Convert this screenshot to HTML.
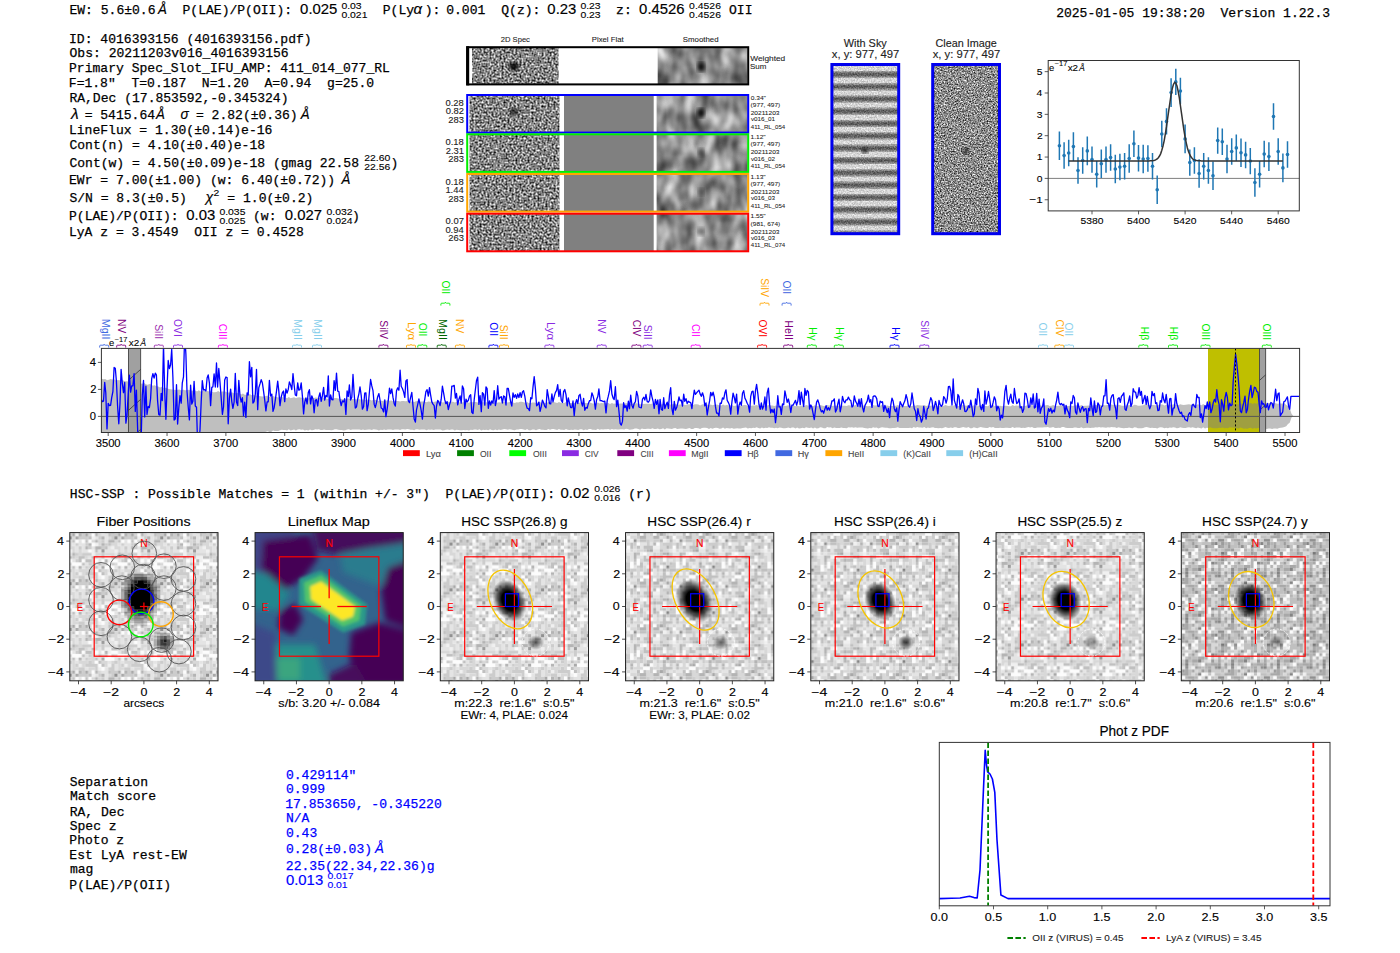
<!DOCTYPE html>
<html><head><meta charset="utf-8"><style>html,body{margin:0;padding:0;background:#fff;overflow:hidden}svg{display:block}</style></head>
<body><svg width="1400" height="953" viewBox="0 0 1400 953">
<defs>
<filter id="nz1" x="0" y="0" width="100%" height="100%" color-interpolation-filters="sRGB">
 <feTurbulence type="fractalNoise" baseFrequency="0.5" numOctaves="1" seed="3"/>
 <feColorMatrix type="matrix" values="0 0 0 0 0  0 0 0 0 0  0 0 0 0 0  1 0 0 0 0"/>
 <feComponentTransfer><feFuncA type="linear" slope="1.6" intercept="-0.28"/></feComponentTransfer>
 <feColorMatrix type="matrix" values="0 0 0 1 0  0 0 0 1 0  0 0 0 1 0  0 0 0 0 1"/>
 <feComposite in2="SourceGraphic" operator="in"/>
</filter>
<filter id="nz2" x="0" y="0" width="100%" height="100%" color-interpolation-filters="sRGB">
 <feTurbulence type="fractalNoise" baseFrequency="0.7" numOctaves="2" seed="7"/>
 <feColorMatrix type="matrix" values="0 0 0 0 0  0 0 0 0 0  0 0 0 0 0  1 0 0 0 0"/>
 <feComponentTransfer><feFuncA type="linear" slope="1.5" intercept="-0.2"/></feComponentTransfer>
 <feColorMatrix type="matrix" values="0 0 0 1 0  0 0 0 1 0  0 0 0 1 0  0 0 0 0 1"/>
 <feComposite in2="SourceGraphic" operator="in"/>
</filter>
<filter id="smooth" x="0" y="0" width="100%" height="100%" color-interpolation-filters="sRGB">
 <feTurbulence type="fractalNoise" baseFrequency="0.075 0.045" numOctaves="2" seed="11"/>
 <feColorMatrix type="matrix" values="0 0 0 0 0  0 0 0 0 0  0 0 0 0 0  1 0 0 0 0"/>
 <feComponentTransfer><feFuncA type="linear" slope="0.9" intercept="0.1"/></feComponentTransfer>
 <feColorMatrix type="matrix" values="0 0 0 1 0  0 0 0 1 0  0 0 0 1 0  0 0 0 0 1"/>
 <feComposite in2="SourceGraphic" operator="in"/>
</filter>
<filter id="blur15"><feGaussianBlur stdDeviation="1.5"/></filter>
<filter id="blur2"><feGaussianBlur stdDeviation="2"/></filter>
<filter id="blur3"><feGaussianBlur stdDeviation="3"/></filter>
<pattern id="tA" patternUnits="userSpaceOnUse" width="45.78" height="45.78"><path d="M22.9 32.7h3.32v3.32h-3.32z" fill="rgb(144,144,144)"/><path d="M9.8 0.0h3.32v3.32h-3.32z" fill="rgb(156,156,156)"/><path d="M9.8 16.4h3.32v3.32h-3.32zM26.2 29.4h3.32v3.32h-3.32zM29.4 32.7h3.32v3.32h-3.32zM39.2 29.4h3.32v3.32h-3.32z" fill="rgb(168,168,168)"/><path d="M3.3 29.4h3.32v3.32h-3.32zM3.3 36.0h3.32v3.32h-3.32zM3.3 42.5h3.32v3.32h-3.32zM6.5 42.5h3.32v3.32h-3.32zM9.8 32.7h3.32v3.32h-3.32zM9.8 39.2h3.32v3.32h-3.32zM13.1 9.8h3.32v3.32h-3.32zM16.4 36.0h3.32v3.32h-3.32zM19.6 36.0h3.32v3.32h-3.32zM26.2 3.3h3.32v3.32h-3.32zM32.7 16.4h3.32v3.32h-3.32zM32.7 29.4h3.32v3.32h-3.32zM39.2 42.5h3.32v3.32h-3.32zM42.5 39.2h3.32v3.32h-3.32z" fill="rgb(180,180,180)"/><path d="M0.0 6.5h3.32v3.32h-3.32zM3.3 0.0h3.32v3.32h-3.32zM3.3 16.4h3.32v3.32h-3.32zM6.5 13.1h3.32v3.32h-3.32zM6.5 19.6h3.32v3.32h-3.32zM9.8 22.9h3.32v3.32h-3.32zM13.1 42.5h3.32v3.32h-3.32zM16.4 29.4h3.32v3.32h-3.32zM16.4 39.2h3.32v3.32h-3.32zM19.6 6.5h3.32v3.32h-3.32zM22.9 6.5h3.32v3.32h-3.32zM26.2 16.4h3.32v3.32h-3.32zM26.2 36.0h3.32v3.32h-3.32zM32.7 6.5h3.32v3.32h-3.32zM32.7 9.8h3.32v3.32h-3.32zM36.0 6.5h3.32v3.32h-3.32zM36.0 13.1h3.32v3.32h-3.32zM39.2 9.8h3.32v3.32h-3.32zM39.2 36.0h3.32v3.32h-3.32zM42.5 9.8h3.32v3.32h-3.32zM42.5 32.7h3.32v3.32h-3.32z" fill="rgb(192,192,192)"/><path d="M0.0 22.9h3.32v3.32h-3.32zM3.3 22.9h3.32v3.32h-3.32zM3.3 26.2h3.32v3.32h-3.32zM6.5 32.7h3.32v3.32h-3.32zM9.8 3.3h3.32v3.32h-3.32zM9.8 6.5h3.32v3.32h-3.32zM9.8 36.0h3.32v3.32h-3.32zM9.8 42.5h3.32v3.32h-3.32zM13.1 13.1h3.32v3.32h-3.32zM13.1 39.2h3.32v3.32h-3.32zM16.4 26.2h3.32v3.32h-3.32zM19.6 13.1h3.32v3.32h-3.32zM19.6 22.9h3.32v3.32h-3.32zM19.6 26.2h3.32v3.32h-3.32zM19.6 29.4h3.32v3.32h-3.32zM19.6 32.7h3.32v3.32h-3.32zM22.9 19.6h3.32v3.32h-3.32zM22.9 29.4h3.32v3.32h-3.32zM26.2 6.5h3.32v3.32h-3.32zM29.4 3.3h3.32v3.32h-3.32zM29.4 9.8h3.32v3.32h-3.32zM29.4 22.9h3.32v3.32h-3.32zM29.4 39.2h3.32v3.32h-3.32zM32.7 26.2h3.32v3.32h-3.32zM32.7 32.7h3.32v3.32h-3.32zM32.7 42.5h3.32v3.32h-3.32zM36.0 3.3h3.32v3.32h-3.32zM36.0 26.2h3.32v3.32h-3.32zM36.0 29.4h3.32v3.32h-3.32zM36.0 32.7h3.32v3.32h-3.32zM39.2 3.3h3.32v3.32h-3.32zM39.2 16.4h3.32v3.32h-3.32zM39.2 22.9h3.32v3.32h-3.32zM39.2 32.7h3.32v3.32h-3.32zM39.2 39.2h3.32v3.32h-3.32zM42.5 3.3h3.32v3.32h-3.32zM42.5 13.1h3.32v3.32h-3.32zM42.5 19.6h3.32v3.32h-3.32zM42.5 22.9h3.32v3.32h-3.32zM42.5 42.5h3.32v3.32h-3.32z" fill="rgb(204,204,204)"/><path d="M0.0 9.8h3.32v3.32h-3.32zM0.0 13.1h3.32v3.32h-3.32zM0.0 16.4h3.32v3.32h-3.32zM0.0 19.6h3.32v3.32h-3.32zM0.0 26.2h3.32v3.32h-3.32zM0.0 36.0h3.32v3.32h-3.32zM3.3 3.3h3.32v3.32h-3.32zM3.3 6.5h3.32v3.32h-3.32zM6.5 3.3h3.32v3.32h-3.32zM6.5 29.4h3.32v3.32h-3.32zM6.5 36.0h3.32v3.32h-3.32zM6.5 39.2h3.32v3.32h-3.32zM9.8 13.1h3.32v3.32h-3.32zM9.8 19.6h3.32v3.32h-3.32zM13.1 3.3h3.32v3.32h-3.32zM13.1 19.6h3.32v3.32h-3.32zM13.1 22.9h3.32v3.32h-3.32zM16.4 3.3h3.32v3.32h-3.32zM16.4 32.7h3.32v3.32h-3.32zM19.6 3.3h3.32v3.32h-3.32zM19.6 19.6h3.32v3.32h-3.32zM19.6 39.2h3.32v3.32h-3.32zM22.9 13.1h3.32v3.32h-3.32zM22.9 36.0h3.32v3.32h-3.32zM22.9 39.2h3.32v3.32h-3.32zM22.9 42.5h3.32v3.32h-3.32zM26.2 0.0h3.32v3.32h-3.32zM26.2 19.6h3.32v3.32h-3.32zM26.2 22.9h3.32v3.32h-3.32zM26.2 26.2h3.32v3.32h-3.32zM26.2 32.7h3.32v3.32h-3.32zM26.2 42.5h3.32v3.32h-3.32zM29.4 6.5h3.32v3.32h-3.32zM29.4 26.2h3.32v3.32h-3.32zM32.7 0.0h3.32v3.32h-3.32zM32.7 3.3h3.32v3.32h-3.32zM32.7 19.6h3.32v3.32h-3.32zM36.0 19.6h3.32v3.32h-3.32zM36.0 22.9h3.32v3.32h-3.32zM39.2 6.5h3.32v3.32h-3.32zM39.2 19.6h3.32v3.32h-3.32zM42.5 16.4h3.32v3.32h-3.32zM42.5 26.2h3.32v3.32h-3.32zM42.5 29.4h3.32v3.32h-3.32z" fill="rgb(216,216,216)"/><path d="M0.0 42.5h3.32v3.32h-3.32zM3.3 13.1h3.32v3.32h-3.32zM3.3 32.7h3.32v3.32h-3.32zM6.5 0.0h3.32v3.32h-3.32zM6.5 6.5h3.32v3.32h-3.32zM6.5 9.8h3.32v3.32h-3.32zM6.5 16.4h3.32v3.32h-3.32zM9.8 29.4h3.32v3.32h-3.32zM13.1 0.0h3.32v3.32h-3.32zM13.1 26.2h3.32v3.32h-3.32zM13.1 29.4h3.32v3.32h-3.32zM13.1 32.7h3.32v3.32h-3.32zM13.1 36.0h3.32v3.32h-3.32zM16.4 0.0h3.32v3.32h-3.32zM16.4 19.6h3.32v3.32h-3.32zM16.4 42.5h3.32v3.32h-3.32zM19.6 0.0h3.32v3.32h-3.32zM22.9 3.3h3.32v3.32h-3.32zM22.9 16.4h3.32v3.32h-3.32zM22.9 22.9h3.32v3.32h-3.32zM22.9 26.2h3.32v3.32h-3.32zM26.2 9.8h3.32v3.32h-3.32zM26.2 39.2h3.32v3.32h-3.32zM29.4 0.0h3.32v3.32h-3.32zM29.4 19.6h3.32v3.32h-3.32zM29.4 42.5h3.32v3.32h-3.32zM32.7 36.0h3.32v3.32h-3.32zM32.7 39.2h3.32v3.32h-3.32zM36.0 0.0h3.32v3.32h-3.32zM36.0 16.4h3.32v3.32h-3.32zM36.0 39.2h3.32v3.32h-3.32zM36.0 42.5h3.32v3.32h-3.32zM39.2 0.0h3.32v3.32h-3.32zM39.2 13.1h3.32v3.32h-3.32zM39.2 26.2h3.32v3.32h-3.32zM42.5 6.5h3.32v3.32h-3.32z" fill="rgb(228,228,228)"/><path d="M0.0 0.0h3.32v3.32h-3.32zM0.0 3.3h3.32v3.32h-3.32zM0.0 32.7h3.32v3.32h-3.32zM3.3 39.2h3.32v3.32h-3.32zM6.5 26.2h3.32v3.32h-3.32zM13.1 6.5h3.32v3.32h-3.32zM16.4 6.5h3.32v3.32h-3.32zM16.4 9.8h3.32v3.32h-3.32zM16.4 22.9h3.32v3.32h-3.32zM19.6 42.5h3.32v3.32h-3.32zM22.9 0.0h3.32v3.32h-3.32zM29.4 16.4h3.32v3.32h-3.32zM29.4 29.4h3.32v3.32h-3.32zM32.7 22.9h3.32v3.32h-3.32z" fill="rgb(240,240,240)"/><path d="M0.0 29.4h3.32v3.32h-3.32zM0.0 39.2h3.32v3.32h-3.32zM3.3 9.8h3.32v3.32h-3.32zM3.3 19.6h3.32v3.32h-3.32zM6.5 22.9h3.32v3.32h-3.32zM9.8 9.8h3.32v3.32h-3.32zM9.8 26.2h3.32v3.32h-3.32zM13.1 16.4h3.32v3.32h-3.32zM16.4 13.1h3.32v3.32h-3.32zM16.4 16.4h3.32v3.32h-3.32zM19.6 9.8h3.32v3.32h-3.32zM19.6 16.4h3.32v3.32h-3.32zM22.9 9.8h3.32v3.32h-3.32zM26.2 13.1h3.32v3.32h-3.32zM29.4 13.1h3.32v3.32h-3.32zM29.4 36.0h3.32v3.32h-3.32zM32.7 13.1h3.32v3.32h-3.32zM36.0 9.8h3.32v3.32h-3.32zM36.0 36.0h3.32v3.32h-3.32zM42.5 0.0h3.32v3.32h-3.32zM42.5 36.0h3.32v3.32h-3.32z" fill="rgb(252,252,252)"/></pattern><pattern id="tB" patternUnits="userSpaceOnUse" width="45.78" height="45.78"><path d="M3.3 6.5h3.32v3.32h-3.32z" fill="rgb(132,132,132)"/><path d="M16.4 26.2h3.32v3.32h-3.32z" fill="rgb(144,144,144)"/><path d="M3.3 22.9h3.32v3.32h-3.32zM3.3 39.2h3.32v3.32h-3.32zM29.4 13.1h3.32v3.32h-3.32zM32.7 36.0h3.32v3.32h-3.32zM36.0 3.3h3.32v3.32h-3.32zM42.5 19.6h3.32v3.32h-3.32z" fill="rgb(168,168,168)"/><path d="M0.0 9.8h3.32v3.32h-3.32zM0.0 39.2h3.32v3.32h-3.32zM3.3 32.7h3.32v3.32h-3.32zM6.5 26.2h3.32v3.32h-3.32zM13.1 13.1h3.32v3.32h-3.32zM16.4 39.2h3.32v3.32h-3.32zM16.4 42.5h3.32v3.32h-3.32zM22.9 22.9h3.32v3.32h-3.32zM26.2 13.1h3.32v3.32h-3.32zM26.2 22.9h3.32v3.32h-3.32zM29.4 36.0h3.32v3.32h-3.32zM36.0 6.5h3.32v3.32h-3.32zM36.0 22.9h3.32v3.32h-3.32zM36.0 29.4h3.32v3.32h-3.32zM36.0 42.5h3.32v3.32h-3.32zM39.2 22.9h3.32v3.32h-3.32zM42.5 26.2h3.32v3.32h-3.32z" fill="rgb(180,180,180)"/><path d="M0.0 3.3h3.32v3.32h-3.32zM0.0 13.1h3.32v3.32h-3.32zM0.0 16.4h3.32v3.32h-3.32zM0.0 19.6h3.32v3.32h-3.32zM3.3 16.4h3.32v3.32h-3.32zM6.5 3.3h3.32v3.32h-3.32zM6.5 9.8h3.32v3.32h-3.32zM6.5 16.4h3.32v3.32h-3.32zM9.8 9.8h3.32v3.32h-3.32zM13.1 16.4h3.32v3.32h-3.32zM13.1 29.4h3.32v3.32h-3.32zM13.1 32.7h3.32v3.32h-3.32zM16.4 0.0h3.32v3.32h-3.32zM19.6 19.6h3.32v3.32h-3.32zM19.6 32.7h3.32v3.32h-3.32zM19.6 39.2h3.32v3.32h-3.32zM22.9 3.3h3.32v3.32h-3.32zM22.9 6.5h3.32v3.32h-3.32zM22.9 26.2h3.32v3.32h-3.32zM26.2 0.0h3.32v3.32h-3.32zM26.2 19.6h3.32v3.32h-3.32zM26.2 26.2h3.32v3.32h-3.32zM26.2 32.7h3.32v3.32h-3.32zM26.2 42.5h3.32v3.32h-3.32zM29.4 0.0h3.32v3.32h-3.32zM29.4 9.8h3.32v3.32h-3.32zM29.4 32.7h3.32v3.32h-3.32zM32.7 9.8h3.32v3.32h-3.32zM32.7 32.7h3.32v3.32h-3.32zM39.2 6.5h3.32v3.32h-3.32zM39.2 19.6h3.32v3.32h-3.32zM39.2 42.5h3.32v3.32h-3.32zM42.5 36.0h3.32v3.32h-3.32zM42.5 42.5h3.32v3.32h-3.32z" fill="rgb(192,192,192)"/><path d="M0.0 29.4h3.32v3.32h-3.32zM3.3 9.8h3.32v3.32h-3.32zM3.3 29.4h3.32v3.32h-3.32zM3.3 42.5h3.32v3.32h-3.32zM6.5 6.5h3.32v3.32h-3.32zM6.5 13.1h3.32v3.32h-3.32zM6.5 22.9h3.32v3.32h-3.32zM6.5 29.4h3.32v3.32h-3.32zM6.5 32.7h3.32v3.32h-3.32zM6.5 39.2h3.32v3.32h-3.32zM6.5 42.5h3.32v3.32h-3.32zM9.8 3.3h3.32v3.32h-3.32zM9.8 6.5h3.32v3.32h-3.32zM13.1 9.8h3.32v3.32h-3.32zM16.4 3.3h3.32v3.32h-3.32zM16.4 9.8h3.32v3.32h-3.32zM16.4 29.4h3.32v3.32h-3.32zM19.6 6.5h3.32v3.32h-3.32zM19.6 22.9h3.32v3.32h-3.32zM22.9 9.8h3.32v3.32h-3.32zM26.2 36.0h3.32v3.32h-3.32zM29.4 26.2h3.32v3.32h-3.32zM29.4 29.4h3.32v3.32h-3.32zM32.7 16.4h3.32v3.32h-3.32zM32.7 19.6h3.32v3.32h-3.32zM32.7 42.5h3.32v3.32h-3.32zM36.0 26.2h3.32v3.32h-3.32zM36.0 39.2h3.32v3.32h-3.32zM39.2 9.8h3.32v3.32h-3.32zM39.2 26.2h3.32v3.32h-3.32zM42.5 3.3h3.32v3.32h-3.32zM42.5 16.4h3.32v3.32h-3.32zM42.5 39.2h3.32v3.32h-3.32z" fill="rgb(204,204,204)"/><path d="M0.0 22.9h3.32v3.32h-3.32zM0.0 32.7h3.32v3.32h-3.32zM0.0 36.0h3.32v3.32h-3.32zM3.3 0.0h3.32v3.32h-3.32zM3.3 3.3h3.32v3.32h-3.32zM3.3 19.6h3.32v3.32h-3.32zM3.3 36.0h3.32v3.32h-3.32zM9.8 0.0h3.32v3.32h-3.32zM9.8 19.6h3.32v3.32h-3.32zM9.8 29.4h3.32v3.32h-3.32zM9.8 42.5h3.32v3.32h-3.32zM13.1 22.9h3.32v3.32h-3.32zM13.1 36.0h3.32v3.32h-3.32zM16.4 16.4h3.32v3.32h-3.32zM16.4 22.9h3.32v3.32h-3.32zM16.4 32.7h3.32v3.32h-3.32zM19.6 9.8h3.32v3.32h-3.32zM19.6 13.1h3.32v3.32h-3.32zM19.6 16.4h3.32v3.32h-3.32zM19.6 26.2h3.32v3.32h-3.32zM19.6 36.0h3.32v3.32h-3.32zM22.9 0.0h3.32v3.32h-3.32zM22.9 16.4h3.32v3.32h-3.32zM22.9 36.0h3.32v3.32h-3.32zM26.2 6.5h3.32v3.32h-3.32zM26.2 9.8h3.32v3.32h-3.32zM29.4 3.3h3.32v3.32h-3.32zM29.4 19.6h3.32v3.32h-3.32zM29.4 22.9h3.32v3.32h-3.32zM32.7 22.9h3.32v3.32h-3.32zM32.7 26.2h3.32v3.32h-3.32zM36.0 0.0h3.32v3.32h-3.32zM36.0 16.4h3.32v3.32h-3.32zM39.2 13.1h3.32v3.32h-3.32zM39.2 16.4h3.32v3.32h-3.32zM39.2 39.2h3.32v3.32h-3.32zM42.5 0.0h3.32v3.32h-3.32zM42.5 9.8h3.32v3.32h-3.32zM42.5 29.4h3.32v3.32h-3.32zM42.5 32.7h3.32v3.32h-3.32z" fill="rgb(216,216,216)"/><path d="M0.0 6.5h3.32v3.32h-3.32zM3.3 26.2h3.32v3.32h-3.32zM6.5 0.0h3.32v3.32h-3.32zM6.5 19.6h3.32v3.32h-3.32zM6.5 36.0h3.32v3.32h-3.32zM9.8 13.1h3.32v3.32h-3.32zM9.8 16.4h3.32v3.32h-3.32zM9.8 26.2h3.32v3.32h-3.32zM9.8 39.2h3.32v3.32h-3.32zM13.1 0.0h3.32v3.32h-3.32zM13.1 19.6h3.32v3.32h-3.32zM13.1 39.2h3.32v3.32h-3.32zM13.1 42.5h3.32v3.32h-3.32zM16.4 6.5h3.32v3.32h-3.32zM16.4 19.6h3.32v3.32h-3.32zM16.4 36.0h3.32v3.32h-3.32zM19.6 42.5h3.32v3.32h-3.32zM22.9 29.4h3.32v3.32h-3.32zM22.9 32.7h3.32v3.32h-3.32zM22.9 42.5h3.32v3.32h-3.32zM26.2 3.3h3.32v3.32h-3.32zM26.2 29.4h3.32v3.32h-3.32zM29.4 39.2h3.32v3.32h-3.32zM29.4 42.5h3.32v3.32h-3.32zM32.7 0.0h3.32v3.32h-3.32zM32.7 3.3h3.32v3.32h-3.32zM32.7 6.5h3.32v3.32h-3.32zM32.7 29.4h3.32v3.32h-3.32zM32.7 39.2h3.32v3.32h-3.32zM36.0 9.8h3.32v3.32h-3.32zM36.0 13.1h3.32v3.32h-3.32zM36.0 36.0h3.32v3.32h-3.32zM39.2 0.0h3.32v3.32h-3.32zM39.2 3.3h3.32v3.32h-3.32zM39.2 36.0h3.32v3.32h-3.32zM42.5 13.1h3.32v3.32h-3.32zM42.5 22.9h3.32v3.32h-3.32z" fill="rgb(228,228,228)"/><path d="M0.0 26.2h3.32v3.32h-3.32zM0.0 42.5h3.32v3.32h-3.32zM3.3 13.1h3.32v3.32h-3.32zM9.8 36.0h3.32v3.32h-3.32zM13.1 26.2h3.32v3.32h-3.32zM16.4 13.1h3.32v3.32h-3.32zM22.9 13.1h3.32v3.32h-3.32zM22.9 39.2h3.32v3.32h-3.32zM29.4 6.5h3.32v3.32h-3.32zM36.0 32.7h3.32v3.32h-3.32zM39.2 32.7h3.32v3.32h-3.32z" fill="rgb(240,240,240)"/><path d="M0.0 0.0h3.32v3.32h-3.32zM9.8 22.9h3.32v3.32h-3.32zM9.8 32.7h3.32v3.32h-3.32zM13.1 3.3h3.32v3.32h-3.32zM13.1 6.5h3.32v3.32h-3.32zM19.6 0.0h3.32v3.32h-3.32zM19.6 3.3h3.32v3.32h-3.32zM19.6 29.4h3.32v3.32h-3.32zM22.9 19.6h3.32v3.32h-3.32zM26.2 16.4h3.32v3.32h-3.32zM26.2 39.2h3.32v3.32h-3.32zM29.4 16.4h3.32v3.32h-3.32zM32.7 13.1h3.32v3.32h-3.32zM36.0 19.6h3.32v3.32h-3.32zM39.2 29.4h3.32v3.32h-3.32zM42.5 6.5h3.32v3.32h-3.32z" fill="rgb(252,252,252)"/></pattern><pattern id="tC" patternUnits="userSpaceOnUse" width="45.78" height="45.78"><path d="M3.3 42.5h3.32v3.32h-3.32zM36.0 29.4h3.32v3.32h-3.32z" fill="rgb(120,120,120)"/><path d="M3.3 3.3h3.32v3.32h-3.32zM6.5 3.3h3.32v3.32h-3.32zM13.1 29.4h3.32v3.32h-3.32zM19.6 32.7h3.32v3.32h-3.32zM22.9 32.7h3.32v3.32h-3.32z" fill="rgb(132,132,132)"/><path d="M3.3 32.7h3.32v3.32h-3.32zM6.5 42.5h3.32v3.32h-3.32zM13.1 22.9h3.32v3.32h-3.32zM19.6 42.5h3.32v3.32h-3.32zM32.7 6.5h3.32v3.32h-3.32zM36.0 32.7h3.32v3.32h-3.32z" fill="rgb(144,144,144)"/><path d="M0.0 26.2h3.32v3.32h-3.32zM0.0 29.4h3.32v3.32h-3.32zM3.3 6.5h3.32v3.32h-3.32zM13.1 26.2h3.32v3.32h-3.32zM29.4 39.2h3.32v3.32h-3.32zM32.7 0.0h3.32v3.32h-3.32zM32.7 29.4h3.32v3.32h-3.32zM36.0 22.9h3.32v3.32h-3.32zM42.5 32.7h3.32v3.32h-3.32zM42.5 42.5h3.32v3.32h-3.32z" fill="rgb(156,156,156)"/><path d="M0.0 22.9h3.32v3.32h-3.32zM3.3 26.2h3.32v3.32h-3.32zM3.3 36.0h3.32v3.32h-3.32zM9.8 26.2h3.32v3.32h-3.32zM9.8 29.4h3.32v3.32h-3.32zM13.1 13.1h3.32v3.32h-3.32zM13.1 16.4h3.32v3.32h-3.32zM13.1 32.7h3.32v3.32h-3.32zM13.1 39.2h3.32v3.32h-3.32zM19.6 9.8h3.32v3.32h-3.32zM19.6 16.4h3.32v3.32h-3.32zM19.6 19.6h3.32v3.32h-3.32zM22.9 16.4h3.32v3.32h-3.32zM22.9 22.9h3.32v3.32h-3.32zM26.2 26.2h3.32v3.32h-3.32zM29.4 6.5h3.32v3.32h-3.32zM29.4 29.4h3.32v3.32h-3.32zM29.4 32.7h3.32v3.32h-3.32zM32.7 16.4h3.32v3.32h-3.32zM36.0 36.0h3.32v3.32h-3.32zM39.2 22.9h3.32v3.32h-3.32zM42.5 19.6h3.32v3.32h-3.32zM42.5 26.2h3.32v3.32h-3.32z" fill="rgb(168,168,168)"/><path d="M3.3 0.0h3.32v3.32h-3.32zM6.5 9.8h3.32v3.32h-3.32zM6.5 26.2h3.32v3.32h-3.32zM9.8 22.9h3.32v3.32h-3.32zM9.8 36.0h3.32v3.32h-3.32zM13.1 36.0h3.32v3.32h-3.32zM16.4 19.6h3.32v3.32h-3.32zM16.4 29.4h3.32v3.32h-3.32zM16.4 36.0h3.32v3.32h-3.32zM16.4 39.2h3.32v3.32h-3.32zM22.9 6.5h3.32v3.32h-3.32zM26.2 0.0h3.32v3.32h-3.32zM29.4 0.0h3.32v3.32h-3.32zM29.4 9.8h3.32v3.32h-3.32zM32.7 3.3h3.32v3.32h-3.32zM36.0 3.3h3.32v3.32h-3.32zM39.2 0.0h3.32v3.32h-3.32zM39.2 16.4h3.32v3.32h-3.32zM39.2 19.6h3.32v3.32h-3.32zM39.2 29.4h3.32v3.32h-3.32zM39.2 36.0h3.32v3.32h-3.32zM42.5 6.5h3.32v3.32h-3.32zM42.5 13.1h3.32v3.32h-3.32z" fill="rgb(180,180,180)"/><path d="M0.0 9.8h3.32v3.32h-3.32zM0.0 13.1h3.32v3.32h-3.32zM0.0 32.7h3.32v3.32h-3.32zM0.0 36.0h3.32v3.32h-3.32zM0.0 39.2h3.32v3.32h-3.32zM3.3 16.4h3.32v3.32h-3.32zM3.3 22.9h3.32v3.32h-3.32zM3.3 29.4h3.32v3.32h-3.32zM6.5 6.5h3.32v3.32h-3.32zM6.5 13.1h3.32v3.32h-3.32zM6.5 32.7h3.32v3.32h-3.32zM6.5 36.0h3.32v3.32h-3.32zM9.8 0.0h3.32v3.32h-3.32zM9.8 39.2h3.32v3.32h-3.32zM13.1 0.0h3.32v3.32h-3.32zM13.1 3.3h3.32v3.32h-3.32zM16.4 0.0h3.32v3.32h-3.32zM16.4 3.3h3.32v3.32h-3.32zM16.4 6.5h3.32v3.32h-3.32zM16.4 42.5h3.32v3.32h-3.32zM19.6 39.2h3.32v3.32h-3.32zM22.9 0.0h3.32v3.32h-3.32zM22.9 39.2h3.32v3.32h-3.32zM26.2 13.1h3.32v3.32h-3.32zM26.2 16.4h3.32v3.32h-3.32zM26.2 42.5h3.32v3.32h-3.32zM32.7 39.2h3.32v3.32h-3.32zM32.7 42.5h3.32v3.32h-3.32zM36.0 26.2h3.32v3.32h-3.32zM36.0 39.2h3.32v3.32h-3.32zM39.2 13.1h3.32v3.32h-3.32zM42.5 0.0h3.32v3.32h-3.32z" fill="rgb(192,192,192)"/><path d="M0.0 0.0h3.32v3.32h-3.32zM0.0 42.5h3.32v3.32h-3.32zM3.3 13.1h3.32v3.32h-3.32zM6.5 16.4h3.32v3.32h-3.32zM9.8 6.5h3.32v3.32h-3.32zM13.1 9.8h3.32v3.32h-3.32zM16.4 13.1h3.32v3.32h-3.32zM16.4 26.2h3.32v3.32h-3.32zM19.6 0.0h3.32v3.32h-3.32zM19.6 6.5h3.32v3.32h-3.32zM19.6 13.1h3.32v3.32h-3.32zM19.6 29.4h3.32v3.32h-3.32zM22.9 26.2h3.32v3.32h-3.32zM26.2 22.9h3.32v3.32h-3.32zM26.2 36.0h3.32v3.32h-3.32zM29.4 22.9h3.32v3.32h-3.32zM29.4 26.2h3.32v3.32h-3.32zM29.4 36.0h3.32v3.32h-3.32zM32.7 26.2h3.32v3.32h-3.32zM36.0 19.6h3.32v3.32h-3.32zM39.2 26.2h3.32v3.32h-3.32zM39.2 39.2h3.32v3.32h-3.32zM42.5 22.9h3.32v3.32h-3.32zM42.5 36.0h3.32v3.32h-3.32z" fill="rgb(204,204,204)"/><path d="M0.0 16.4h3.32v3.32h-3.32zM0.0 19.6h3.32v3.32h-3.32zM9.8 16.4h3.32v3.32h-3.32zM9.8 19.6h3.32v3.32h-3.32zM9.8 42.5h3.32v3.32h-3.32zM16.4 9.8h3.32v3.32h-3.32zM16.4 22.9h3.32v3.32h-3.32zM16.4 32.7h3.32v3.32h-3.32zM19.6 3.3h3.32v3.32h-3.32zM19.6 22.9h3.32v3.32h-3.32zM22.9 29.4h3.32v3.32h-3.32zM26.2 3.3h3.32v3.32h-3.32zM26.2 6.5h3.32v3.32h-3.32zM26.2 19.6h3.32v3.32h-3.32zM26.2 32.7h3.32v3.32h-3.32zM29.4 3.3h3.32v3.32h-3.32zM29.4 19.6h3.32v3.32h-3.32zM29.4 42.5h3.32v3.32h-3.32zM32.7 36.0h3.32v3.32h-3.32zM39.2 3.3h3.32v3.32h-3.32zM39.2 9.8h3.32v3.32h-3.32zM39.2 42.5h3.32v3.32h-3.32zM42.5 3.3h3.32v3.32h-3.32zM42.5 39.2h3.32v3.32h-3.32z" fill="rgb(216,216,216)"/><path d="M0.0 3.3h3.32v3.32h-3.32zM3.3 9.8h3.32v3.32h-3.32zM3.3 19.6h3.32v3.32h-3.32zM6.5 22.9h3.32v3.32h-3.32zM9.8 9.8h3.32v3.32h-3.32zM9.8 32.7h3.32v3.32h-3.32zM13.1 42.5h3.32v3.32h-3.32zM16.4 16.4h3.32v3.32h-3.32zM19.6 36.0h3.32v3.32h-3.32zM22.9 3.3h3.32v3.32h-3.32zM22.9 13.1h3.32v3.32h-3.32zM22.9 36.0h3.32v3.32h-3.32zM29.4 13.1h3.32v3.32h-3.32zM29.4 16.4h3.32v3.32h-3.32zM32.7 9.8h3.32v3.32h-3.32zM36.0 13.1h3.32v3.32h-3.32zM39.2 6.5h3.32v3.32h-3.32zM39.2 32.7h3.32v3.32h-3.32z" fill="rgb(228,228,228)"/><path d="M6.5 0.0h3.32v3.32h-3.32zM6.5 19.6h3.32v3.32h-3.32zM13.1 6.5h3.32v3.32h-3.32zM26.2 9.8h3.32v3.32h-3.32zM32.7 13.1h3.32v3.32h-3.32zM32.7 19.6h3.32v3.32h-3.32zM32.7 22.9h3.32v3.32h-3.32zM36.0 6.5h3.32v3.32h-3.32zM36.0 9.8h3.32v3.32h-3.32zM36.0 42.5h3.32v3.32h-3.32zM42.5 9.8h3.32v3.32h-3.32zM42.5 29.4h3.32v3.32h-3.32z" fill="rgb(240,240,240)"/><path d="M0.0 6.5h3.32v3.32h-3.32zM3.3 39.2h3.32v3.32h-3.32zM6.5 29.4h3.32v3.32h-3.32zM6.5 39.2h3.32v3.32h-3.32zM9.8 3.3h3.32v3.32h-3.32zM9.8 13.1h3.32v3.32h-3.32zM13.1 19.6h3.32v3.32h-3.32zM19.6 26.2h3.32v3.32h-3.32zM22.9 9.8h3.32v3.32h-3.32zM22.9 19.6h3.32v3.32h-3.32zM22.9 42.5h3.32v3.32h-3.32zM26.2 29.4h3.32v3.32h-3.32zM26.2 39.2h3.32v3.32h-3.32zM32.7 32.7h3.32v3.32h-3.32zM36.0 0.0h3.32v3.32h-3.32zM36.0 16.4h3.32v3.32h-3.32zM42.5 16.4h3.32v3.32h-3.32z" fill="rgb(252,252,252)"/></pattern><pattern id="tD" patternUnits="userSpaceOnUse" width="45.78" height="45.78"><path d="M32.7 29.4h3.32v3.32h-3.32z" fill="rgb(120,120,120)"/><path d="M9.8 0.0h3.32v3.32h-3.32zM9.8 13.1h3.32v3.32h-3.32zM22.9 39.2h3.32v3.32h-3.32zM26.2 19.6h3.32v3.32h-3.32zM29.4 6.5h3.32v3.32h-3.32zM42.5 3.3h3.32v3.32h-3.32z" fill="rgb(132,132,132)"/><path d="M0.0 29.4h3.32v3.32h-3.32zM6.5 22.9h3.32v3.32h-3.32zM6.5 36.0h3.32v3.32h-3.32zM16.4 16.4h3.32v3.32h-3.32zM16.4 22.9h3.32v3.32h-3.32zM26.2 6.5h3.32v3.32h-3.32zM29.4 16.4h3.32v3.32h-3.32zM32.7 16.4h3.32v3.32h-3.32zM32.7 36.0h3.32v3.32h-3.32zM42.5 0.0h3.32v3.32h-3.32zM42.5 6.5h3.32v3.32h-3.32z" fill="rgb(144,144,144)"/><path d="M3.3 19.6h3.32v3.32h-3.32zM3.3 39.2h3.32v3.32h-3.32zM6.5 6.5h3.32v3.32h-3.32zM13.1 9.8h3.32v3.32h-3.32zM16.4 29.4h3.32v3.32h-3.32zM19.6 9.8h3.32v3.32h-3.32zM22.9 0.0h3.32v3.32h-3.32zM22.9 19.6h3.32v3.32h-3.32zM26.2 39.2h3.32v3.32h-3.32zM29.4 3.3h3.32v3.32h-3.32zM29.4 22.9h3.32v3.32h-3.32zM32.7 19.6h3.32v3.32h-3.32zM36.0 3.3h3.32v3.32h-3.32zM36.0 29.4h3.32v3.32h-3.32zM39.2 9.8h3.32v3.32h-3.32zM39.2 22.9h3.32v3.32h-3.32zM42.5 26.2h3.32v3.32h-3.32z" fill="rgb(156,156,156)"/><path d="M0.0 16.4h3.32v3.32h-3.32zM0.0 32.7h3.32v3.32h-3.32zM3.3 0.0h3.32v3.32h-3.32zM3.3 9.8h3.32v3.32h-3.32zM3.3 16.4h3.32v3.32h-3.32zM6.5 0.0h3.32v3.32h-3.32zM9.8 42.5h3.32v3.32h-3.32zM13.1 42.5h3.32v3.32h-3.32zM16.4 3.3h3.32v3.32h-3.32zM16.4 26.2h3.32v3.32h-3.32zM19.6 6.5h3.32v3.32h-3.32zM19.6 29.4h3.32v3.32h-3.32zM19.6 36.0h3.32v3.32h-3.32zM22.9 3.3h3.32v3.32h-3.32zM26.2 3.3h3.32v3.32h-3.32zM26.2 26.2h3.32v3.32h-3.32zM29.4 0.0h3.32v3.32h-3.32zM29.4 36.0h3.32v3.32h-3.32zM32.7 22.9h3.32v3.32h-3.32zM32.7 32.7h3.32v3.32h-3.32zM32.7 39.2h3.32v3.32h-3.32zM36.0 6.5h3.32v3.32h-3.32zM36.0 13.1h3.32v3.32h-3.32zM36.0 26.2h3.32v3.32h-3.32zM39.2 13.1h3.32v3.32h-3.32zM39.2 19.6h3.32v3.32h-3.32zM39.2 26.2h3.32v3.32h-3.32zM39.2 39.2h3.32v3.32h-3.32zM42.5 9.8h3.32v3.32h-3.32zM42.5 13.1h3.32v3.32h-3.32z" fill="rgb(168,168,168)"/><path d="M0.0 42.5h3.32v3.32h-3.32zM3.3 3.3h3.32v3.32h-3.32zM3.3 22.9h3.32v3.32h-3.32zM6.5 16.4h3.32v3.32h-3.32zM9.8 6.5h3.32v3.32h-3.32zM9.8 26.2h3.32v3.32h-3.32zM16.4 6.5h3.32v3.32h-3.32zM16.4 36.0h3.32v3.32h-3.32zM16.4 39.2h3.32v3.32h-3.32zM16.4 42.5h3.32v3.32h-3.32zM19.6 3.3h3.32v3.32h-3.32zM19.6 22.9h3.32v3.32h-3.32zM19.6 32.7h3.32v3.32h-3.32zM22.9 22.9h3.32v3.32h-3.32zM26.2 32.7h3.32v3.32h-3.32zM29.4 39.2h3.32v3.32h-3.32zM29.4 42.5h3.32v3.32h-3.32zM36.0 19.6h3.32v3.32h-3.32zM36.0 32.7h3.32v3.32h-3.32zM36.0 36.0h3.32v3.32h-3.32zM36.0 42.5h3.32v3.32h-3.32zM39.2 32.7h3.32v3.32h-3.32zM42.5 16.4h3.32v3.32h-3.32z" fill="rgb(180,180,180)"/><path d="M0.0 0.0h3.32v3.32h-3.32zM0.0 9.8h3.32v3.32h-3.32zM0.0 13.1h3.32v3.32h-3.32zM0.0 19.6h3.32v3.32h-3.32zM0.0 22.9h3.32v3.32h-3.32zM0.0 39.2h3.32v3.32h-3.32zM3.3 36.0h3.32v3.32h-3.32zM3.3 42.5h3.32v3.32h-3.32zM6.5 3.3h3.32v3.32h-3.32zM6.5 13.1h3.32v3.32h-3.32zM6.5 19.6h3.32v3.32h-3.32zM6.5 42.5h3.32v3.32h-3.32zM9.8 22.9h3.32v3.32h-3.32zM9.8 29.4h3.32v3.32h-3.32zM9.8 32.7h3.32v3.32h-3.32zM9.8 36.0h3.32v3.32h-3.32zM13.1 0.0h3.32v3.32h-3.32zM13.1 6.5h3.32v3.32h-3.32zM13.1 19.6h3.32v3.32h-3.32zM13.1 29.4h3.32v3.32h-3.32zM13.1 32.7h3.32v3.32h-3.32zM16.4 9.8h3.32v3.32h-3.32zM16.4 19.6h3.32v3.32h-3.32zM16.4 32.7h3.32v3.32h-3.32zM19.6 13.1h3.32v3.32h-3.32zM19.6 19.6h3.32v3.32h-3.32zM22.9 16.4h3.32v3.32h-3.32zM22.9 26.2h3.32v3.32h-3.32zM26.2 13.1h3.32v3.32h-3.32zM26.2 36.0h3.32v3.32h-3.32zM29.4 13.1h3.32v3.32h-3.32zM29.4 19.6h3.32v3.32h-3.32zM29.4 29.4h3.32v3.32h-3.32zM32.7 6.5h3.32v3.32h-3.32zM32.7 9.8h3.32v3.32h-3.32zM32.7 26.2h3.32v3.32h-3.32zM36.0 22.9h3.32v3.32h-3.32zM39.2 3.3h3.32v3.32h-3.32zM42.5 22.9h3.32v3.32h-3.32zM42.5 42.5h3.32v3.32h-3.32z" fill="rgb(192,192,192)"/><path d="M0.0 3.3h3.32v3.32h-3.32zM0.0 26.2h3.32v3.32h-3.32zM3.3 26.2h3.32v3.32h-3.32zM6.5 39.2h3.32v3.32h-3.32zM9.8 9.8h3.32v3.32h-3.32zM9.8 19.6h3.32v3.32h-3.32zM13.1 26.2h3.32v3.32h-3.32zM22.9 6.5h3.32v3.32h-3.32zM22.9 9.8h3.32v3.32h-3.32zM22.9 42.5h3.32v3.32h-3.32zM26.2 0.0h3.32v3.32h-3.32zM26.2 9.8h3.32v3.32h-3.32zM26.2 16.4h3.32v3.32h-3.32zM29.4 9.8h3.32v3.32h-3.32zM29.4 26.2h3.32v3.32h-3.32zM29.4 32.7h3.32v3.32h-3.32zM32.7 0.0h3.32v3.32h-3.32zM32.7 13.1h3.32v3.32h-3.32zM36.0 16.4h3.32v3.32h-3.32zM39.2 0.0h3.32v3.32h-3.32zM39.2 36.0h3.32v3.32h-3.32zM42.5 19.6h3.32v3.32h-3.32zM42.5 36.0h3.32v3.32h-3.32z" fill="rgb(204,204,204)"/><path d="M0.0 6.5h3.32v3.32h-3.32zM0.0 36.0h3.32v3.32h-3.32zM3.3 13.1h3.32v3.32h-3.32zM6.5 9.8h3.32v3.32h-3.32zM6.5 29.4h3.32v3.32h-3.32zM9.8 3.3h3.32v3.32h-3.32zM13.1 16.4h3.32v3.32h-3.32zM13.1 39.2h3.32v3.32h-3.32zM16.4 0.0h3.32v3.32h-3.32zM19.6 26.2h3.32v3.32h-3.32zM22.9 29.4h3.32v3.32h-3.32zM22.9 32.7h3.32v3.32h-3.32zM22.9 36.0h3.32v3.32h-3.32zM26.2 29.4h3.32v3.32h-3.32zM32.7 3.3h3.32v3.32h-3.32zM36.0 0.0h3.32v3.32h-3.32zM36.0 9.8h3.32v3.32h-3.32zM42.5 29.4h3.32v3.32h-3.32z" fill="rgb(216,216,216)"/><path d="M3.3 32.7h3.32v3.32h-3.32zM19.6 0.0h3.32v3.32h-3.32zM26.2 42.5h3.32v3.32h-3.32zM39.2 6.5h3.32v3.32h-3.32z" fill="rgb(228,228,228)"/><path d="M3.3 6.5h3.32v3.32h-3.32zM6.5 32.7h3.32v3.32h-3.32zM13.1 22.9h3.32v3.32h-3.32zM13.1 36.0h3.32v3.32h-3.32zM16.4 13.1h3.32v3.32h-3.32zM22.9 13.1h3.32v3.32h-3.32zM32.7 42.5h3.32v3.32h-3.32zM39.2 42.5h3.32v3.32h-3.32z" fill="rgb(240,240,240)"/><path d="M3.3 29.4h3.32v3.32h-3.32zM6.5 26.2h3.32v3.32h-3.32zM9.8 16.4h3.32v3.32h-3.32zM9.8 39.2h3.32v3.32h-3.32zM13.1 3.3h3.32v3.32h-3.32zM13.1 13.1h3.32v3.32h-3.32zM19.6 16.4h3.32v3.32h-3.32zM19.6 39.2h3.32v3.32h-3.32zM19.6 42.5h3.32v3.32h-3.32zM26.2 22.9h3.32v3.32h-3.32zM36.0 39.2h3.32v3.32h-3.32zM39.2 16.4h3.32v3.32h-3.32zM39.2 29.4h3.32v3.32h-3.32zM42.5 32.7h3.32v3.32h-3.32zM42.5 39.2h3.32v3.32h-3.32z" fill="rgb(252,252,252)"/></pattern><radialGradient id="gal" cx="0.5" cy="0.5" r="0.5">
<stop offset="0" stop-color="#000" stop-opacity="1"/><stop offset="0.45" stop-color="#000" stop-opacity="1"/>
<stop offset="0.7" stop-color="#000" stop-opacity="0.6"/><stop offset="1" stop-color="#000" stop-opacity="0"/></radialGradient><radialGradient id="gal2" cx="0.5" cy="0.5" r="0.5">
<stop offset="0" stop-color="#000" stop-opacity="0.75"/><stop offset="0.5" stop-color="#000" stop-opacity="0.45"/>
<stop offset="1" stop-color="#000" stop-opacity="0"/></radialGradient></defs>
<rect width="1400" height="953" fill="#fff"/>
<text x="69.45" y="14.20" font-family="'Liberation Mono', monospace" font-size="13.65" fill="#000" stroke="#000" stroke-width="0.25" text-anchor="start" textLength="86.09" lengthAdjust="spacingAndGlyphs" style="white-space:pre" >EW: 5.6±0.6</text>
<text x="157.99" y="14.20" font-family="'Liberation Sans', sans-serif" font-size="13.78" fill="#000" stroke="#000" stroke-width="0.156" text-anchor="start" textLength="8.89" lengthAdjust="spacingAndGlyphs" style="white-space:pre" font-style="italic" >Å</text>
<text x="182.50" y="14.20" font-family="'Liberation Mono', monospace" font-size="13.65" fill="#000" stroke="#000" stroke-width="0.25" text-anchor="start" textLength="109.57" lengthAdjust="spacingAndGlyphs" style="white-space:pre" >P(LAE)/P(OII):</text>
<text x="300.14" y="14.20" font-family="'Liberation Sans', sans-serif" font-size="13.78" fill="#000" stroke="#000" stroke-width="0.156" text-anchor="start" textLength="37.22" lengthAdjust="spacingAndGlyphs" style="white-space:pre" >0.025</text>
<text x="341.40" y="8.80" font-family="'Liberation Sans', sans-serif" font-size="9.65" fill="#000" stroke="#000" stroke-width="0.109" text-anchor="start" textLength="20.26" lengthAdjust="spacingAndGlyphs" style="white-space:pre" >0.03</text>
<text x="341.40" y="17.50" font-family="'Liberation Sans', sans-serif" font-size="9.65" fill="#000" stroke="#000" stroke-width="0.109" text-anchor="start" textLength="26.05" lengthAdjust="spacingAndGlyphs" style="white-space:pre" >0.021</text>
<text x="382.75" y="14.20" font-family="'Liberation Mono', monospace" font-size="13.65" fill="#000" stroke="#000" stroke-width="0.25" text-anchor="start" textLength="31.31" lengthAdjust="spacingAndGlyphs" style="white-space:pre" >P(Ly</text>
<text x="413.41" y="14.20" font-family="'Liberation Sans', sans-serif" font-size="13.78" fill="#000" stroke="#000" stroke-width="0.156" text-anchor="start" textLength="8.57" lengthAdjust="spacingAndGlyphs" style="white-space:pre" font-style="italic" >α</text>
<text x="424.79" y="14.20" font-family="'Liberation Mono', monospace" font-size="13.65" fill="#000" stroke="#000" stroke-width="0.25" text-anchor="start" textLength="15.65" lengthAdjust="spacingAndGlyphs" style="white-space:pre" >):</text>
<text x="446.16" y="14.20" font-family="'Liberation Mono', monospace" font-size="13.65" fill="#000" stroke="#000" stroke-width="0.25" text-anchor="start" textLength="39.13" lengthAdjust="spacingAndGlyphs" style="white-space:pre" >0.001</text>
<text x="501.26" y="14.20" font-family="'Liberation Mono', monospace" font-size="13.65" fill="#000" stroke="#000" stroke-width="0.25" text-anchor="start" textLength="39.13" lengthAdjust="spacingAndGlyphs" style="white-space:pre" >Q(z):</text>
<text x="547.39" y="14.20" font-family="'Liberation Sans', sans-serif" font-size="13.78" fill="#000" stroke="#000" stroke-width="0.156" text-anchor="start" textLength="28.95" lengthAdjust="spacingAndGlyphs" style="white-space:pre" >0.23</text>
<text x="580.40" y="8.80" font-family="'Liberation Sans', sans-serif" font-size="9.65" fill="#000" stroke="#000" stroke-width="0.109" text-anchor="start" textLength="20.26" lengthAdjust="spacingAndGlyphs" style="white-space:pre" >0.23</text>
<text x="580.40" y="17.50" font-family="'Liberation Sans', sans-serif" font-size="9.65" fill="#000" stroke="#000" stroke-width="0.109" text-anchor="start" textLength="20.26" lengthAdjust="spacingAndGlyphs" style="white-space:pre" >0.23</text>
<text x="616.11" y="14.20" font-family="'Liberation Mono', monospace" font-size="13.65" fill="#000" stroke="#000" stroke-width="0.25" text-anchor="start" textLength="15.65" lengthAdjust="spacingAndGlyphs" style="white-space:pre" >z:</text>
<text x="639.14" y="14.20" font-family="'Liberation Sans', sans-serif" font-size="13.78" fill="#000" stroke="#000" stroke-width="0.156" text-anchor="start" textLength="45.49" lengthAdjust="spacingAndGlyphs" style="white-space:pre" >0.4526</text>
<text x="689.10" y="8.80" font-family="'Liberation Sans', sans-serif" font-size="9.65" fill="#000" stroke="#000" stroke-width="0.109" text-anchor="start" textLength="31.84" lengthAdjust="spacingAndGlyphs" style="white-space:pre" >0.4526</text>
<text x="689.10" y="17.50" font-family="'Liberation Sans', sans-serif" font-size="9.65" fill="#000" stroke="#000" stroke-width="0.109" text-anchor="start" textLength="31.84" lengthAdjust="spacingAndGlyphs" style="white-space:pre" >0.4526</text>
<text x="729.06" y="14.20" font-family="'Liberation Mono', monospace" font-size="13.65" fill="#000" stroke="#000" stroke-width="0.25" text-anchor="start" textLength="23.48" lengthAdjust="spacingAndGlyphs" style="white-space:pre" >OII</text>
<text x="1056.14" y="16.70" font-family="'Liberation Mono', monospace" font-size="13.65" fill="#000" stroke="#000" stroke-width="0.25" text-anchor="start" textLength="273.93" lengthAdjust="spacingAndGlyphs" style="white-space:pre" >2025-01-05 19:38:20  Version 1.22.3</text>
<text x="69.02" y="42.75" font-family="'Liberation Mono', monospace" font-size="13.65" fill="#000" stroke="#000" stroke-width="0.25" text-anchor="start" textLength="242.63" lengthAdjust="spacingAndGlyphs" style="white-space:pre" >ID: 4016393156 (4016393156.pdf)</text>
<text x="69.56" y="57.20" font-family="'Liberation Mono', monospace" font-size="13.65" fill="#000" stroke="#000" stroke-width="0.25" text-anchor="start" textLength="219.15" lengthAdjust="spacingAndGlyphs" style="white-space:pre" >Obs: 20211203v016_4016393156</text>
<text x="69.05" y="72.30" font-family="'Liberation Mono', monospace" font-size="13.65" fill="#000" stroke="#000" stroke-width="0.25" text-anchor="start" textLength="320.89" lengthAdjust="spacingAndGlyphs" style="white-space:pre" >Primary Spec_Slot_IFU_AMP: 411_014_077_RL</text>
<text x="68.82" y="87.40" font-family="'Liberation Mono', monospace" font-size="13.65" fill="#000" stroke="#000" stroke-width="0.25" text-anchor="start" textLength="305.24" lengthAdjust="spacingAndGlyphs" style="white-space:pre" >F=1.8"  T=0.187  N=1.20  A=0.94  g=25.0</text>
<text x="69.39" y="101.90" font-family="'Liberation Mono', monospace" font-size="13.65" fill="#000" stroke="#000" stroke-width="0.25" text-anchor="start" textLength="219.15" lengthAdjust="spacingAndGlyphs" style="white-space:pre" >RA,Dec (17.853592,-0.345324)</text>
<text x="71.07" y="118.90" font-family="'Liberation Sans', sans-serif" font-size="13.78" fill="#000" stroke="#000" stroke-width="0.156" text-anchor="start" textLength="7.69" lengthAdjust="spacingAndGlyphs" style="white-space:pre" font-style="italic" >λ</text>
<text x="84.64" y="118.90" font-family="'Liberation Mono', monospace" font-size="13.65" fill="#000" stroke="#000" stroke-width="0.25" text-anchor="start" textLength="70.44" lengthAdjust="spacingAndGlyphs" style="white-space:pre" >= 5415.64</text>
<text x="156.09" y="118.90" font-family="'Liberation Sans', sans-serif" font-size="13.78" fill="#000" stroke="#000" stroke-width="0.156" text-anchor="start" textLength="8.89" lengthAdjust="spacingAndGlyphs" style="white-space:pre" font-style="italic" >Å</text>
<text x="180.38" y="118.90" font-family="'Liberation Sans', sans-serif" font-size="13.78" fill="#000" stroke="#000" stroke-width="0.156" text-anchor="start" textLength="8.24" lengthAdjust="spacingAndGlyphs" style="white-space:pre" font-style="italic" >σ</text>
<text x="195.94" y="118.90" font-family="'Liberation Mono', monospace" font-size="13.65" fill="#000" stroke="#000" stroke-width="0.25" text-anchor="start" textLength="101.75" lengthAdjust="spacingAndGlyphs" style="white-space:pre" >= 2.82(±0.36)</text>
<text x="300.69" y="118.90" font-family="'Liberation Sans', sans-serif" font-size="13.78" fill="#000" stroke="#000" stroke-width="0.156" text-anchor="start" textLength="8.89" lengthAdjust="spacingAndGlyphs" style="white-space:pre" font-style="italic" >Å</text>
<text x="68.94" y="133.70" font-family="'Liberation Mono', monospace" font-size="13.65" fill="#000" stroke="#000" stroke-width="0.25" text-anchor="start" textLength="203.49" lengthAdjust="spacingAndGlyphs" style="white-space:pre" >LineFlux = 1.30(±0.14)e-16</text>
<text x="69.42" y="148.50" font-family="'Liberation Mono', monospace" font-size="13.65" fill="#000" stroke="#000" stroke-width="0.25" text-anchor="start" textLength="195.67" lengthAdjust="spacingAndGlyphs" style="white-space:pre" >Cont(n) = 4.10(±0.40)e-18</text>
<text x="69.42" y="166.50" font-family="'Liberation Mono', monospace" font-size="13.65" fill="#000" stroke="#000" stroke-width="0.25" text-anchor="start" textLength="289.59" lengthAdjust="spacingAndGlyphs" style="white-space:pre" >Cont(w) = 4.50(±0.09)e-18 (gmag 22.58</text>
<text x="364.23" y="161.20" font-family="'Liberation Sans', sans-serif" font-size="9.65" fill="#000" stroke="#000" stroke-width="0.109" text-anchor="start" textLength="26.05" lengthAdjust="spacingAndGlyphs" style="white-space:pre" >22.60</text>
<text x="364.23" y="169.80" font-family="'Liberation Sans', sans-serif" font-size="9.65" fill="#000" stroke="#000" stroke-width="0.109" text-anchor="start" textLength="26.05" lengthAdjust="spacingAndGlyphs" style="white-space:pre" >22.56</text>
<text x="390.39" y="166.50" font-family="'Liberation Mono', monospace" font-size="13.65" fill="#000" stroke="#000" stroke-width="0.25" text-anchor="start" textLength="7.83" lengthAdjust="spacingAndGlyphs" style="white-space:pre" >)</text>
<text x="69.05" y="184.20" font-family="'Liberation Mono', monospace" font-size="13.65" fill="#000" stroke="#000" stroke-width="0.25" text-anchor="start" textLength="266.11" lengthAdjust="spacingAndGlyphs" style="white-space:pre" >EWr = 7.00(±1.00) (w: 6.40(±0.72))</text>
<text x="341.39" y="184.20" font-family="'Liberation Sans', sans-serif" font-size="13.78" fill="#000" stroke="#000" stroke-width="0.156" text-anchor="start" textLength="8.89" lengthAdjust="spacingAndGlyphs" style="white-space:pre" font-style="italic" >Å</text>
<text x="69.42" y="201.90" font-family="'Liberation Mono', monospace" font-size="13.65" fill="#000" stroke="#000" stroke-width="0.25" text-anchor="start" textLength="117.40" lengthAdjust="spacingAndGlyphs" style="white-space:pre" >S/N = 8.3(±0.5)</text>
<text x="205.58" y="201.90" font-family="'Liberation Sans', sans-serif" font-size="13.78" fill="#000" stroke="#000" stroke-width="0.156" text-anchor="start" textLength="7.69" lengthAdjust="spacingAndGlyphs" style="white-space:pre" font-style="italic" >χ</text>
<text x="213.63" y="196.30" font-family="'Liberation Sans', sans-serif" font-size="9.65" fill="#000" stroke="#000" stroke-width="0.109" text-anchor="start" textLength="5.79" lengthAdjust="spacingAndGlyphs" style="white-space:pre" >2</text>
<text x="227.34" y="201.90" font-family="'Liberation Mono', monospace" font-size="13.65" fill="#000" stroke="#000" stroke-width="0.25" text-anchor="start" textLength="86.09" lengthAdjust="spacingAndGlyphs" style="white-space:pre" >= 1.0(±0.2)</text>
<text x="69.05" y="220.20" font-family="'Liberation Mono', monospace" font-size="13.65" fill="#000" stroke="#000" stroke-width="0.25" text-anchor="start" textLength="109.57" lengthAdjust="spacingAndGlyphs" style="white-space:pre" >P(LAE)/P(OII):</text>
<text x="186.24" y="220.20" font-family="'Liberation Sans', sans-serif" font-size="13.78" fill="#000" stroke="#000" stroke-width="0.156" text-anchor="start" textLength="28.95" lengthAdjust="spacingAndGlyphs" style="white-space:pre" >0.03</text>
<text x="219.40" y="215.20" font-family="'Liberation Sans', sans-serif" font-size="9.65" fill="#000" stroke="#000" stroke-width="0.109" text-anchor="start" textLength="26.05" lengthAdjust="spacingAndGlyphs" style="white-space:pre" >0.035</text>
<text x="219.40" y="223.60" font-family="'Liberation Sans', sans-serif" font-size="9.65" fill="#000" stroke="#000" stroke-width="0.109" text-anchor="start" textLength="26.05" lengthAdjust="spacingAndGlyphs" style="white-space:pre" >0.025</text>
<text x="253.00" y="220.20" font-family="'Liberation Mono', monospace" font-size="13.65" fill="#000" stroke="#000" stroke-width="0.25" text-anchor="start" textLength="23.48" lengthAdjust="spacingAndGlyphs" style="white-space:pre" >(w:</text>
<text x="284.84" y="220.20" font-family="'Liberation Sans', sans-serif" font-size="13.78" fill="#000" stroke="#000" stroke-width="0.156" text-anchor="start" textLength="37.22" lengthAdjust="spacingAndGlyphs" style="white-space:pre" >0.027</text>
<text x="326.50" y="215.20" font-family="'Liberation Sans', sans-serif" font-size="9.65" fill="#000" stroke="#000" stroke-width="0.109" text-anchor="start" textLength="26.05" lengthAdjust="spacingAndGlyphs" style="white-space:pre" >0.032</text>
<text x="326.50" y="223.60" font-family="'Liberation Sans', sans-serif" font-size="9.65" fill="#000" stroke="#000" stroke-width="0.109" text-anchor="start" textLength="26.05" lengthAdjust="spacingAndGlyphs" style="white-space:pre" >0.024</text>
<text x="352.09" y="220.20" font-family="'Liberation Mono', monospace" font-size="13.65" fill="#000" stroke="#000" stroke-width="0.25" text-anchor="start" textLength="7.83" lengthAdjust="spacingAndGlyphs" style="white-space:pre" >)</text>
<text x="68.94" y="236.30" font-family="'Liberation Mono', monospace" font-size="13.65" fill="#000" stroke="#000" stroke-width="0.25" text-anchor="start" textLength="234.80" lengthAdjust="spacingAndGlyphs" style="white-space:pre" >LyA z = 3.4549  OII z = 0.4528</text>
<text x="500.81" y="42.00" font-family="'Liberation Sans', sans-serif" font-size="7.42" fill="#222" stroke="#222" stroke-width="0.084" text-anchor="start" textLength="29.11" lengthAdjust="spacingAndGlyphs" style="white-space:pre" >2D Spec</text>
<text x="591.84" y="42.00" font-family="'Liberation Sans', sans-serif" font-size="7.42" fill="#222" stroke="#222" stroke-width="0.084" text-anchor="start" textLength="31.79" lengthAdjust="spacingAndGlyphs" style="white-space:pre" >Pixel Flat</text>
<text x="682.81" y="42.00" font-family="'Liberation Sans', sans-serif" font-size="7.42" fill="#222" stroke="#222" stroke-width="0.084" text-anchor="start" textLength="35.76" lengthAdjust="spacingAndGlyphs" style="white-space:pre" >Smoothed</text>
<rect x="472.00" y="47.50" width="86.50" height="37.00" fill="#fff" filter="url(#nz1)"/>
<ellipse cx="514" cy="66.5" rx="5" ry="4" fill="#000" opacity="0.85" filter="url(#blur15)"/>
<rect x="657.70" y="47.50" width="89.50" height="37.00" fill="#fff" filter="url(#smooth)"/>
<ellipse cx="701" cy="67" rx="3.5" ry="5" fill="#000" filter="url(#blur2)"/>
<rect x="467.20" y="47.20" width="281.00" height="37.20" fill="none" stroke="#000" stroke-width="2" />
<line x1="467.70" y1="46.20" x2="467.70" y2="85.40" stroke="#000" stroke-width="3" />
<text x="750.26" y="61.00" font-family="'Liberation Sans', sans-serif" font-size="7.74" fill="#222" stroke="#222" stroke-width="0.088" text-anchor="start" textLength="34.99" lengthAdjust="spacingAndGlyphs" style="white-space:pre" >Weighted</text>
<text x="750.02" y="69.40" font-family="'Liberation Sans', sans-serif" font-size="7.74" fill="#222" stroke="#222" stroke-width="0.088" text-anchor="start" textLength="16.37" lengthAdjust="spacingAndGlyphs" style="white-space:pre" >Sum</text>
<rect x="469.50" y="95.00" width="90.00" height="37.60" fill="#fff" filter="url(#nz1)"/>
<rect x="564.00" y="95.00" width="89.70" height="37.60" fill="#808080" stroke="none" stroke-width="1" />
<rect x="656.60" y="95.00" width="91.00" height="37.60" fill="#fff" filter="url(#smooth)"/>
<ellipse cx="514" cy="112.0" rx="4.5" ry="3.5" fill="#000" opacity="0.6" filter="url(#blur15)"/>
<ellipse cx="701" cy="113.0" rx="3.5" ry="5" fill="#000" filter="url(#blur2)"/>
<text x="445.50" y="105.70" font-family="'Liberation Sans', sans-serif" font-size="8.69" fill="#222" stroke="#222" stroke-width="0.098" text-anchor="start" textLength="18.26" lengthAdjust="spacingAndGlyphs" style="white-space:pre" >0.28</text>
<text x="445.76" y="114.20" font-family="'Liberation Sans', sans-serif" font-size="8.69" fill="#222" stroke="#222" stroke-width="0.098" text-anchor="start" textLength="18.26" lengthAdjust="spacingAndGlyphs" style="white-space:pre" >0.82</text>
<text x="448.21" y="122.70" font-family="'Liberation Sans', sans-serif" font-size="8.69" fill="#222" stroke="#222" stroke-width="0.098" text-anchor="start" textLength="15.65" lengthAdjust="spacingAndGlyphs" style="white-space:pre" >283</text>
<text x="750.73" y="99.70" font-family="'Liberation Sans', sans-serif" font-size="6.00" fill="#222" stroke="#222" stroke-width="0.068" text-anchor="start" textLength="15.21" lengthAdjust="spacingAndGlyphs" style="white-space:pre" >0.34"</text>
<text x="750.61" y="106.80" font-family="'Liberation Sans', sans-serif" font-size="6.00" fill="#222" stroke="#222" stroke-width="0.068" text-anchor="start" textLength="29.62" lengthAdjust="spacingAndGlyphs" style="white-space:pre" >(977, 497)</text>
<text x="750.69" y="114.80" font-family="'Liberation Sans', sans-serif" font-size="6.00" fill="#222" stroke="#222" stroke-width="0.068" text-anchor="start" textLength="28.81" lengthAdjust="spacingAndGlyphs" style="white-space:pre" >20211203</text>
<text x="750.93" y="121.40" font-family="'Liberation Sans', sans-serif" font-size="6.00" fill="#222" stroke="#222" stroke-width="0.068" text-anchor="start" textLength="24.18" lengthAdjust="spacingAndGlyphs" style="white-space:pre" >v016_01</text>
<text x="750.82" y="128.70" font-family="'Liberation Sans', sans-serif" font-size="6.00" fill="#222" stroke="#222" stroke-width="0.068" text-anchor="start" textLength="34.35" lengthAdjust="spacingAndGlyphs" style="white-space:pre" >411_RL_054</text>
<rect x="469.50" y="134.30" width="90.00" height="37.60" fill="#fff" filter="url(#nz1)"/>
<rect x="564.00" y="134.30" width="89.70" height="37.60" fill="#808080" stroke="none" stroke-width="1" />
<rect x="656.60" y="134.30" width="91.00" height="37.60" fill="#fff" filter="url(#smooth)"/>
<ellipse cx="701" cy="152.3" rx="3" ry="4" fill="#000" opacity="0.45" filter="url(#blur2)"/>
<text x="445.50" y="145.00" font-family="'Liberation Sans', sans-serif" font-size="8.69" fill="#222" stroke="#222" stroke-width="0.098" text-anchor="start" textLength="18.26" lengthAdjust="spacingAndGlyphs" style="white-space:pre" >0.18</text>
<text x="445.70" y="153.50" font-family="'Liberation Sans', sans-serif" font-size="8.69" fill="#222" stroke="#222" stroke-width="0.098" text-anchor="start" textLength="18.26" lengthAdjust="spacingAndGlyphs" style="white-space:pre" >2.31</text>
<text x="448.21" y="162.00" font-family="'Liberation Sans', sans-serif" font-size="8.69" fill="#222" stroke="#222" stroke-width="0.098" text-anchor="start" textLength="15.65" lengthAdjust="spacingAndGlyphs" style="white-space:pre" >283</text>
<text x="750.48" y="139.00" font-family="'Liberation Sans', sans-serif" font-size="6.00" fill="#222" stroke="#222" stroke-width="0.068" text-anchor="start" textLength="15.21" lengthAdjust="spacingAndGlyphs" style="white-space:pre" >1.12"</text>
<text x="750.61" y="146.10" font-family="'Liberation Sans', sans-serif" font-size="6.00" fill="#222" stroke="#222" stroke-width="0.068" text-anchor="start" textLength="29.62" lengthAdjust="spacingAndGlyphs" style="white-space:pre" >(977, 497)</text>
<text x="750.69" y="154.10" font-family="'Liberation Sans', sans-serif" font-size="6.00" fill="#222" stroke="#222" stroke-width="0.068" text-anchor="start" textLength="28.81" lengthAdjust="spacingAndGlyphs" style="white-space:pre" >20211203</text>
<text x="750.93" y="160.70" font-family="'Liberation Sans', sans-serif" font-size="6.00" fill="#222" stroke="#222" stroke-width="0.068" text-anchor="start" textLength="24.18" lengthAdjust="spacingAndGlyphs" style="white-space:pre" >v016_02</text>
<text x="750.82" y="168.00" font-family="'Liberation Sans', sans-serif" font-size="6.00" fill="#222" stroke="#222" stroke-width="0.068" text-anchor="start" textLength="34.35" lengthAdjust="spacingAndGlyphs" style="white-space:pre" >411_RL_054</text>
<rect x="469.50" y="174.00" width="90.00" height="37.60" fill="#fff" filter="url(#nz1)"/>
<rect x="564.00" y="174.00" width="89.70" height="37.60" fill="#808080" stroke="none" stroke-width="1" />
<rect x="656.60" y="174.00" width="91.00" height="37.60" fill="#fff" filter="url(#smooth)"/>
<ellipse cx="701" cy="192.0" rx="3" ry="4" fill="#000" opacity="0.45" filter="url(#blur2)"/>
<text x="445.50" y="184.70" font-family="'Liberation Sans', sans-serif" font-size="8.69" fill="#222" stroke="#222" stroke-width="0.098" text-anchor="start" textLength="18.26" lengthAdjust="spacingAndGlyphs" style="white-space:pre" >0.18</text>
<text x="445.40" y="193.20" font-family="'Liberation Sans', sans-serif" font-size="8.69" fill="#222" stroke="#222" stroke-width="0.098" text-anchor="start" textLength="18.26" lengthAdjust="spacingAndGlyphs" style="white-space:pre" >1.44</text>
<text x="448.21" y="201.70" font-family="'Liberation Sans', sans-serif" font-size="8.69" fill="#222" stroke="#222" stroke-width="0.098" text-anchor="start" textLength="15.65" lengthAdjust="spacingAndGlyphs" style="white-space:pre" >283</text>
<text x="750.48" y="178.70" font-family="'Liberation Sans', sans-serif" font-size="6.00" fill="#222" stroke="#222" stroke-width="0.068" text-anchor="start" textLength="15.21" lengthAdjust="spacingAndGlyphs" style="white-space:pre" >1.13"</text>
<text x="750.61" y="185.80" font-family="'Liberation Sans', sans-serif" font-size="6.00" fill="#222" stroke="#222" stroke-width="0.068" text-anchor="start" textLength="29.62" lengthAdjust="spacingAndGlyphs" style="white-space:pre" >(977, 497)</text>
<text x="750.69" y="193.80" font-family="'Liberation Sans', sans-serif" font-size="6.00" fill="#222" stroke="#222" stroke-width="0.068" text-anchor="start" textLength="28.81" lengthAdjust="spacingAndGlyphs" style="white-space:pre" >20211203</text>
<text x="750.93" y="200.40" font-family="'Liberation Sans', sans-serif" font-size="6.00" fill="#222" stroke="#222" stroke-width="0.068" text-anchor="start" textLength="24.18" lengthAdjust="spacingAndGlyphs" style="white-space:pre" >v016_03</text>
<text x="750.82" y="207.70" font-family="'Liberation Sans', sans-serif" font-size="6.00" fill="#222" stroke="#222" stroke-width="0.068" text-anchor="start" textLength="34.35" lengthAdjust="spacingAndGlyphs" style="white-space:pre" >411_RL_054</text>
<rect x="469.50" y="213.70" width="90.00" height="37.60" fill="#fff" filter="url(#nz1)"/>
<rect x="564.00" y="213.70" width="89.70" height="37.60" fill="#808080" stroke="none" stroke-width="1" />
<rect x="656.60" y="213.70" width="91.00" height="37.60" fill="#fff" filter="url(#smooth)"/>
<ellipse cx="701" cy="231.7" rx="3" ry="4" fill="#000" opacity="0.45" filter="url(#blur2)"/>
<text x="445.64" y="224.40" font-family="'Liberation Sans', sans-serif" font-size="8.69" fill="#222" stroke="#222" stroke-width="0.098" text-anchor="start" textLength="18.26" lengthAdjust="spacingAndGlyphs" style="white-space:pre" >0.07</text>
<text x="445.40" y="232.90" font-family="'Liberation Sans', sans-serif" font-size="8.69" fill="#222" stroke="#222" stroke-width="0.098" text-anchor="start" textLength="18.26" lengthAdjust="spacingAndGlyphs" style="white-space:pre" >0.94</text>
<text x="448.21" y="241.40" font-family="'Liberation Sans', sans-serif" font-size="8.69" fill="#222" stroke="#222" stroke-width="0.098" text-anchor="start" textLength="15.65" lengthAdjust="spacingAndGlyphs" style="white-space:pre" >263</text>
<text x="750.48" y="218.40" font-family="'Liberation Sans', sans-serif" font-size="6.00" fill="#222" stroke="#222" stroke-width="0.068" text-anchor="start" textLength="15.21" lengthAdjust="spacingAndGlyphs" style="white-space:pre" >1.55"</text>
<text x="750.61" y="225.50" font-family="'Liberation Sans', sans-serif" font-size="6.00" fill="#222" stroke="#222" stroke-width="0.068" text-anchor="start" textLength="29.62" lengthAdjust="spacingAndGlyphs" style="white-space:pre" >(981, 674)</text>
<text x="750.69" y="233.50" font-family="'Liberation Sans', sans-serif" font-size="6.00" fill="#222" stroke="#222" stroke-width="0.068" text-anchor="start" textLength="28.81" lengthAdjust="spacingAndGlyphs" style="white-space:pre" >20211203</text>
<text x="750.93" y="240.10" font-family="'Liberation Sans', sans-serif" font-size="6.00" fill="#222" stroke="#222" stroke-width="0.068" text-anchor="start" textLength="24.18" lengthAdjust="spacingAndGlyphs" style="white-space:pre" >v016_03</text>
<text x="750.82" y="247.40" font-family="'Liberation Sans', sans-serif" font-size="6.00" fill="#222" stroke="#222" stroke-width="0.068" text-anchor="start" textLength="34.35" lengthAdjust="spacingAndGlyphs" style="white-space:pre" >411_RL_074</text>
<rect x="467.20" y="95.00" width="281.00" height="37.60" fill="none" stroke="#0000ff" stroke-width="2" />
<rect x="467.20" y="134.30" width="281.00" height="37.60" fill="none" stroke="#00ee00" stroke-width="2" />
<rect x="467.20" y="174.00" width="281.00" height="37.60" fill="none" stroke="#ffa500" stroke-width="2" />
<rect x="467.20" y="213.70" width="281.00" height="37.60" fill="none" stroke="#ff0000" stroke-width="2" />
<text x="843.73" y="47.00" font-family="'Liberation Sans', sans-serif" font-size="10.35" fill="#222" stroke="#222" stroke-width="0.117" text-anchor="start" textLength="43.10" lengthAdjust="spacingAndGlyphs" style="white-space:pre" >With Sky</text>
<text x="831.77" y="57.80" font-family="'Liberation Sans', sans-serif" font-size="10.35" fill="#222" stroke="#222" stroke-width="0.117" text-anchor="start" textLength="67.61" lengthAdjust="spacingAndGlyphs" style="white-space:pre" >x, y: 977, 497</text>
<text x="935.50" y="47.00" font-family="'Liberation Sans', sans-serif" font-size="10.35" fill="#222" stroke="#222" stroke-width="0.117" text-anchor="start" textLength="61.37" lengthAdjust="spacingAndGlyphs" style="white-space:pre" >Clean Image</text>
<text x="932.67" y="57.80" font-family="'Liberation Sans', sans-serif" font-size="10.35" fill="#222" stroke="#222" stroke-width="0.117" text-anchor="start" textLength="67.61" lengthAdjust="spacingAndGlyphs" style="white-space:pre" >x, y: 977, 497</text>
<clipPath id="cws"><rect x="832" y="64.6" width="66.6" height="169"/></clipPath>
<g clip-path="url(#cws)">
<rect x="832.00" y="64.60" width="66.60" height="169.00" fill="#f8f8f8" stroke="none" stroke-width="1" />
<rect x="827" y="71.6" width="76.6" height="5.6" fill="#3c3c3c" filter="url(#blur15)" />
<rect x="827" y="83.9" width="76.6" height="5.6" fill="#3c3c3c" filter="url(#blur15)" />
<rect x="827" y="96.2" width="76.6" height="5.6" fill="#3c3c3c" filter="url(#blur15)" />
<rect x="827" y="108.5" width="76.6" height="5.6" fill="#3c3c3c" filter="url(#blur15)" />
<rect x="827" y="120.8" width="76.6" height="5.6" fill="#3c3c3c" filter="url(#blur15)" />
<rect x="827" y="133.1" width="76.6" height="5.6" fill="#3c3c3c" filter="url(#blur15)" />
<rect x="827" y="145.4" width="76.6" height="5.6" fill="#3c3c3c" filter="url(#blur15)" />
<rect x="827" y="157.7" width="76.6" height="5.6" fill="#3c3c3c" filter="url(#blur15)" />
<rect x="827" y="170.0" width="76.6" height="5.6" fill="#3c3c3c" filter="url(#blur15)" />
<rect x="827" y="182.3" width="76.6" height="5.6" fill="#3c3c3c" filter="url(#blur15)" />
<rect x="827" y="194.6" width="76.6" height="5.6" fill="#3c3c3c" filter="url(#blur15)" />
<rect x="827" y="206.9" width="76.6" height="5.6" fill="#3c3c3c" filter="url(#blur15)" />
<rect x="827" y="219.2" width="76.6" height="5.6" fill="#3c3c3c" filter="url(#blur15)" />
<rect x="827" y="231.5" width="76.6" height="5.6" fill="#3c3c3c" filter="url(#blur15)" />
<rect x="832" y="64.6" width="66.6" height="169" fill="#fff" filter="url(#nz2)" opacity="0.32"/>
<ellipse cx="864.7" cy="150.7" rx="3" ry="2.5" fill="#000" filter="url(#blur2)"/>
</g>
<rect x="831.90" y="64.50" width="66.80" height="169.20" fill="none" stroke="#0000ee" stroke-width="3" />
<rect x="932.80" y="64.60" width="66.60" height="169.00" fill="#fff" stroke="none" stroke-width="1" filter="url(#nz2)"/>
<ellipse cx="965.8" cy="150.7" rx="3" ry="2.5" fill="#000" filter="url(#blur2)"/>
<rect x="932.70" y="64.50" width="66.80" height="169.20" fill="none" stroke="#0000ee" stroke-width="3" />
<line x1="1048.20" y1="178.40" x2="1299.30" y2="178.40" stroke="#7f7f7f" stroke-width="1" />
<path d="M1059.4 131.4V160.0 M1064.1 142.3V168.8 M1068.7 139.8V166.2 M1073.4 132.3V160.9 M1078.0 157.3V183.7 M1082.7 147.2V173.7 M1087.3 136.6V165.2 M1092.0 146.4V172.8 M1096.7 161.1V187.6 M1101.3 149.4V178.0 M1106.0 146.4V172.8 M1110.6 144.2V170.7 M1115.3 154.7V183.3 M1119.9 153.8V180.3 M1124.6 153.0V179.5 M1129.2 144.2V172.8 M1133.9 130.6V157.1 M1138.5 144.9V171.4 M1143.2 144.7V173.3 M1147.9 145.3V171.8 M1152.5 153.0V179.5 M1157.2 175.4V204.0 M1161.8 120.8V147.2 M1166.5 108.2V134.6 M1171.1 78.3V106.9 M1175.8 68.7V95.1 M1180.4 77.8V104.3 M1185.1 124.6V153.2 M1189.8 149.4V175.8 M1194.4 147.2V173.7 M1199.1 159.2V187.8 M1203.7 153.0V179.5 M1208.4 157.3V183.7 M1213.0 161.5V190.1 M1217.7 127.4V153.8 M1222.3 128.4V154.9 M1227.0 144.7V173.3 M1231.7 138.3V164.7 M1236.3 134.6V161.1 M1241.0 138.5V167.1 M1245.6 141.7V168.2 M1250.3 147.9V174.3 M1254.9 168.2V196.8 M1259.6 161.1V187.6 M1264.2 140.8V167.3 M1268.9 142.3V170.9 M1273.5 103.2V129.7 M1278.2 138.3V164.7 M1282.9 153.6V182.2 M1287.5 141.3V167.7" stroke="#1f77b4" stroke-width="1.5" fill="none"/>
<circle cx="1059.4" cy="145.7" r="1.8" fill="#1f77b4"/>
<circle cx="1064.1" cy="155.6" r="1.8" fill="#1f77b4"/>
<circle cx="1068.7" cy="153.0" r="1.8" fill="#1f77b4"/>
<circle cx="1073.4" cy="146.6" r="1.8" fill="#1f77b4"/>
<circle cx="1078.0" cy="170.5" r="1.8" fill="#1f77b4"/>
<circle cx="1082.7" cy="160.5" r="1.8" fill="#1f77b4"/>
<circle cx="1087.3" cy="150.9" r="1.8" fill="#1f77b4"/>
<circle cx="1092.0" cy="159.6" r="1.8" fill="#1f77b4"/>
<circle cx="1096.7" cy="174.3" r="1.8" fill="#1f77b4"/>
<circle cx="1101.3" cy="163.7" r="1.8" fill="#1f77b4"/>
<circle cx="1106.0" cy="159.6" r="1.8" fill="#1f77b4"/>
<circle cx="1110.6" cy="157.5" r="1.8" fill="#1f77b4"/>
<circle cx="1115.3" cy="169.0" r="1.8" fill="#1f77b4"/>
<circle cx="1119.9" cy="167.1" r="1.8" fill="#1f77b4"/>
<circle cx="1124.6" cy="166.2" r="1.8" fill="#1f77b4"/>
<circle cx="1129.2" cy="158.5" r="1.8" fill="#1f77b4"/>
<circle cx="1133.9" cy="143.8" r="1.8" fill="#1f77b4"/>
<circle cx="1138.5" cy="158.1" r="1.8" fill="#1f77b4"/>
<circle cx="1143.2" cy="159.0" r="1.8" fill="#1f77b4"/>
<circle cx="1147.9" cy="158.5" r="1.8" fill="#1f77b4"/>
<circle cx="1152.5" cy="166.2" r="1.8" fill="#1f77b4"/>
<circle cx="1157.2" cy="189.7" r="1.8" fill="#1f77b4"/>
<circle cx="1161.8" cy="134.0" r="1.8" fill="#1f77b4"/>
<circle cx="1166.5" cy="121.4" r="1.8" fill="#1f77b4"/>
<circle cx="1171.1" cy="92.6" r="1.8" fill="#1f77b4"/>
<circle cx="1175.8" cy="81.9" r="1.8" fill="#1f77b4"/>
<circle cx="1180.4" cy="91.1" r="1.8" fill="#1f77b4"/>
<circle cx="1185.1" cy="138.9" r="1.8" fill="#1f77b4"/>
<circle cx="1189.8" cy="162.6" r="1.8" fill="#1f77b4"/>
<circle cx="1194.4" cy="160.5" r="1.8" fill="#1f77b4"/>
<circle cx="1199.1" cy="173.5" r="1.8" fill="#1f77b4"/>
<circle cx="1203.7" cy="166.2" r="1.8" fill="#1f77b4"/>
<circle cx="1208.4" cy="170.5" r="1.8" fill="#1f77b4"/>
<circle cx="1213.0" cy="175.8" r="1.8" fill="#1f77b4"/>
<circle cx="1217.7" cy="140.6" r="1.8" fill="#1f77b4"/>
<circle cx="1222.3" cy="141.7" r="1.8" fill="#1f77b4"/>
<circle cx="1227.0" cy="159.0" r="1.8" fill="#1f77b4"/>
<circle cx="1231.7" cy="151.5" r="1.8" fill="#1f77b4"/>
<circle cx="1236.3" cy="147.9" r="1.8" fill="#1f77b4"/>
<circle cx="1241.0" cy="152.8" r="1.8" fill="#1f77b4"/>
<circle cx="1245.6" cy="154.9" r="1.8" fill="#1f77b4"/>
<circle cx="1250.3" cy="161.1" r="1.8" fill="#1f77b4"/>
<circle cx="1254.9" cy="182.5" r="1.8" fill="#1f77b4"/>
<circle cx="1259.6" cy="174.3" r="1.8" fill="#1f77b4"/>
<circle cx="1264.2" cy="154.1" r="1.8" fill="#1f77b4"/>
<circle cx="1268.9" cy="156.6" r="1.8" fill="#1f77b4"/>
<circle cx="1273.5" cy="116.5" r="1.8" fill="#1f77b4"/>
<circle cx="1278.2" cy="151.5" r="1.8" fill="#1f77b4"/>
<circle cx="1282.9" cy="167.9" r="1.8" fill="#1f77b4"/>
<circle cx="1287.5" cy="154.5" r="1.8" fill="#1f77b4"/>
<polyline points="1068.7,160.9 1069.9,160.9 1071.1,160.9 1072.2,160.9 1073.4,160.9 1074.5,160.9 1075.7,160.9 1076.9,160.9 1078.0,160.9 1079.2,160.9 1080.4,160.9 1081.5,160.9 1082.7,160.9 1083.9,160.9 1085.0,160.9 1086.2,160.9 1087.3,160.9 1088.5,160.9 1089.7,160.9 1090.8,160.9 1092.0,160.9 1093.2,160.9 1094.3,160.9 1095.5,160.9 1096.7,160.9 1097.8,160.9 1099.0,160.9 1100.1,160.9 1101.3,160.9 1102.5,160.9 1103.6,160.9 1104.8,160.9 1106.0,160.9 1107.1,160.9 1108.3,160.9 1109.5,160.9 1110.6,160.9 1111.8,160.9 1112.9,160.9 1114.1,160.9 1115.3,160.9 1116.4,160.9 1117.6,160.9 1118.8,160.9 1119.9,160.9 1121.1,160.9 1122.3,160.9 1123.4,160.9 1124.6,160.9 1125.7,160.9 1126.9,160.9 1128.1,160.9 1129.2,160.9 1130.4,160.9 1131.6,160.9 1132.7,160.9 1133.9,160.9 1135.1,160.9 1136.2,160.9 1137.4,160.9 1138.5,160.9 1139.7,160.9 1140.9,160.9 1142.0,160.9 1143.2,160.9 1144.4,160.9 1145.5,160.9 1146.7,160.9 1147.9,160.9 1149.0,160.9 1150.2,160.8 1151.4,160.8 1152.5,160.7 1153.7,160.5 1154.8,160.2 1156.0,159.7 1157.2,158.9 1158.3,157.7 1159.5,156.0 1160.7,153.6 1161.8,150.3 1163.0,146.0 1164.2,140.6 1165.3,134.1 1166.5,126.7 1167.6,118.6 1168.8,110.2 1170.0,102.0 1171.1,94.5 1172.3,88.5 1173.5,84.3 1174.6,82.4 1175.8,83.0 1177.0,85.9 1178.1,91.0 1179.3,97.7 1180.4,105.5 1181.6,113.9 1182.8,122.3 1183.9,130.1 1185.1,137.1 1186.3,143.1 1187.4,148.0 1188.6,151.8 1189.8,154.7 1190.9,156.8 1192.1,158.3 1193.2,159.3 1194.4,159.9 1195.6,160.3 1196.7,160.6 1197.9,160.7 1199.1,160.8 1200.2,160.8 1201.4,160.9 1202.6,160.9 1203.7,160.9 1204.9,160.9 1206.0,160.9 1207.2,160.9 1208.4,160.9 1209.5,160.9 1210.7,160.9 1211.9,160.9 1213.0,160.9 1214.2,160.9 1215.4,160.9 1216.5,160.9 1217.7,160.9 1218.8,160.9 1220.0,160.9 1221.2,160.9 1222.3,160.9 1223.5,160.9 1224.7,160.9 1225.8,160.9 1227.0,160.9 1228.2,160.9 1229.3,160.9 1230.5,160.9 1231.7,160.9 1232.8,160.9 1234.0,160.9 1235.1,160.9 1236.3,160.9 1237.5,160.9 1238.6,160.9 1239.8,160.9 1241.0,160.9 1242.1,160.9 1243.3,160.9 1244.5,160.9 1245.6,160.9 1246.8,160.9 1247.9,160.9 1249.1,160.9 1250.3,160.9 1251.4,160.9 1252.6,160.9 1253.8,160.9 1254.9,160.9 1256.1,160.9 1257.3,160.9 1258.4,160.9 1259.6,160.9 1260.7,160.9 1261.9,160.9 1263.1,160.9 1264.2,160.9 1265.4,160.9 1266.6,160.9 1267.7,160.9 1268.9,160.9 1270.1,160.9 1271.2,160.9 1272.4,160.9 1273.5,160.9 1274.7,160.9 1275.9,160.9 1277.0,160.9 1278.2,160.9 1279.4,160.9 1280.5,160.9 1281.7,160.9 1282.9,160.9" fill="none" stroke="#333" stroke-width="1.5" />
<rect x="1048.20" y="60.50" width="251.10" height="150.40" fill="none" stroke="#333" stroke-width="1" />
<line x1="1044.70" y1="199.75" x2="1048.20" y2="199.75" stroke="#333" stroke-width="0.8" />
<text x="1029.32" y="203.05" font-family="'Liberation Sans', sans-serif" font-size="9.57" fill="#000" stroke="#000" stroke-width="0.108" text-anchor="start" textLength="13.31" lengthAdjust="spacingAndGlyphs" style="white-space:pre" >−1</text>
<line x1="1044.70" y1="178.40" x2="1048.20" y2="178.40" stroke="#333" stroke-width="0.8" />
<text x="1036.65" y="181.70" font-family="'Liberation Sans', sans-serif" font-size="9.57" fill="#000" stroke="#000" stroke-width="0.108" text-anchor="start" textLength="5.75" lengthAdjust="spacingAndGlyphs" style="white-space:pre" >0</text>
<line x1="1044.70" y1="157.05" x2="1048.20" y2="157.05" stroke="#333" stroke-width="0.8" />
<text x="1036.89" y="160.35" font-family="'Liberation Sans', sans-serif" font-size="9.57" fill="#000" stroke="#000" stroke-width="0.108" text-anchor="start" textLength="5.75" lengthAdjust="spacingAndGlyphs" style="white-space:pre" >1</text>
<line x1="1044.70" y1="135.70" x2="1048.20" y2="135.70" stroke="#333" stroke-width="0.8" />
<text x="1036.96" y="139.00" font-family="'Liberation Sans', sans-serif" font-size="9.57" fill="#000" stroke="#000" stroke-width="0.108" text-anchor="start" textLength="5.75" lengthAdjust="spacingAndGlyphs" style="white-space:pre" >2</text>
<line x1="1044.70" y1="114.35" x2="1048.20" y2="114.35" stroke="#333" stroke-width="0.8" />
<text x="1036.78" y="117.65" font-family="'Liberation Sans', sans-serif" font-size="9.57" fill="#000" stroke="#000" stroke-width="0.108" text-anchor="start" textLength="5.75" lengthAdjust="spacingAndGlyphs" style="white-space:pre" >3</text>
<line x1="1044.70" y1="93.00" x2="1048.20" y2="93.00" stroke="#333" stroke-width="0.8" />
<text x="1036.56" y="96.30" font-family="'Liberation Sans', sans-serif" font-size="9.57" fill="#000" stroke="#000" stroke-width="0.108" text-anchor="start" textLength="5.75" lengthAdjust="spacingAndGlyphs" style="white-space:pre" >4</text>
<line x1="1044.70" y1="71.65" x2="1048.20" y2="71.65" stroke="#333" stroke-width="0.8" />
<text x="1036.84" y="74.95" font-family="'Liberation Sans', sans-serif" font-size="9.57" fill="#000" stroke="#000" stroke-width="0.108" text-anchor="start" textLength="5.75" lengthAdjust="spacingAndGlyphs" style="white-space:pre" >5</text>
<line x1="1092.00" y1="210.90" x2="1092.00" y2="214.40" stroke="#333" stroke-width="0.8" />
<text x="1080.46" y="224.00" font-family="'Liberation Sans', sans-serif" font-size="9.57" fill="#000" stroke="#000" stroke-width="0.108" text-anchor="start" textLength="22.98" lengthAdjust="spacingAndGlyphs" style="white-space:pre" >5380</text>
<line x1="1138.55" y1="210.90" x2="1138.55" y2="214.40" stroke="#333" stroke-width="0.8" />
<text x="1127.01" y="224.00" font-family="'Liberation Sans', sans-serif" font-size="9.57" fill="#000" stroke="#000" stroke-width="0.108" text-anchor="start" textLength="22.98" lengthAdjust="spacingAndGlyphs" style="white-space:pre" >5400</text>
<line x1="1185.10" y1="210.90" x2="1185.10" y2="214.40" stroke="#333" stroke-width="0.8" />
<text x="1173.56" y="224.00" font-family="'Liberation Sans', sans-serif" font-size="9.57" fill="#000" stroke="#000" stroke-width="0.108" text-anchor="start" textLength="22.98" lengthAdjust="spacingAndGlyphs" style="white-space:pre" >5420</text>
<line x1="1231.65" y1="210.90" x2="1231.65" y2="214.40" stroke="#333" stroke-width="0.8" />
<text x="1220.11" y="224.00" font-family="'Liberation Sans', sans-serif" font-size="9.57" fill="#000" stroke="#000" stroke-width="0.108" text-anchor="start" textLength="22.98" lengthAdjust="spacingAndGlyphs" style="white-space:pre" >5440</text>
<line x1="1278.20" y1="210.90" x2="1278.20" y2="214.40" stroke="#333" stroke-width="0.8" />
<text x="1266.66" y="224.00" font-family="'Liberation Sans', sans-serif" font-size="9.57" fill="#000" stroke="#000" stroke-width="0.108" text-anchor="start" textLength="22.98" lengthAdjust="spacingAndGlyphs" style="white-space:pre" >5460</text>
<text x="1049.13" y="71.00" font-family="'Liberation Sans', sans-serif" font-size="9.04" fill="#000" stroke="#000" stroke-width="0.102" text-anchor="start" textLength="5.25" lengthAdjust="spacingAndGlyphs" style="white-space:pre" >e</text>
<text x="1054.76" y="66.00" font-family="'Liberation Sans', sans-serif" font-size="6.36" fill="#000" stroke="#000" stroke-width="0.072" text-anchor="start" textLength="12.66" lengthAdjust="spacingAndGlyphs" style="white-space:pre" >−17</text>
<text x="1067.65" y="71.00" font-family="'Liberation Sans', sans-serif" font-size="9.04" fill="#000" stroke="#000" stroke-width="0.102" text-anchor="start" textLength="10.48" lengthAdjust="spacingAndGlyphs" style="white-space:pre" >x2</text>
<text x="1079.05" y="71.00" font-family="'Liberation Sans', sans-serif" font-size="9.04" fill="#000" stroke="#000" stroke-width="0.102" text-anchor="start" textLength="5.84" lengthAdjust="spacingAndGlyphs" style="white-space:pre" font-style="italic" >Å</text>
<clipPath id="cspec"><rect x="101.4" y="348.4" width="1198.1999999999998" height="84.10000000000002"/></clipPath>
<g clip-path="url(#cspec)">
<rect x="1208.00" y="348.40" width="51.50" height="84.10" fill="#bfbf00" stroke="none" stroke-width="1" />
<polygon points="96.4,379.1 98.2,379.0 100.0,379.0 101.7,378.8 103.5,379.2 105.3,379.0 107.0,380.2 108.8,379.7 110.6,379.1 112.3,379.5 114.1,379.2 115.8,380.4 117.6,379.9 119.4,380.3 121.1,380.1 122.9,380.3 124.7,381.3 126.4,381.3 128.2,381.4 130.0,380.8 131.7,381.3 133.5,382.4 135.3,381.7 137.0,382.9 138.8,382.5 140.6,383.4 142.3,383.8 144.1,383.0 145.9,384.3 147.6,384.7 149.4,384.0 151.2,384.6 152.9,385.8 154.7,385.3 156.4,386.2 158.2,386.5 160.0,387.5 161.7,386.9 163.5,387.7 165.3,387.7 167.0,388.2 168.8,389.1 170.6,389.2 172.3,389.5 174.1,389.7 175.9,389.9 177.6,389.7 179.4,389.4 181.2,390.4 182.9,389.6 184.7,390.2 186.5,390.3 188.2,389.8 190.0,390.3 191.8,390.7 193.5,390.6 195.3,390.4 197.0,391.4 198.8,390.2 200.6,391.6 202.3,390.7 204.1,390.6 205.9,391.8 207.6,390.9 209.4,391.5 211.2,391.3 212.9,392.2 214.7,392.2 216.5,392.1 218.2,391.1 220.0,392.2 221.8,391.6 223.5,391.4 225.3,391.5 227.1,392.4 228.8,392.6 230.6,392.6 232.4,392.5 234.1,393.6 235.9,392.9 237.7,393.0 239.4,393.2 241.2,394.5 242.9,393.5 244.7,394.8 246.5,394.7 248.2,394.5 250.0,394.3 251.8,395.3 253.5,394.7 255.3,395.4 257.1,395.8 258.8,396.0 260.6,396.3 262.4,396.5 264.1,396.6 265.9,395.9 267.7,395.7 269.4,396.9 271.2,397.2 273.0,396.0 274.7,396.8 276.5,397.1 278.3,397.4 280.0,397.0 281.8,396.9 283.5,397.5 285.3,397.6 287.1,398.2 288.8,397.0 290.6,398.3 292.4,397.7 294.1,397.3 295.9,398.3 297.7,397.5 299.4,397.2 301.2,397.7 303.0,397.5 304.7,398.5 306.5,398.1 308.3,398.5 310.0,397.6 311.8,398.4 313.6,398.2 315.3,397.5 317.1,397.8 318.9,397.6 320.6,398.4 322.4,398.4 324.1,398.1 325.9,398.5 327.7,398.8 329.4,398.7 331.2,399.0 333.0,398.8 334.7,398.0 336.5,398.1 338.3,398.6 340.0,398.8 341.8,399.0 343.6,399.4 345.3,399.2 347.1,398.6 348.9,398.6 350.6,399.4 352.4,398.9 354.2,399.0 355.9,399.2 357.7,399.3 359.5,399.2 361.2,399.8 363.0,399.5 364.7,400.1 366.5,399.9 368.3,399.6 370.0,399.8 371.8,400.4 373.6,399.6 375.3,400.1 377.1,400.3 378.9,401.1 380.6,400.5 382.4,401.0 384.2,400.5 385.9,400.8 387.7,400.4 389.5,400.8 391.2,400.6 393.0,401.3 394.8,401.0 396.5,401.0 398.3,400.9 400.1,401.6 401.8,401.1 403.6,401.1 405.3,401.3 407.1,400.9 408.9,401.0 410.6,401.6 412.4,401.6 414.2,402.1 415.9,401.2 417.7,401.1 419.5,401.7 421.2,401.4 423.0,401.4 424.8,401.4 426.5,402.2 428.3,401.4 430.1,401.7 431.8,401.6 433.6,401.9 435.4,401.6 437.1,401.4 438.9,401.6 440.7,401.5 442.4,402.5 444.2,402.3 445.9,402.0 447.7,401.7 449.5,402.3 451.2,401.7 453.0,401.8 454.8,402.6 456.5,402.0 458.3,402.3 460.1,402.6 461.8,402.5 463.6,402.3 465.4,402.5 467.1,402.5 468.9,402.7 470.7,402.1 472.4,402.2 474.2,401.9 476.0,402.0 477.7,402.5 479.5,401.6 481.3,402.8 483.0,402.3 484.8,402.5 486.5,402.3 488.3,402.7 490.1,401.8 491.8,402.4 493.6,402.9 495.4,402.1 497.1,402.8 498.9,402.2 500.7,402.5 502.4,402.2 504.2,401.7 506.0,401.9 507.7,402.5 509.5,401.9 511.3,402.2 513.0,402.6 514.8,402.9 516.6,402.3 518.3,402.4 520.1,401.8 521.9,401.8 523.6,402.3 525.4,402.7 527.1,402.0 528.9,403.2 530.7,403.1 532.4,402.5 534.2,402.4 536.0,403.1 537.7,402.4 539.5,402.1 541.3,402.8 543.0,402.7 544.8,403.0 546.6,402.9 548.3,402.0 550.1,402.8 551.9,402.1 553.6,402.1 555.4,402.6 557.2,403.1 558.9,402.1 560.7,402.8 562.5,402.9 564.2,403.0 566.0,402.1 567.7,402.8 569.5,403.1 571.3,402.9 573.0,403.4 574.8,402.7 576.6,403.0 578.3,403.2 580.1,402.5 581.9,402.5 583.6,403.6 585.4,403.0 587.2,403.3 588.9,402.5 590.7,402.7 592.5,403.5 594.2,403.4 596.0,403.6 597.8,402.5 599.5,403.5 601.3,403.1 603.1,403.3 604.8,403.1 606.6,403.2 608.3,403.0 610.1,403.9 611.9,403.1 613.6,403.7 615.4,403.4 617.2,403.7 618.9,403.8 620.7,403.5 622.5,403.6 624.2,403.8 626.0,403.3 627.8,403.5 629.5,404.3 631.3,404.0 633.1,403.8 634.8,403.2 636.6,403.3 638.4,403.7 640.1,404.5 641.9,403.5 643.7,404.0 645.4,403.8 647.2,403.7 648.9,403.8 650.7,404.0 652.5,403.5 654.2,404.2 656.0,404.2 657.8,403.6 659.5,404.5 661.3,404.4 663.1,403.7 664.8,404.8 666.6,403.8 668.4,404.0 670.1,404.4 671.9,404.6 673.7,404.0 675.4,403.8 677.2,404.9 679.0,404.5 680.7,404.4 682.5,404.5 684.3,404.7 686.0,405.0 687.8,404.4 689.5,404.2 691.3,405.2 693.1,405.0 694.8,404.2 696.6,404.3 698.4,404.5 700.1,405.4 701.9,404.5 703.7,404.2 705.4,404.2 707.2,404.6 709.0,405.5 710.7,404.5 712.5,405.3 714.3,404.8 716.0,404.4 717.8,404.7 719.6,405.5 721.3,405.4 723.1,404.5 724.9,405.6 726.6,405.0 728.4,405.3 730.1,405.7 731.9,405.1 733.7,405.9 735.4,405.8 737.2,405.5 739.0,405.9 740.7,406.0 742.5,405.3 744.3,405.1 746.0,404.9 747.8,406.0 749.6,405.6 751.3,405.8 753.1,405.4 754.9,405.6 756.6,405.0 758.4,405.8 760.2,406.2 761.9,405.3 763.7,406.1 765.5,405.4 767.2,405.6 769.0,405.0 770.7,405.5 772.5,405.4 774.3,405.9 776.0,405.5 777.8,405.9 779.6,405.3 781.3,405.6 783.1,406.1 784.9,406.0 786.6,405.8 788.4,405.3 790.2,406.0 791.9,405.3 793.7,405.4 795.5,406.2 797.2,405.4 799.0,406.2 800.8,406.1 802.5,405.5 804.3,406.0 806.1,405.1 807.8,405.6 809.6,405.8 811.3,405.2 813.1,406.2 814.9,405.3 816.6,406.2 818.4,406.1 820.2,405.0 821.9,405.4 823.7,406.0 825.5,406.1 827.2,405.0 829.0,405.4 830.8,405.2 832.5,406.1 834.3,405.4 836.1,405.8 837.8,406.0 839.6,405.8 841.4,405.4 843.1,405.8 844.9,405.8 846.7,406.1 848.4,405.2 850.2,405.4 852.0,405.2 853.7,405.7 855.5,405.1 857.2,405.6 859.0,405.5 860.8,405.5 862.5,405.3 864.3,405.7 866.1,406.1 867.8,406.2 869.6,406.0 871.4,406.2 873.1,405.1 874.9,405.6 876.7,405.2 878.4,406.3 880.2,405.6 882.0,405.1 883.7,405.4 885.5,405.7 887.3,405.6 889.0,406.1 890.8,406.1 892.6,406.1 894.3,405.8 896.1,405.8 897.8,405.1 899.6,406.1 901.4,405.9 903.1,405.9 904.9,406.1 906.7,405.9 908.4,406.0 910.2,405.6 912.0,406.2 913.7,405.0 915.5,405.8 917.3,405.0 919.0,405.3 920.8,405.4 922.6,405.6 924.3,405.0 926.1,406.1 927.9,405.4 929.6,405.9 931.4,405.4 933.2,405.3 934.9,406.1 936.7,406.0 938.4,406.2 940.2,406.0 942.0,406.2 943.7,405.7 945.5,405.0 947.3,405.8 949.0,405.9 950.8,405.6 952.6,405.9 954.3,405.3 956.1,405.3 957.9,406.1 959.6,406.0 961.4,405.4 963.2,405.0 964.9,405.4 966.7,405.7 968.5,405.0 970.2,406.3 972.0,406.2 973.8,405.2 975.5,405.7 977.3,406.2 979.0,405.5 980.8,404.9 982.6,405.6 984.3,405.8 986.1,406.1 987.9,406.2 989.6,405.1 991.4,405.6 993.2,405.0 994.9,406.2 996.7,405.9 998.5,406.2 1000.2,405.7 1002.0,406.2 1003.8,405.9 1005.5,405.7 1007.3,405.9 1009.1,406.2 1010.8,406.2 1012.6,405.0 1014.4,406.0 1016.1,405.6 1017.9,405.7 1019.6,405.6 1021.4,406.2 1023.2,405.9 1024.9,406.1 1026.7,405.5 1028.5,405.0 1030.2,405.5 1032.0,405.1 1033.8,406.0 1035.5,406.3 1037.3,405.5 1039.1,405.6 1040.8,405.5 1042.6,405.8 1044.4,405.4 1046.1,405.3 1047.9,405.0 1049.7,405.9 1051.4,405.7 1053.2,405.1 1055.0,405.9 1056.7,406.1 1058.5,405.8 1060.2,406.1 1062.0,405.2 1063.8,405.1 1065.5,405.8 1067.3,406.0 1069.1,406.0 1070.8,405.8 1072.6,406.0 1074.4,405.5 1076.1,405.3 1077.9,405.8 1079.7,406.0 1081.4,405.1 1083.2,406.0 1085.0,405.8 1086.7,405.7 1088.5,405.5 1090.3,405.9 1092.0,405.4 1093.8,405.6 1095.6,405.0 1097.3,405.2 1099.1,404.8 1100.8,405.1 1102.6,404.9 1104.4,405.2 1106.1,405.3 1107.9,404.8 1109.7,405.0 1111.4,404.6 1113.2,404.9 1115.0,404.9 1116.7,405.5 1118.5,404.8 1120.3,405.3 1122.0,405.7 1123.8,405.7 1125.6,405.6 1127.3,405.4 1129.1,404.9 1130.9,405.4 1132.6,405.7 1134.4,404.7 1136.2,405.0 1137.9,405.7 1139.7,405.7 1141.4,405.5 1143.2,405.2 1145.0,404.5 1146.7,404.4 1148.5,404.8 1150.3,405.3 1152.0,405.1 1153.8,405.1 1155.6,405.2 1157.3,405.6 1159.1,404.8 1160.9,404.5 1162.6,404.6 1164.4,405.4 1166.2,404.8 1167.9,405.3 1169.7,404.6 1171.5,404.9 1173.2,404.3 1175.0,404.4 1176.8,405.3 1178.5,405.1 1180.3,404.2 1182.0,404.8 1183.8,404.9 1185.6,404.8 1187.3,404.4 1189.1,404.2 1190.9,404.7 1192.6,404.1 1194.4,404.6 1196.2,405.2 1197.9,404.3 1199.7,404.8 1201.5,405.3 1203.2,404.0 1205.0,405.3 1206.8,404.5 1208.5,404.7 1210.3,404.1 1212.1,404.8 1213.8,405.0 1215.6,404.9 1217.4,405.0 1219.1,404.5 1220.9,404.7 1222.6,404.2 1224.4,404.9 1226.2,404.7 1227.9,404.8 1229.7,403.7 1231.5,403.9 1233.2,403.8 1235.0,404.1 1236.8,404.3 1238.5,404.6 1240.3,403.6 1242.1,404.0 1243.8,404.5 1245.6,404.3 1247.4,404.3 1249.1,403.4 1250.9,403.1 1252.7,404.0 1254.4,403.1 1256.2,403.7 1258.0,403.2 1259.7,402.9 1261.5,403.1 1263.2,402.8 1265.0,403.4 1266.8,403.8 1268.5,403.0 1270.3,402.9 1272.1,403.4 1273.8,403.1 1275.6,403.3 1277.4,403.8 1279.1,403.5 1280.9,403.5 1282.7,403.5 1284.4,403.3 1286.2,404.9 1288.0,405.9 1289.7,407.9 1291.5,413.8 1293.3,416.1 1293.3,416.1 1291.5,417.5 1289.7,422.7 1288.0,424.0 1286.2,426.3 1284.4,427.0 1282.7,427.5 1280.9,427.8 1279.1,428.1 1277.4,428.7 1275.6,428.5 1273.8,428.6 1272.1,429.0 1270.3,428.4 1268.5,428.5 1266.8,429.1 1265.0,428.6 1263.2,428.0 1261.5,428.2 1259.7,427.9 1258.0,428.1 1256.2,428.5 1254.4,427.9 1252.7,428.7 1250.9,427.7 1249.1,427.9 1247.4,428.7 1245.6,428.6 1243.8,428.8 1242.1,428.1 1240.3,427.6 1238.5,428.5 1236.8,428.2 1235.0,427.8 1233.2,427.5 1231.5,427.5 1229.7,427.3 1227.9,428.2 1226.2,428.1 1224.4,428.2 1222.6,427.5 1220.9,428.1 1219.1,427.8 1217.4,428.3 1215.6,428.2 1213.8,428.2 1212.1,428.0 1210.3,427.3 1208.5,427.9 1206.8,427.7 1205.0,428.5 1203.2,427.2 1201.5,428.4 1199.7,427.9 1197.9,427.4 1196.2,428.3 1194.4,427.7 1192.6,427.2 1190.9,427.7 1189.1,427.2 1187.3,427.4 1185.6,427.9 1183.8,427.9 1182.0,427.8 1180.3,427.2 1178.5,428.0 1176.8,428.3 1175.0,427.4 1173.2,427.2 1171.5,427.8 1169.7,427.5 1167.9,428.2 1166.2,427.7 1164.4,428.3 1162.6,427.4 1160.9,427.3 1159.1,427.6 1157.3,428.4 1155.6,427.9 1153.8,427.9 1152.0,427.8 1150.3,428.1 1148.5,427.5 1146.7,427.1 1145.0,427.2 1143.2,427.9 1141.4,428.2 1139.7,428.3 1137.9,428.3 1136.2,427.6 1134.4,427.3 1132.6,428.2 1130.9,427.9 1129.1,427.4 1127.3,428.0 1125.6,428.1 1123.8,428.2 1122.0,428.1 1120.3,427.8 1118.5,427.2 1116.7,427.9 1115.0,427.3 1113.2,427.3 1111.4,427.0 1109.7,427.4 1107.9,427.2 1106.1,427.7 1104.4,427.5 1102.6,427.2 1100.8,427.4 1099.1,427.0 1097.3,427.5 1095.6,427.2 1093.8,427.8 1092.0,427.7 1090.3,428.1 1088.5,427.7 1086.7,427.8 1085.0,428.0 1083.2,428.2 1081.4,427.3 1079.7,428.1 1077.9,427.9 1076.1,427.4 1074.4,427.6 1072.6,428.1 1070.8,427.9 1069.1,428.1 1067.3,428.0 1065.5,427.8 1063.8,427.1 1062.0,427.1 1060.2,428.1 1058.5,427.7 1056.7,428.0 1055.0,427.9 1053.2,427.0 1051.4,427.5 1049.7,427.7 1047.9,426.9 1046.1,427.2 1044.4,427.3 1042.6,427.6 1040.8,427.4 1039.1,427.5 1037.3,427.4 1035.5,428.1 1033.8,427.9 1032.0,427.0 1030.2,427.4 1028.5,426.9 1026.7,427.4 1024.9,428.0 1023.2,427.8 1021.4,428.1 1019.6,427.5 1017.9,427.6 1016.1,427.5 1014.4,428.0 1012.6,426.9 1010.8,428.1 1009.1,428.1 1007.3,427.8 1005.5,427.7 1003.8,427.9 1002.0,428.1 1000.2,427.7 998.5,428.1 996.7,427.9 994.9,428.1 993.2,427.0 991.4,427.6 989.6,427.0 987.9,428.1 986.1,428.1 984.3,427.8 982.6,427.5 980.8,426.9 979.0,427.5 977.3,428.2 975.5,427.7 973.8,427.2 972.0,428.2 970.2,428.2 968.5,426.9 966.7,427.7 964.9,427.4 963.2,427.0 961.4,427.4 959.6,427.9 957.9,428.1 956.1,427.3 954.3,427.3 952.6,427.9 950.8,427.6 949.0,427.9 947.3,427.8 945.5,427.0 943.7,427.7 942.0,428.2 940.2,428.0 938.4,428.3 936.7,428.0 934.9,428.1 933.2,427.3 931.4,427.4 929.6,427.9 927.9,427.4 926.1,428.2 924.3,427.0 922.6,427.7 920.8,427.4 919.0,427.4 917.3,427.1 915.5,427.8 913.7,427.1 912.0,428.3 910.2,427.7 908.4,428.0 906.7,428.0 904.9,428.1 903.1,428.0 901.4,428.0 899.6,428.1 897.8,427.2 896.1,427.8 894.3,427.9 892.6,428.1 890.8,428.2 889.0,428.2 887.3,427.7 885.5,427.8 883.7,427.5 882.0,427.2 880.2,427.7 878.4,428.4 876.7,427.4 874.9,427.7 873.1,427.2 871.4,428.3 869.6,428.1 867.8,428.4 866.1,428.3 864.3,427.9 862.5,427.4 860.8,427.6 859.0,427.6 857.2,427.7 855.5,427.3 853.7,427.8 852.0,427.3 850.2,427.5 848.4,427.3 846.7,428.2 844.9,427.9 843.1,428.0 841.4,427.6 839.6,428.0 837.8,428.1 836.1,428.0 834.3,427.6 832.5,428.3 830.8,427.3 829.0,427.6 827.2,427.1 825.5,428.3 823.7,428.2 821.9,427.5 820.2,427.2 818.4,428.3 816.6,428.4 814.9,427.5 813.1,428.4 811.3,427.4 809.6,428.0 807.8,427.8 806.1,427.3 804.3,428.2 802.5,427.7 800.8,428.3 799.0,428.4 797.2,427.6 795.5,428.4 793.7,427.6 791.9,427.5 790.2,428.3 788.4,427.5 786.6,428.0 784.9,428.2 783.1,428.3 781.3,427.8 779.6,427.5 777.8,428.2 776.0,427.8 774.3,428.2 772.5,427.7 770.7,427.8 769.0,427.3 767.2,427.9 765.5,427.7 763.7,428.3 761.9,427.6 760.2,428.5 758.4,428.0 756.6,427.3 754.9,427.9 753.1,427.8 751.3,428.2 749.6,428.0 747.8,428.4 746.0,427.5 744.3,427.7 742.5,427.9 740.7,428.6 739.0,428.6 737.2,428.2 735.4,428.6 733.7,428.7 731.9,427.9 730.1,428.6 728.4,428.3 726.6,428.0 724.9,428.7 723.1,427.6 721.3,428.5 719.6,428.7 717.8,428.0 716.0,427.7 714.3,428.1 712.5,428.7 710.7,427.9 709.0,428.9 707.2,428.1 705.4,427.7 703.7,427.7 701.9,428.1 700.1,429.1 698.4,428.2 696.6,428.1 694.8,428.0 693.1,428.9 691.3,429.1 689.5,428.1 687.8,428.4 686.0,429.0 684.3,428.8 682.5,428.6 680.7,428.6 679.0,428.7 677.2,429.1 675.4,428.1 673.7,428.3 671.9,429.0 670.1,428.8 668.4,428.5 666.6,428.3 664.8,429.4 663.1,428.3 661.3,429.1 659.5,429.2 657.8,428.4 656.0,429.0 654.2,429.0 652.5,428.3 650.7,428.9 648.9,428.8 647.2,428.7 645.4,428.9 643.7,429.1 641.9,428.6 640.1,429.7 638.4,429.0 636.6,428.5 634.8,428.5 633.1,429.2 631.3,429.4 629.5,429.8 627.8,429.0 626.0,428.8 624.2,429.4 622.5,429.2 620.7,429.2 618.9,429.5 617.2,429.5 615.4,429.2 613.6,429.6 611.9,429.0 610.1,429.8 608.3,429.0 606.6,429.2 604.8,429.2 603.1,429.4 601.3,429.3 599.5,429.7 597.8,428.8 596.0,429.9 594.2,429.8 592.5,429.8 590.7,429.1 588.9,428.9 587.2,429.9 585.4,429.5 583.6,430.2 581.9,429.2 580.1,429.2 578.3,429.9 576.6,429.7 574.8,429.5 573.0,430.1 571.3,429.7 569.5,429.9 567.7,429.7 566.0,429.0 564.2,429.9 562.5,429.8 560.7,429.7 558.9,429.0 557.2,430.0 555.4,429.5 553.6,429.1 551.9,429.0 550.1,429.8 548.3,429.0 546.6,429.9 544.8,430.0 543.0,429.8 541.3,429.8 539.5,429.1 537.7,429.5 536.0,430.2 534.2,429.5 532.4,429.6 530.7,430.2 528.9,430.3 527.1,429.1 525.4,429.9 523.6,429.5 521.9,429.1 520.1,429.1 518.3,429.6 516.6,429.6 514.8,430.2 513.0,429.9 511.3,429.5 509.5,429.3 507.7,429.8 506.0,429.3 504.2,429.1 502.4,429.6 500.7,429.9 498.9,429.6 497.1,430.3 495.4,429.6 493.6,430.3 491.8,429.9 490.1,429.3 488.3,430.2 486.5,429.8 484.8,430.0 483.0,429.8 481.3,430.4 479.5,429.2 477.7,430.1 476.0,429.6 474.2,429.6 472.4,429.9 470.7,429.8 468.9,430.4 467.1,430.1 465.4,430.2 463.6,430.0 461.8,430.2 460.1,430.3 458.3,430.1 456.5,429.8 454.8,430.4 453.0,429.6 451.2,429.5 449.5,430.1 447.7,429.5 445.9,429.8 444.2,430.2 442.4,430.4 440.7,429.5 438.9,429.6 437.1,429.4 435.4,429.6 433.6,429.9 431.8,429.5 430.1,429.7 428.3,429.4 426.5,430.2 424.8,429.5 423.0,429.5 421.2,429.5 419.5,429.8 417.7,429.2 415.9,429.3 414.2,430.2 412.4,429.7 410.6,429.8 408.9,429.2 407.1,429.1 405.3,429.5 403.6,429.3 401.8,429.3 400.1,430.0 398.3,429.4 396.5,429.5 394.8,429.6 393.0,430.0 391.2,429.4 389.5,429.6 387.7,429.4 385.9,429.9 384.2,429.6 382.4,430.1 380.6,429.7 378.9,430.5 377.1,429.7 375.3,429.6 373.6,429.2 371.8,430.1 370.0,429.6 368.3,429.5 366.5,429.8 364.7,430.1 363.0,429.6 361.2,430.0 359.5,429.5 357.7,429.6 355.9,429.6 354.2,429.5 352.4,429.5 350.6,430.0 348.9,429.3 347.1,429.5 345.3,430.2 343.6,430.4 341.8,430.1 340.0,429.9 338.3,429.7 336.5,429.2 334.7,429.2 333.0,430.0 331.2,430.3 329.4,430.0 327.7,430.1 325.9,429.9 324.1,429.6 322.4,429.9 320.6,429.9 318.9,429.2 317.1,429.4 315.3,429.2 313.6,429.9 311.8,430.2 310.0,429.4 308.3,430.4 306.5,430.0 304.7,430.4 303.0,429.5 301.2,429.7 299.4,429.3 297.7,429.6 295.9,430.4 294.1,429.4 292.4,429.9 290.6,430.5 288.8,429.3 287.1,430.5 285.3,430.0 283.5,430.1 281.8,429.8 280.0,430.3 278.3,431.0 276.5,431.0 274.7,431.0 273.0,430.6 271.2,432.1 269.4,432.1 267.7,431.2 265.9,431.8 264.1,432.7 262.4,433.0 260.6,433.1 258.8,433.1 257.1,433.3 255.3,433.2 253.5,432.9 251.8,433.9 250.0,433.3 248.2,433.9 246.5,434.5 244.7,435.0 242.9,434.1 241.2,435.5 239.4,434.6 237.7,434.9 235.9,435.2 234.1,436.2 232.4,435.5 230.6,436.1 228.8,436.5 227.1,436.7 225.3,436.1 223.5,436.3 221.8,436.7 220.0,437.7 218.2,436.8 216.5,438.1 214.7,438.4 212.9,438.7 211.2,438.1 209.4,438.5 207.6,438.2 205.9,439.4 204.1,438.5 202.3,438.8 200.6,439.9 198.8,438.8 197.0,440.3 195.3,439.6 193.5,440.1 191.8,440.5 190.0,440.4 188.2,440.1 186.5,441.0 184.7,441.2 182.9,440.9 181.2,442.0 179.4,441.4 177.6,441.9 175.9,442.5 174.1,442.5 172.3,442.7 170.6,442.6 168.8,442.9 167.0,442.3 165.3,442.3 163.5,442.9 161.7,442.7 160.0,443.9 158.2,443.5 156.4,443.8 154.7,443.5 152.9,444.5 151.2,443.9 149.4,444.0 147.6,445.2 145.9,445.4 144.1,444.7 142.3,446.0 140.6,446.1 138.8,445.6 137.0,446.4 135.3,445.7 133.5,446.7 131.7,446.1 130.0,446.1 128.2,447.1 126.4,447.4 124.7,447.9 122.9,447.3 121.1,447.5 119.4,448.1 117.6,448.0 115.8,448.6 114.1,447.8 112.3,448.3 110.6,448.1 108.8,448.9 107.0,449.7 105.3,448.7 103.5,449.1 101.7,449.0 100.0,449.4 98.2,449.6 96.4,450.0" fill="#808080" fill-opacity="0.5"/>
<rect x="128.40" y="348.40" width="12.30" height="84.10" fill="#a0a0a0" stroke="#333" stroke-width="0.8" />
<line x1="128.4" y1="380.4" x2="140.7" y2="369.33" stroke="#333" stroke-width="0.8"/>
<line x1="128.4" y1="410.4" x2="140.7" y2="399.33" stroke="#333" stroke-width="0.8"/>
<line x1="128.4" y1="440.4" x2="140.7" y2="429.33" stroke="#333" stroke-width="0.8"/>
<rect x="1259.50" y="348.40" width="6.20" height="84.10" fill="#a0a0a0" stroke="#333" stroke-width="0.8" />
<line x1="1259.5" y1="380.4" x2="1265.7" y2="374.81999999999994" stroke="#333" stroke-width="0.8"/>
<line x1="1259.5" y1="410.4" x2="1265.7" y2="404.81999999999994" stroke="#333" stroke-width="0.8"/>
<line x1="1259.5" y1="440.4" x2="1265.7" y2="434.81999999999994" stroke="#333" stroke-width="0.8"/>
<line x1="101.40" y1="416.40" x2="1299.60" y2="416.40" stroke="#555" stroke-width="1" />
<polyline points="101.1,399.4 102.3,401.6 103.5,401.1 104.7,382.4 105.8,392.9 107.0,428.9 108.2,403.3 109.4,405.5 110.6,405.3 111.7,397.6 112.9,391.5 114.1,367.5 115.3,368.3 116.4,381.1 117.6,406.2 118.8,423.8 120.0,403.0 121.1,369.3 122.3,383.1 123.5,392.7 124.7,382.5 125.9,423.2 127.0,415.4 128.2,393.6 129.4,375.1 130.6,392.2 131.7,385.8 132.9,385.8 134.1,373.6 135.3,411.4 136.4,390.1 137.6,428.0 138.8,470.3 140.0,443.4 141.2,438.3 142.3,395.1 143.5,380.5 144.7,416.9 145.9,386.2 147.0,414.5 148.2,406.4 149.4,407.5 150.6,398.6 151.7,378.6 152.9,373.7 154.1,378.0 155.3,373.2 156.4,374.9 157.6,400.9 158.8,414.7 160.0,415.2 161.2,393.3 162.3,400.6 163.5,344.8 164.7,391.8 165.9,419.3 167.0,389.0 168.2,360.5 169.4,368.6 170.6,364.7 171.7,349.4 172.9,377.3 174.1,420.1 175.3,419.1 176.5,384.7 177.6,424.0 178.8,407.9 180.0,395.7 181.2,403.1 182.3,382.8 183.5,376.9 184.7,334.5 185.9,354.2 187.0,391.2 188.2,406.7 189.4,419.9 190.6,385.1 191.8,404.1 192.9,401.3 194.1,381.4 195.3,406.0 196.5,407.3 197.6,443.2 198.8,442.0 200.0,429.8 201.2,401.8 202.3,380.6 203.5,389.8 204.7,389.7 205.9,391.1 207.1,378.0 208.2,374.9 209.4,382.9 210.6,405.7 211.8,387.3 212.9,386.8 214.1,373.9 215.3,387.0 216.5,363.0 217.6,387.0 218.8,368.5 220.0,382.3 221.2,398.1 222.4,414.3 223.5,407.0 224.7,380.0 225.9,377.0 227.1,377.6 228.2,423.8 229.4,398.3 230.6,389.1 231.8,401.6 232.9,408.4 234.1,402.1 235.3,373.3 236.5,402.1 237.7,405.6 238.8,380.3 240.0,396.1 241.2,402.0 242.4,397.7 243.5,415.8 244.7,402.1 245.9,417.4 247.1,392.8 248.2,395.0 249.4,361.7 250.6,376.8 251.8,367.3 252.9,403.1 254.1,401.5 255.3,394.1 256.5,369.4 257.7,409.7 258.8,387.7 260.0,383.9 261.2,379.7 262.4,383.0 263.5,390.9 264.7,399.9 265.9,410.9 267.1,402.0 268.2,401.8 269.4,380.4 270.6,396.0 271.8,394.1 273.0,411.4 274.1,407.9 275.3,400.1 276.5,391.1 277.7,381.1 278.8,390.9 280.0,405.6 281.2,397.1 282.4,392.7 283.5,391.0 284.7,401.7 285.9,388.9 287.1,393.1 288.3,389.2 289.4,381.9 290.6,385.0 291.8,389.5 293.0,373.6 294.1,384.8 295.3,395.0 296.5,395.7 297.7,382.8 298.8,390.1 300.0,389.6 301.2,382.8 302.4,396.2 303.6,413.9 304.7,402.4 305.9,397.9 307.1,403.9 308.3,392.4 309.4,389.7 310.6,403.9 311.8,395.8 313.0,399.0 314.1,412.8 315.3,400.4 316.5,399.6 317.7,406.0 318.9,396.7 320.0,392.8 321.2,401.3 322.4,395.7 323.6,387.3 324.7,400.1 325.9,395.4 327.1,396.9 328.3,375.8 329.4,406.0 330.6,395.0 331.8,399.7 333.0,399.8 334.1,380.6 335.3,390.4 336.5,373.1 337.7,391.2 338.9,391.6 340.0,400.0 341.2,405.6 342.4,400.9 343.6,401.9 344.7,398.7 345.9,414.5 347.1,391.0 348.3,396.5 349.4,384.8 350.6,400.0 351.8,397.2 353.0,374.5 354.2,394.4 355.3,408.0 356.5,407.0 357.7,399.0 358.9,393.8 360.0,386.9 361.2,395.4 362.4,409.2 363.6,406.8 364.7,393.2 365.9,392.8 367.1,410.7 368.3,404.5 369.5,391.0 370.6,379.5 371.8,385.9 373.0,390.7 374.2,404.4 375.3,407.6 376.5,402.5 377.7,396.7 378.9,393.6 380.0,400.0 381.2,408.0 382.4,408.7 383.6,411.9 384.8,399.9 385.9,416.6 387.1,409.3 388.3,400.2 389.5,388.1 390.6,393.5 391.8,389.0 393.0,397.4 394.2,403.7 395.3,406.1 396.5,390.7 397.7,387.8 398.9,390.2 400.1,370.2 401.2,386.2 402.4,388.5 403.6,391.9 404.8,397.4 405.9,380.9 407.1,379.6 408.3,400.6 409.5,402.6 410.6,397.4 411.8,392.3 413.0,406.0 414.2,418.9 415.4,422.1 416.5,409.8 417.7,404.6 418.9,398.8 420.1,404.6 421.2,410.5 422.4,419.2 423.6,405.5 424.8,399.1 425.9,391.6 427.1,389.7 428.3,396.1 429.5,387.6 430.6,394.8 431.8,401.9 433.0,404.1 434.2,405.6 435.4,418.0 436.5,406.3 437.7,400.3 438.9,402.2 440.1,405.7 441.2,399.2 442.4,386.2 443.6,392.9 444.8,399.9 445.9,403.7 447.1,401.6 448.3,409.5 449.5,404.6 450.7,401.0 451.8,386.1 453.0,386.1 454.2,385.4 455.4,398.1 456.5,393.5 457.7,404.9 458.9,399.3 460.1,395.9 461.2,403.2 462.4,385.9 463.6,388.8 464.8,408.5 466.0,399.1 467.1,402.0 468.3,400.3 469.5,396.0 470.7,394.7 471.8,412.2 473.0,413.5 474.2,399.7 475.4,389.5 476.5,380.5 477.7,377.1 478.9,404.4 480.1,395.6 481.3,411.7 482.4,392.6 483.6,394.1 484.8,405.2 486.0,386.8 487.1,388.6 488.3,408.3 489.5,400.9 490.7,405.2 491.8,400.9 493.0,403.2 494.2,390.6 495.4,405.7 496.6,399.6 497.7,385.7 498.9,399.1 500.1,397.4 501.3,396.7 502.4,403.0 503.6,395.9 504.8,396.8 506.0,405.0 507.1,388.5 508.3,388.3 509.5,395.3 510.7,402.0 511.8,406.1 513.0,393.0 514.2,397.3 515.4,394.7 516.6,398.4 517.7,394.0 518.9,397.5 520.1,392.6 521.3,397.4 522.4,392.0 523.6,390.8 524.8,396.1 526.0,404.0 527.1,408.2 528.3,408.6 529.5,410.6 530.7,397.7 531.9,398.7 533.0,387.1 534.2,376.6 535.4,388.6 536.6,405.8 537.7,404.8 538.9,402.1 540.1,411.4 541.3,406.4 542.4,400.1 543.6,402.8 544.8,406.4 546.0,407.9 547.2,389.6 548.3,395.9 549.5,403.7 550.7,403.8 551.9,394.0 553.0,401.8 554.2,396.6 555.4,392.4 556.6,390.4 557.7,384.6 558.9,396.5 560.1,389.4 561.3,400.5 562.5,402.5 563.6,391.6 564.8,389.5 566.0,394.6 567.2,405.8 568.3,397.8 569.5,403.1 570.7,407.6 571.9,407.6 573.0,401.0 574.2,415.6 575.4,403.7 576.6,399.7 577.8,403.6 578.9,395.7 580.1,394.3 581.3,402.1 582.5,406.1 583.6,398.4 584.8,410.3 586.0,407.4 587.2,408.2 588.3,403.7 589.5,400.7 590.7,400.5 591.9,392.8 593.0,395.7 594.2,400.7 595.4,409.2 596.6,399.6 597.8,396.6 598.9,388.9 600.1,400.7 601.3,400.6 602.5,401.2 603.6,401.6 604.8,401.1 606.0,412.9 607.2,400.6 608.3,396.2 609.5,390.9 610.7,380.7 611.9,394.0 613.1,398.0 614.2,399.5 615.4,386.7 616.6,406.6 617.8,400.1 618.9,410.8 620.1,423.3 621.3,425.1 622.5,421.4 623.6,402.7 624.8,407.7 626.0,405.5 627.2,411.1 628.4,401.2 629.5,408.7 630.7,395.2 631.9,405.2 633.1,408.2 634.2,403.3 635.4,401.8 636.6,391.4 637.8,395.8 638.9,407.0 640.1,407.5 641.3,407.9 642.5,399.0 643.7,397.3 644.8,400.1 646.0,394.5 647.2,401.7 648.4,402.2 649.5,400.2 650.7,389.9 651.9,396.6 653.1,401.4 654.2,408.4 655.4,399.5 656.6,404.3 657.8,400.0 659.0,413.8 660.1,399.4 661.3,409.5 662.5,410.2 663.7,397.7 664.8,408.7 666.0,405.0 667.2,402.2 668.4,408.4 669.5,394.9 670.7,387.7 671.9,408.7 673.1,414.5 674.3,401.4 675.4,410.2 676.6,407.8 677.8,403.1 679.0,397.0 680.1,400.7 681.3,400.1 682.5,406.0 683.7,394.2 684.8,401.3 686.0,398.7 687.2,403.5 688.4,401.3 689.5,402.2 690.7,402.6 691.9,408.7 693.1,398.9 694.3,390.1 695.4,394.3 696.6,392.8 697.8,391.4 699.0,390.2 700.1,393.9 701.3,396.3 702.5,392.8 703.7,396.8 704.8,405.8 706.0,402.9 707.2,415.0 708.4,407.3 709.6,400.9 710.7,392.3 711.9,395.9 713.1,392.2 714.3,397.0 715.4,406.2 716.6,413.1 717.8,413.1 719.0,415.9 720.1,403.2 721.3,403.4 722.5,398.0 723.7,399.1 724.9,392.8 726.0,389.8 727.2,400.4 728.4,402.6 729.6,405.4 730.7,414.2 731.9,402.2 733.1,393.2 734.3,397.5 735.4,402.8 736.6,394.1 737.8,414.2 739.0,405.6 740.2,402.0 741.3,405.4 742.5,393.2 743.7,390.7 744.9,398.1 746.0,400.2 747.2,403.3 748.4,405.5 749.6,412.1 750.7,396.3 751.9,391.7 753.1,391.2 754.3,404.1 755.5,390.5 756.6,384.3 757.8,393.3 759.0,404.5 760.2,409.4 761.3,403.0 762.5,409.0 763.7,405.9 764.9,397.0 766.0,410.2 767.2,392.9 768.4,388.1 769.6,404.4 770.7,412.9 771.9,409.3 773.1,412.6 774.3,409.0 775.5,422.7 776.6,413.3 777.8,395.7 779.0,407.0 780.2,406.6 781.3,414.4 782.5,403.9 783.7,404.8 784.9,390.9 786.0,396.2 787.2,402.3 788.4,399.0 789.6,404.5 790.8,412.5 791.9,405.2 793.1,405.1 794.3,402.8 795.5,400.4 796.6,405.1 797.8,401.1 799.0,390.6 800.2,404.7 801.3,392.2 802.5,399.7 803.7,406.5 804.9,388.5 806.1,395.4 807.2,390.5 808.4,391.9 809.6,409.1 810.8,404.9 811.9,407.3 813.1,413.7 814.3,419.5 815.5,409.7 816.6,402.1 817.8,399.9 819.0,403.6 820.2,408.5 821.4,411.9 822.5,410.6 823.7,413.2 824.9,408.9 826.1,405.7 827.2,410.1 828.4,407.7 829.6,410.1 830.8,406.2 831.9,401.0 833.1,400.9 834.3,398.9 835.5,412.0 836.7,409.5 837.8,404.0 839.0,399.2 840.2,411.8 841.4,405.8 842.5,396.3 843.7,401.1 844.9,402.7 846.1,399.8 847.2,399.9 848.4,397.1 849.6,399.8 850.8,400.5 852.0,407.0 853.1,405.9 854.3,396.0 855.5,401.1 856.7,403.2 857.8,406.3 859.0,399.2 860.2,406.9 861.4,398.7 862.5,407.2 863.7,411.8 864.9,405.6 866.1,403.2 867.2,401.1 868.4,395.1 869.6,402.1 870.8,399.6 872.0,407.4 873.1,396.6 874.3,395.9 875.5,396.2 876.7,398.6 877.8,406.2 879.0,406.5 880.2,401.2 881.4,402.3 882.5,401.8 883.7,411.4 884.9,405.5 886.1,408.7 887.3,412.6 888.4,408.3 889.6,417.6 890.8,404.9 892.0,398.2 893.1,401.1 894.3,408.7 895.5,411.7 896.7,407.9 897.8,421.2 899.0,409.9 900.2,401.7 901.4,404.4 902.6,406.8 903.7,403.5 904.9,400.8 906.1,394.7 907.3,399.1 908.4,405.8 909.6,407.2 910.8,403.6 912.0,393.0 913.1,400.5 914.3,408.8 915.5,411.3 916.7,420.5 917.9,408.7 919.0,414.5 920.2,416.3 921.4,422.0 922.6,418.9 923.7,406.3 924.9,413.1 926.1,419.1 927.3,409.0 928.4,407.9 929.6,402.3 930.8,397.7 932.0,400.6 933.2,410.5 934.3,407.1 935.5,401.5 936.7,406.1 937.9,413.8 939.0,400.5 940.2,404.6 941.4,406.4 942.6,404.4 943.7,396.7 944.9,398.4 946.1,403.1 947.3,398.5 948.4,386.7 949.6,386.4 950.8,391.0 952.0,405.0 953.2,379.0 954.3,400.1 955.5,404.1 956.7,408.1 957.9,394.5 959.0,396.3 960.2,409.4 961.4,404.0 962.6,399.8 963.7,403.6 964.9,411.3 966.1,411.5 967.3,409.6 968.5,405.8 969.6,407.6 970.8,400.2 972.0,407.9 973.2,416.6 974.3,414.0 975.5,399.0 976.7,404.9 977.9,388.3 979.0,393.1 980.2,406.2 981.4,409.9 982.6,404.4 983.8,411.4 984.9,391.0 986.1,404.1 987.3,398.9 988.5,391.5 989.6,398.5 990.8,407.5 992.0,406.8 993.2,402.2 994.3,396.8 995.5,399.8 996.7,410.8 997.9,406.2 999.1,408.8 1000.2,420.0 1001.4,415.2 1002.6,417.9 1003.8,405.8 1004.9,391.3 1006.1,385.4 1007.3,398.8 1008.5,404.2 1009.6,398.9 1010.8,394.1 1012.0,401.7 1013.2,403.3 1014.4,388.5 1015.5,397.1 1016.7,403.5 1017.9,402.4 1019.1,398.8 1020.2,407.8 1021.4,406.8 1022.6,412.3 1023.8,409.0 1024.9,393.2 1026.1,393.6 1027.3,399.3 1028.5,407.5 1029.7,407.0 1030.8,397.8 1032.0,404.3 1033.2,394.0 1034.4,408.0 1035.5,407.1 1036.7,393.3 1037.9,411.8 1039.1,399.1 1040.2,413.4 1041.4,408.2 1042.6,406.4 1043.8,399.0 1044.9,422.0 1046.1,424.2 1047.3,416.2 1048.5,408.6 1049.7,411.4 1050.8,408.2 1052.0,413.1 1053.2,410.1 1054.4,411.8 1055.5,405.3 1056.7,400.1 1057.9,392.2 1059.1,402.4 1060.2,404.8 1061.4,403.4 1062.6,405.1 1063.8,404.2 1065.0,413.8 1066.1,405.4 1067.3,410.1 1068.5,412.4 1069.7,417.7 1070.8,401.9 1072.0,403.4 1073.2,395.5 1074.4,397.8 1075.5,411.9 1076.7,414.1 1077.9,402.9 1079.1,408.0 1080.3,412.4 1081.4,408.4 1082.6,406.5 1083.8,411.2 1085.0,408.8 1086.1,408.7 1087.3,422.6 1088.5,408.5 1089.7,410.8 1090.8,397.8 1092.0,408.2 1093.2,415.7 1094.4,400.8 1095.6,412.4 1096.7,411.4 1097.9,402.8 1099.1,405.0 1100.3,414.8 1101.4,407.0 1102.6,406.0 1103.8,395.8 1105.0,395.8 1106.1,379.7 1107.3,403.3 1108.5,403.2 1109.7,410.1 1110.9,398.5 1112.0,395.5 1113.2,394.6 1114.4,404.3 1115.6,408.5 1116.7,418.8 1117.9,398.8 1119.1,397.7 1120.3,402.3 1121.4,396.4 1122.6,395.0 1123.8,392.9 1125.0,409.1 1126.1,410.4 1127.3,405.0 1128.5,401.5 1129.7,395.9 1130.9,406.4 1132.0,403.6 1133.2,388.7 1134.4,391.9 1135.6,392.2 1136.7,398.2 1137.9,395.7 1139.1,387.7 1140.3,395.4 1141.4,391.4 1142.6,403.5 1143.8,399.3 1145.0,395.3 1146.2,404.4 1147.3,396.3 1148.5,404.4 1149.7,408.9 1150.9,405.6 1152.0,391.4 1153.2,395.7 1154.4,393.5 1155.6,403.5 1156.7,402.7 1157.9,410.6 1159.1,410.1 1160.3,400.6 1161.5,402.1 1162.6,393.0 1163.8,399.8 1165.0,402.8 1166.2,394.4 1167.3,403.4 1168.5,413.2 1169.7,398.9 1170.9,398.4 1172.0,415.2 1173.2,408.1 1174.4,407.9 1175.6,393.6 1176.8,403.5 1177.9,407.0 1179.1,410.8 1180.3,413.4 1181.5,412.3 1182.6,416.6 1183.8,415.9 1185.0,419.4 1186.2,420.2 1187.3,421.0 1188.5,414.5 1189.7,412.6 1190.9,415.4 1192.1,405.4 1193.2,404.3 1194.4,406.4 1195.6,407.5 1196.8,394.5 1197.9,397.5 1199.1,397.3 1200.3,417.5 1201.5,413.8 1202.6,422.1 1203.8,414.4 1205.0,405.6 1206.2,408.6 1207.3,402.0 1208.5,409.3 1209.7,402.0 1210.9,412.7 1212.1,409.1 1213.2,402.9 1214.4,399.4 1215.6,402.1 1216.8,389.7 1217.9,399.7 1219.1,404.4 1220.3,421.8 1221.5,399.7 1222.6,403.9 1223.8,411.1 1225.0,397.9 1226.2,392.5 1227.4,397.5 1228.5,409.9 1229.7,403.1 1230.9,405.7 1232.1,404.7 1233.2,381.4 1234.4,366.6 1235.6,354.3 1236.8,363.6 1237.9,374.4 1239.1,388.8 1240.3,410.9 1241.5,412.6 1242.7,406.9 1243.8,402.4 1245.0,396.2 1246.2,412.8 1247.4,409.5 1248.5,399.5 1249.7,391.2 1250.9,385.3 1252.1,397.6 1253.2,393.2 1254.4,387.2 1255.6,387.9 1256.8,391.4 1258.0,392.2 1259.1,403.3 1260.3,412.7 1261.5,400.8 1262.7,404.2 1263.8,403.7 1265.0,407.1 1266.2,407.4 1267.4,403.4 1268.5,409.9 1269.7,405.6 1270.9,402.5 1272.1,403.2 1273.3,408.0 1274.4,400.0 1275.6,389.2 1276.8,400.7 1278.0,393.8 1279.1,392.9 1280.3,415.9 1281.5,413.8 1282.7,412.0 1283.8,401.8 1285.0,401.2 1286.2,399.0 1287.4,396.9 1288.6,406.2 1289.7,409.3 1290.9,396.4 1292.1,396.4 1293.3,396.4 1294.4,396.4 1295.6,396.4 1296.8,396.4 1298.0,396.4 1299.1,396.4" fill="none" stroke="#0000ff" stroke-width="1.3" stroke-linejoin="round"/>
<line x1="1235.5" y1="348.4" x2="1235.5" y2="432.5" stroke="#000" stroke-width="1" stroke-dasharray="2,2"/>
</g>
<rect x="101.40" y="348.40" width="1198.20" height="84.10" fill="none" stroke="#333" stroke-width="1" />
<line x1="97.90" y1="362.40" x2="101.40" y2="362.40" stroke="#333" stroke-width="0.8" />
<text x="89.72" y="365.90" font-family="'Liberation Sans', sans-serif" font-size="10.39" fill="#000" stroke="#000" stroke-width="0.118" text-anchor="start" textLength="6.24" lengthAdjust="spacingAndGlyphs" style="white-space:pre" >4</text>
<line x1="97.90" y1="389.40" x2="101.40" y2="389.40" stroke="#333" stroke-width="0.8" />
<text x="90.15" y="392.90" font-family="'Liberation Sans', sans-serif" font-size="10.39" fill="#000" stroke="#000" stroke-width="0.118" text-anchor="start" textLength="6.24" lengthAdjust="spacingAndGlyphs" style="white-space:pre" >2</text>
<line x1="97.90" y1="416.40" x2="101.40" y2="416.40" stroke="#333" stroke-width="0.8" />
<text x="89.82" y="419.90" font-family="'Liberation Sans', sans-serif" font-size="10.39" fill="#000" stroke="#000" stroke-width="0.118" text-anchor="start" textLength="6.24" lengthAdjust="spacingAndGlyphs" style="white-space:pre" >0</text>
<line x1="108.20" y1="432.50" x2="108.20" y2="436.00" stroke="#333" stroke-width="0.8" />
<text x="95.68" y="447.20" font-family="'Liberation Sans', sans-serif" font-size="10.39" fill="#000" stroke="#000" stroke-width="0.118" text-anchor="start" textLength="24.94" lengthAdjust="spacingAndGlyphs" style="white-space:pre" >3500</text>
<line x1="167.04" y1="432.50" x2="167.04" y2="436.00" stroke="#333" stroke-width="0.8" />
<text x="154.52" y="447.20" font-family="'Liberation Sans', sans-serif" font-size="10.39" fill="#000" stroke="#000" stroke-width="0.118" text-anchor="start" textLength="24.94" lengthAdjust="spacingAndGlyphs" style="white-space:pre" >3600</text>
<line x1="225.88" y1="432.50" x2="225.88" y2="436.00" stroke="#333" stroke-width="0.8" />
<text x="213.36" y="447.20" font-family="'Liberation Sans', sans-serif" font-size="10.39" fill="#000" stroke="#000" stroke-width="0.118" text-anchor="start" textLength="24.94" lengthAdjust="spacingAndGlyphs" style="white-space:pre" >3700</text>
<line x1="284.72" y1="432.50" x2="284.72" y2="436.00" stroke="#333" stroke-width="0.8" />
<text x="272.21" y="447.20" font-family="'Liberation Sans', sans-serif" font-size="10.39" fill="#000" stroke="#000" stroke-width="0.118" text-anchor="start" textLength="24.94" lengthAdjust="spacingAndGlyphs" style="white-space:pre" >3800</text>
<line x1="343.56" y1="432.50" x2="343.56" y2="436.00" stroke="#333" stroke-width="0.8" />
<text x="331.05" y="447.20" font-family="'Liberation Sans', sans-serif" font-size="10.39" fill="#000" stroke="#000" stroke-width="0.118" text-anchor="start" textLength="24.94" lengthAdjust="spacingAndGlyphs" style="white-space:pre" >3900</text>
<line x1="402.40" y1="432.50" x2="402.40" y2="436.00" stroke="#333" stroke-width="0.8" />
<text x="390.02" y="447.20" font-family="'Liberation Sans', sans-serif" font-size="10.39" fill="#000" stroke="#000" stroke-width="0.118" text-anchor="start" textLength="24.94" lengthAdjust="spacingAndGlyphs" style="white-space:pre" >4000</text>
<line x1="461.25" y1="432.50" x2="461.25" y2="436.00" stroke="#333" stroke-width="0.8" />
<text x="448.86" y="447.20" font-family="'Liberation Sans', sans-serif" font-size="10.39" fill="#000" stroke="#000" stroke-width="0.118" text-anchor="start" textLength="24.94" lengthAdjust="spacingAndGlyphs" style="white-space:pre" >4100</text>
<line x1="520.09" y1="432.50" x2="520.09" y2="436.00" stroke="#333" stroke-width="0.8" />
<text x="507.70" y="447.20" font-family="'Liberation Sans', sans-serif" font-size="10.39" fill="#000" stroke="#000" stroke-width="0.118" text-anchor="start" textLength="24.94" lengthAdjust="spacingAndGlyphs" style="white-space:pre" >4200</text>
<line x1="578.93" y1="432.50" x2="578.93" y2="436.00" stroke="#333" stroke-width="0.8" />
<text x="566.54" y="447.20" font-family="'Liberation Sans', sans-serif" font-size="10.39" fill="#000" stroke="#000" stroke-width="0.118" text-anchor="start" textLength="24.94" lengthAdjust="spacingAndGlyphs" style="white-space:pre" >4300</text>
<line x1="637.77" y1="432.50" x2="637.77" y2="436.00" stroke="#333" stroke-width="0.8" />
<text x="625.39" y="447.20" font-family="'Liberation Sans', sans-serif" font-size="10.39" fill="#000" stroke="#000" stroke-width="0.118" text-anchor="start" textLength="24.94" lengthAdjust="spacingAndGlyphs" style="white-space:pre" >4400</text>
<line x1="696.61" y1="432.50" x2="696.61" y2="436.00" stroke="#333" stroke-width="0.8" />
<text x="684.23" y="447.20" font-family="'Liberation Sans', sans-serif" font-size="10.39" fill="#000" stroke="#000" stroke-width="0.118" text-anchor="start" textLength="24.94" lengthAdjust="spacingAndGlyphs" style="white-space:pre" >4500</text>
<line x1="755.45" y1="432.50" x2="755.45" y2="436.00" stroke="#333" stroke-width="0.8" />
<text x="743.07" y="447.20" font-family="'Liberation Sans', sans-serif" font-size="10.39" fill="#000" stroke="#000" stroke-width="0.118" text-anchor="start" textLength="24.94" lengthAdjust="spacingAndGlyphs" style="white-space:pre" >4600</text>
<line x1="814.29" y1="432.50" x2="814.29" y2="436.00" stroke="#333" stroke-width="0.8" />
<text x="801.91" y="447.20" font-family="'Liberation Sans', sans-serif" font-size="10.39" fill="#000" stroke="#000" stroke-width="0.118" text-anchor="start" textLength="24.94" lengthAdjust="spacingAndGlyphs" style="white-space:pre" >4700</text>
<line x1="873.13" y1="432.50" x2="873.13" y2="436.00" stroke="#333" stroke-width="0.8" />
<text x="860.75" y="447.20" font-family="'Liberation Sans', sans-serif" font-size="10.39" fill="#000" stroke="#000" stroke-width="0.118" text-anchor="start" textLength="24.94" lengthAdjust="spacingAndGlyphs" style="white-space:pre" >4800</text>
<line x1="931.97" y1="432.50" x2="931.97" y2="436.00" stroke="#333" stroke-width="0.8" />
<text x="919.59" y="447.20" font-family="'Liberation Sans', sans-serif" font-size="10.39" fill="#000" stroke="#000" stroke-width="0.118" text-anchor="start" textLength="24.94" lengthAdjust="spacingAndGlyphs" style="white-space:pre" >4900</text>
<line x1="990.82" y1="432.50" x2="990.82" y2="436.00" stroke="#333" stroke-width="0.8" />
<text x="978.29" y="447.20" font-family="'Liberation Sans', sans-serif" font-size="10.39" fill="#000" stroke="#000" stroke-width="0.118" text-anchor="start" textLength="24.94" lengthAdjust="spacingAndGlyphs" style="white-space:pre" >5000</text>
<line x1="1049.66" y1="432.50" x2="1049.66" y2="436.00" stroke="#333" stroke-width="0.8" />
<text x="1037.13" y="447.20" font-family="'Liberation Sans', sans-serif" font-size="10.39" fill="#000" stroke="#000" stroke-width="0.118" text-anchor="start" textLength="24.94" lengthAdjust="spacingAndGlyphs" style="white-space:pre" >5100</text>
<line x1="1108.50" y1="432.50" x2="1108.50" y2="436.00" stroke="#333" stroke-width="0.8" />
<text x="1095.97" y="447.20" font-family="'Liberation Sans', sans-serif" font-size="10.39" fill="#000" stroke="#000" stroke-width="0.118" text-anchor="start" textLength="24.94" lengthAdjust="spacingAndGlyphs" style="white-space:pre" >5200</text>
<line x1="1167.34" y1="432.50" x2="1167.34" y2="436.00" stroke="#333" stroke-width="0.8" />
<text x="1154.82" y="447.20" font-family="'Liberation Sans', sans-serif" font-size="10.39" fill="#000" stroke="#000" stroke-width="0.118" text-anchor="start" textLength="24.94" lengthAdjust="spacingAndGlyphs" style="white-space:pre" >5300</text>
<line x1="1226.18" y1="432.50" x2="1226.18" y2="436.00" stroke="#333" stroke-width="0.8" />
<text x="1213.66" y="447.20" font-family="'Liberation Sans', sans-serif" font-size="10.39" fill="#000" stroke="#000" stroke-width="0.118" text-anchor="start" textLength="24.94" lengthAdjust="spacingAndGlyphs" style="white-space:pre" >5400</text>
<line x1="1285.02" y1="432.50" x2="1285.02" y2="436.00" stroke="#333" stroke-width="0.8" />
<text x="1272.50" y="447.20" font-family="'Liberation Sans', sans-serif" font-size="10.39" fill="#000" stroke="#000" stroke-width="0.118" text-anchor="start" textLength="24.94" lengthAdjust="spacingAndGlyphs" style="white-space:pre" >5500</text>
<text x="109.03" y="346.00" font-family="'Liberation Sans', sans-serif" font-size="9.04" fill="#000" stroke="#000" stroke-width="0.102" text-anchor="start" textLength="5.25" lengthAdjust="spacingAndGlyphs" style="white-space:pre" >e</text>
<text x="114.66" y="342.20" font-family="'Liberation Sans', sans-serif" font-size="6.36" fill="#000" stroke="#000" stroke-width="0.072" text-anchor="start" textLength="12.66" lengthAdjust="spacingAndGlyphs" style="white-space:pre" >−17</text>
<text x="128.85" y="346.00" font-family="'Liberation Sans', sans-serif" font-size="9.04" fill="#000" stroke="#000" stroke-width="0.102" text-anchor="start" textLength="10.48" lengthAdjust="spacingAndGlyphs" style="white-space:pre" >x2</text>
<text x="140.25" y="346.00" font-family="'Liberation Sans', sans-serif" font-size="9.04" fill="#000" stroke="#000" stroke-width="0.102" text-anchor="start" textLength="5.84" lengthAdjust="spacingAndGlyphs" style="white-space:pre" font-style="italic" >Å</text>
<text transform="translate(101.6,318.7) rotate(90)" font-family="'Liberation Sans', sans-serif" font-size="10.6" fill="#4169e1" textLength="20.9" lengthAdjust="spacingAndGlyphs">MgII</text>
<path d="M99.7 347.6 v-1.6 q0 -0.8 0.8 -0.8 h2.6 q1.1 0 1.1 -0.9 q0 0.9 1.1 0.9 h2.6 q0.8 0 0.8 0.8 v1.6" fill="none" stroke="#4169e1" stroke-width="0.9"/>
<text transform="translate(117.5,319.0) rotate(90)" font-family="'Liberation Sans', sans-serif" font-size="10.6" fill="#800080" textLength="14.3" lengthAdjust="spacingAndGlyphs">NV</text>
<path d="M116.7 347.6 v-1.6 q0 -0.8 0.8 -0.8 h2.6 q1.1 0 1.1 -0.9 q0 0.9 1.1 0.9 h2.6 q0.8 0 0.8 0.8 v1.6" fill="none" stroke="#800080" stroke-width="0.9"/>
<text transform="translate(155.2,324.2) rotate(90)" font-family="'Liberation Sans', sans-serif" font-size="10.6" fill="#9b30b0" textLength="15.0" lengthAdjust="spacingAndGlyphs">SiII</text>
<path d="M154.3 347.6 v-1.6 q0 -0.8 0.8 -0.8 h2.6 q1.1 0 1.1 -0.9 q0 0.9 1.1 0.9 h2.6 q0.8 0 0.8 0.8 v1.6" fill="none" stroke="#9b30b0" stroke-width="0.9"/>
<text transform="translate(174.3,319.1) rotate(90)" font-family="'Liberation Sans', sans-serif" font-size="10.6" fill="#8a2be2" textLength="17.7" lengthAdjust="spacingAndGlyphs">OVI</text>
<path d="M173.5 347.6 v-1.6 q0 -0.8 0.8 -0.8 h2.6 q1.1 0 1.1 -0.9 q0 0.9 1.1 0.9 h2.6 q0.8 0 0.8 0.8 v1.6" fill="none" stroke="#8a2be2" stroke-width="0.9"/>
<text transform="translate(219.2,323.8) rotate(90)" font-family="'Liberation Sans', sans-serif" font-size="10.6" fill="#ff00ff" textLength="15.8" lengthAdjust="spacingAndGlyphs">CIII</text>
<path d="M218.4 347.6 v-1.6 q0 -0.8 0.8 -0.8 h2.6 q1.1 0 1.1 -0.9 q0 0.9 1.1 0.9 h2.6 q0.8 0 0.8 0.8 v1.6" fill="none" stroke="#ff00ff" stroke-width="0.9"/>
<text transform="translate(294.4,319.0) rotate(90)" font-family="'Liberation Sans', sans-serif" font-size="10.6" fill="#87ceeb" textLength="20.9" lengthAdjust="spacingAndGlyphs">MgII</text>
<path d="M292.5 347.6 v-1.6 q0 -0.8 0.8 -0.8 h2.6 q1.1 0 1.1 -0.9 q0 0.9 1.1 0.9 h2.6 q0.8 0 0.8 0.8 v1.6" fill="none" stroke="#87ceeb" stroke-width="0.9"/>
<text transform="translate(314.4,319.0) rotate(90)" font-family="'Liberation Sans', sans-serif" font-size="10.6" fill="#87ceeb" textLength="20.9" lengthAdjust="spacingAndGlyphs">MgII</text>
<path d="M312.5 347.6 v-1.6 q0 -0.8 0.8 -0.8 h2.6 q1.1 0 1.1 -0.9 q0 0.9 1.1 0.9 h2.6 q0.8 0 0.8 0.8 v1.6" fill="none" stroke="#87ceeb" stroke-width="0.9"/>
<text transform="translate(379.8,320.3) rotate(90)" font-family="'Liberation Sans', sans-serif" font-size="10.6" fill="#800080" textLength="18.9" lengthAdjust="spacingAndGlyphs">SiIV</text>
<path d="M378.9 347.6 v-1.6 q0 -0.8 0.8 -0.8 h2.6 q1.1 0 1.1 -0.9 q0 0.9 1.1 0.9 h2.6 q0.8 0 0.8 0.8 v1.6" fill="none" stroke="#800080" stroke-width="0.9"/>
<text transform="translate(408.4,322.0) rotate(90)" font-family="'Liberation Sans', sans-serif" font-size="10.6" fill="#ffa500" textLength="18.1" lengthAdjust="spacingAndGlyphs">Lyα</text>
<path d="M406.5 347.6 v-1.6 q0 -0.8 0.8 -0.8 h2.6 q1.1 0 1.1 -0.9 q0 0.9 1.1 0.9 h2.6 q0.8 0 0.8 0.8 v1.6" fill="none" stroke="#ffa500" stroke-width="0.9"/>
<text transform="translate(418.7,322.7) rotate(90)" font-family="'Liberation Sans', sans-serif" font-size="10.6" fill="#00ee00" textLength="13.8" lengthAdjust="spacingAndGlyphs">OII</text>
<path d="M417.8 347.6 v-1.6 q0 -0.8 0.8 -0.8 h2.6 q1.1 0 1.1 -0.9 q0 0.9 1.1 0.9 h2.6 q0.8 0 0.8 0.8 v1.6" fill="none" stroke="#00ee00" stroke-width="0.9"/>
<text transform="translate(439.1,319.0) rotate(90)" font-family="'Liberation Sans', sans-serif" font-size="10.6" fill="#006400" textLength="20.9" lengthAdjust="spacingAndGlyphs">MgII</text>
<path d="M437.2 347.6 v-1.6 q0 -0.8 0.8 -0.8 h2.6 q1.1 0 1.1 -0.9 q0 0.9 1.1 0.9 h2.6 q0.8 0 0.8 0.8 v1.6" fill="none" stroke="#006400" stroke-width="0.9"/>
<text transform="translate(456.2,319.0) rotate(90)" font-family="'Liberation Sans', sans-serif" font-size="10.6" fill="#ffa500" textLength="14.3" lengthAdjust="spacingAndGlyphs">NV</text>
<path d="M455.4 347.6 v-1.6 q0 -0.8 0.8 -0.8 h2.6 q1.1 0 1.1 -0.9 q0 0.9 1.1 0.9 h2.6 q0.8 0 0.8 0.8 v1.6" fill="none" stroke="#ffa500" stroke-width="0.9"/>
<text transform="translate(489.8,322.3) rotate(90)" font-family="'Liberation Sans', sans-serif" font-size="10.6" fill="#0000ff" textLength="13.8" lengthAdjust="spacingAndGlyphs">OII</text>
<path d="M488.9 347.6 v-1.6 q0 -0.8 0.8 -0.8 h2.6 q1.1 0 1.1 -0.9 q0 0.9 1.1 0.9 h2.6 q0.8 0 0.8 0.8 v1.6" fill="none" stroke="#0000ff" stroke-width="0.9"/>
<text transform="translate(500.4,324.7) rotate(90)" font-family="'Liberation Sans', sans-serif" font-size="10.6" fill="#ffa500" textLength="15.0" lengthAdjust="spacingAndGlyphs">SiII</text>
<path d="M499.5 347.6 v-1.6 q0 -0.8 0.8 -0.8 h2.6 q1.1 0 1.1 -0.9 q0 0.9 1.1 0.9 h2.6 q0.8 0 0.8 0.8 v1.6" fill="none" stroke="#ffa500" stroke-width="0.9"/>
<text transform="translate(546.8,321.9) rotate(90)" font-family="'Liberation Sans', sans-serif" font-size="10.6" fill="#8a2be2" textLength="18.1" lengthAdjust="spacingAndGlyphs">Lyα</text>
<path d="M544.9 347.6 v-1.6 q0 -0.8 0.8 -0.8 h2.6 q1.1 0 1.1 -0.9 q0 0.9 1.1 0.9 h2.6 q0.8 0 0.8 0.8 v1.6" fill="none" stroke="#8a2be2" stroke-width="0.9"/>
<text transform="translate(598.1,319.3) rotate(90)" font-family="'Liberation Sans', sans-serif" font-size="10.6" fill="#8a2be2" textLength="14.3" lengthAdjust="spacingAndGlyphs">NV</text>
<path d="M597.2 347.6 v-1.6 q0 -0.8 0.8 -0.8 h2.6 q1.1 0 1.1 -0.9 q0 0.9 1.1 0.9 h2.6 q0.8 0 0.8 0.8 v1.6" fill="none" stroke="#8a2be2" stroke-width="0.9"/>
<text transform="translate(632.8,319.7) rotate(90)" font-family="'Liberation Sans', sans-serif" font-size="10.6" fill="#800080" textLength="16.8" lengthAdjust="spacingAndGlyphs">CIV</text>
<path d="M631.9 347.6 v-1.6 q0 -0.8 0.8 -0.8 h2.6 q1.1 0 1.1 -0.9 q0 0.9 1.1 0.9 h2.6 q0.8 0 0.8 0.8 v1.6" fill="none" stroke="#800080" stroke-width="0.9"/>
<text transform="translate(644.1,324.7) rotate(90)" font-family="'Liberation Sans', sans-serif" font-size="10.6" fill="#8a2be2" textLength="15.0" lengthAdjust="spacingAndGlyphs">SiII</text>
<path d="M643.2 347.6 v-1.6 q0 -0.8 0.8 -0.8 h2.6 q1.1 0 1.1 -0.9 q0 0.9 1.1 0.9 h2.6 q0.8 0 0.8 0.8 v1.6" fill="none" stroke="#8a2be2" stroke-width="0.9"/>
<text transform="translate(692.1,324.0) rotate(90)" font-family="'Liberation Sans', sans-serif" font-size="10.6" fill="#ff00ff" textLength="12.9" lengthAdjust="spacingAndGlyphs">CII</text>
<path d="M691.2 347.6 v-1.6 q0 -0.8 0.8 -0.8 h2.6 q1.1 0 1.1 -0.9 q0 0.9 1.1 0.9 h2.6 q0.8 0 0.8 0.8 v1.6" fill="none" stroke="#ff00ff" stroke-width="0.9"/>
<text transform="translate(758.5,319.4) rotate(90)" font-family="'Liberation Sans', sans-serif" font-size="10.6" fill="#ff0000" textLength="17.7" lengthAdjust="spacingAndGlyphs">OVI</text>
<path d="M757.6 347.6 v-1.6 q0 -0.8 0.8 -0.8 h2.6 q1.1 0 1.1 -0.9 q0 0.9 1.1 0.9 h2.6 q0.8 0 0.8 0.8 v1.6" fill="none" stroke="#ff0000" stroke-width="0.9"/>
<text transform="translate(784.6,320.3) rotate(90)" font-family="'Liberation Sans', sans-serif" font-size="10.6" fill="#800080" textLength="19.6" lengthAdjust="spacingAndGlyphs">HeII</text>
<path d="M783.7 347.6 v-1.6 q0 -0.8 0.8 -0.8 h2.6 q1.1 0 1.1 -0.9 q0 0.9 1.1 0.9 h2.6 q0.8 0 0.8 0.8 v1.6" fill="none" stroke="#800080" stroke-width="0.9"/>
<text transform="translate(809.2,327.0) rotate(90)" font-family="'Liberation Sans', sans-serif" font-size="10.6" fill="#00ee00" textLength="13.4" lengthAdjust="spacingAndGlyphs">Hγ</text>
<path d="M807.3 347.6 v-1.6 q0 -0.8 0.8 -0.8 h2.6 q1.1 0 1.1 -0.9 q0 0.9 1.1 0.9 h2.6 q0.8 0 0.8 0.8 v1.6" fill="none" stroke="#00ee00" stroke-width="0.9"/>
<text transform="translate(836.2,327.0) rotate(90)" font-family="'Liberation Sans', sans-serif" font-size="10.6" fill="#00ee00" textLength="13.4" lengthAdjust="spacingAndGlyphs">Hγ</text>
<path d="M834.3 347.6 v-1.6 q0 -0.8 0.8 -0.8 h2.6 q1.1 0 1.1 -0.9 q0 0.9 1.1 0.9 h2.6 q0.8 0 0.8 0.8 v1.6" fill="none" stroke="#00ee00" stroke-width="0.9"/>
<text transform="translate(891.9,327.0) rotate(90)" font-family="'Liberation Sans', sans-serif" font-size="10.6" fill="#0000ff" textLength="13.4" lengthAdjust="spacingAndGlyphs">Hγ</text>
<path d="M890.0 347.6 v-1.6 q0 -0.8 0.8 -0.8 h2.6 q1.1 0 1.1 -0.9 q0 0.9 1.1 0.9 h2.6 q0.8 0 0.8 0.8 v1.6" fill="none" stroke="#0000ff" stroke-width="0.9"/>
<text transform="translate(920.6,320.3) rotate(90)" font-family="'Liberation Sans', sans-serif" font-size="10.6" fill="#8a2be2" textLength="18.9" lengthAdjust="spacingAndGlyphs">SiIV</text>
<path d="M919.8 347.6 v-1.6 q0 -0.8 0.8 -0.8 h2.6 q1.1 0 1.1 -0.9 q0 0.9 1.1 0.9 h2.6 q0.8 0 0.8 0.8 v1.6" fill="none" stroke="#8a2be2" stroke-width="0.9"/>
<text transform="translate(1039.3,322.4) rotate(90)" font-family="'Liberation Sans', sans-serif" font-size="10.6" fill="#87ceeb" textLength="13.8" lengthAdjust="spacingAndGlyphs">OII</text>
<path d="M1038.5 347.6 v-1.6 q0 -0.8 0.8 -0.8 h2.6 q1.1 0 1.1 -0.9 q0 0.9 1.1 0.9 h2.6 q0.8 0 0.8 0.8 v1.6" fill="none" stroke="#87ceeb" stroke-width="0.9"/>
<text transform="translate(1055.6,319.6) rotate(90)" font-family="'Liberation Sans', sans-serif" font-size="10.6" fill="#ffa500" textLength="16.8" lengthAdjust="spacingAndGlyphs">CIV</text>
<path d="M1054.8 347.6 v-1.6 q0 -0.8 0.8 -0.8 h2.6 q1.1 0 1.1 -0.9 q0 0.9 1.1 0.9 h2.6 q0.8 0 0.8 0.8 v1.6" fill="none" stroke="#ffa500" stroke-width="0.9"/>
<text transform="translate(1065.3,322.4) rotate(90)" font-family="'Liberation Sans', sans-serif" font-size="10.6" fill="#87ceeb" textLength="13.8" lengthAdjust="spacingAndGlyphs">OII</text>
<path d="M1064.5 347.6 v-1.6 q0 -0.8 0.8 -0.8 h2.6 q1.1 0 1.1 -0.9 q0 0.9 1.1 0.9 h2.6 q0.8 0 0.8 0.8 v1.6" fill="none" stroke="#87ceeb" stroke-width="0.9"/>
<text transform="translate(1140.7,326.6) rotate(90)" font-family="'Liberation Sans', sans-serif" font-size="10.6" fill="#00ee00" textLength="13.9" lengthAdjust="spacingAndGlyphs">Hβ</text>
<path d="M1138.8 347.6 v-1.6 q0 -0.8 0.8 -0.8 h2.6 q1.1 0 1.1 -0.9 q0 0.9 1.1 0.9 h2.6 q0.8 0 0.8 0.8 v1.6" fill="none" stroke="#00ee00" stroke-width="0.9"/>
<text transform="translate(1170.4,326.6) rotate(90)" font-family="'Liberation Sans', sans-serif" font-size="10.6" fill="#00ee00" textLength="13.9" lengthAdjust="spacingAndGlyphs">Hβ</text>
<path d="M1168.5 347.6 v-1.6 q0 -0.8 0.8 -0.8 h2.6 q1.1 0 1.1 -0.9 q0 0.9 1.1 0.9 h2.6 q0.8 0 0.8 0.8 v1.6" fill="none" stroke="#00ee00" stroke-width="0.9"/>
<text transform="translate(1201.8,323.4) rotate(90)" font-family="'Liberation Sans', sans-serif" font-size="10.6" fill="#00ee00" textLength="16.7" lengthAdjust="spacingAndGlyphs">OIII</text>
<path d="M1201.0 347.6 v-1.6 q0 -0.8 0.8 -0.8 h2.6 q1.1 0 1.1 -0.9 q0 0.9 1.1 0.9 h2.6 q0.8 0 0.8 0.8 v1.6" fill="none" stroke="#00ee00" stroke-width="0.9"/>
<text transform="translate(1263.1,323.4) rotate(90)" font-family="'Liberation Sans', sans-serif" font-size="10.6" fill="#00ee00" textLength="16.7" lengthAdjust="spacingAndGlyphs">OIII</text>
<path d="M1262.3 347.6 v-1.6 q0 -0.8 0.8 -0.8 h2.6 q1.1 0 1.1 -0.9 q0 0.9 1.1 0.9 h2.6 q0.8 0 0.8 0.8 v1.6" fill="none" stroke="#00ee00" stroke-width="0.9"/>
<text transform="translate(441.8,280.4) rotate(90)" font-family="'Liberation Sans', sans-serif" font-size="10.6" fill="#00ee00" textLength="13.8" lengthAdjust="spacingAndGlyphs">OII</text>
<path d="M440.9 305.6 v-1.6 q0 -0.8 0.8 -0.8 h2.6 q1.1 0 1.1 -0.9 q0 0.9 1.1 0.9 h2.6 q0.8 0 0.8 0.8 v1.6" fill="none" stroke="#00ee00" stroke-width="0.9"/>
<text transform="translate(760.9,278.2) rotate(90)" font-family="'Liberation Sans', sans-serif" font-size="10.6" fill="#ffa500" textLength="18.9" lengthAdjust="spacingAndGlyphs">SiIV</text>
<path d="M760.0 305.6 v-1.6 q0 -0.8 0.8 -0.8 h2.6 q1.1 0 1.1 -0.9 q0 0.9 1.1 0.9 h2.6 q0.8 0 0.8 0.8 v1.6" fill="none" stroke="#ffa500" stroke-width="0.9"/>
<text transform="translate(783.0,280.4) rotate(90)" font-family="'Liberation Sans', sans-serif" font-size="10.6" fill="#4169e1" textLength="13.8" lengthAdjust="spacingAndGlyphs">OII</text>
<path d="M782.1 305.6 v-1.6 q0 -0.8 0.8 -0.8 h2.6 q1.1 0 1.1 -0.9 q0 0.9 1.1 0.9 h2.6 q0.8 0 0.8 0.8 v1.6" fill="none" stroke="#4169e1" stroke-width="0.9"/>
<rect x="403.00" y="450.20" width="16.80" height="5.90" fill="#ff0000" stroke="none" stroke-width="1" />
<text x="425.99" y="456.60" font-family="'Liberation Sans', sans-serif" font-size="8.78" fill="#444" stroke="#444" stroke-width="0.099" text-anchor="start" textLength="14.97" lengthAdjust="spacingAndGlyphs" style="white-space:pre" >Lyα</text>
<rect x="457.10" y="450.20" width="16.80" height="5.90" fill="#008000" stroke="none" stroke-width="1" />
<text x="479.94" y="456.60" font-family="'Liberation Sans', sans-serif" font-size="8.78" fill="#444" stroke="#444" stroke-width="0.099" text-anchor="start" textLength="11.40" lengthAdjust="spacingAndGlyphs" style="white-space:pre" >OII</text>
<rect x="509.30" y="450.20" width="16.80" height="5.90" fill="#00ff00" stroke="none" stroke-width="1" />
<text x="532.94" y="456.60" font-family="'Liberation Sans', sans-serif" font-size="8.78" fill="#444" stroke="#444" stroke-width="0.099" text-anchor="start" textLength="13.84" lengthAdjust="spacingAndGlyphs" style="white-space:pre" >OIII</text>
<rect x="562.00" y="450.20" width="16.80" height="5.90" fill="#8a2be2" stroke="none" stroke-width="1" />
<text x="584.74" y="456.60" font-family="'Liberation Sans', sans-serif" font-size="8.78" fill="#444" stroke="#444" stroke-width="0.099" text-anchor="start" textLength="13.89" lengthAdjust="spacingAndGlyphs" style="white-space:pre" >CIV</text>
<rect x="617.30" y="450.20" width="16.80" height="5.90" fill="#800080" stroke="none" stroke-width="1" />
<text x="640.44" y="456.60" font-family="'Liberation Sans', sans-serif" font-size="8.78" fill="#444" stroke="#444" stroke-width="0.099" text-anchor="start" textLength="13.11" lengthAdjust="spacingAndGlyphs" style="white-space:pre" >CIII</text>
<rect x="668.90" y="450.20" width="16.80" height="5.90" fill="#ff00ff" stroke="none" stroke-width="1" />
<text x="691.29" y="456.60" font-family="'Liberation Sans', sans-serif" font-size="8.78" fill="#444" stroke="#444" stroke-width="0.099" text-anchor="start" textLength="17.28" lengthAdjust="spacingAndGlyphs" style="white-space:pre" >MgII</text>
<rect x="724.80" y="450.20" width="16.80" height="5.90" fill="#0000ff" stroke="none" stroke-width="1" />
<text x="747.19" y="456.60" font-family="'Liberation Sans', sans-serif" font-size="8.78" fill="#444" stroke="#444" stroke-width="0.099" text-anchor="start" textLength="11.51" lengthAdjust="spacingAndGlyphs" style="white-space:pre" >Hβ</text>
<rect x="775.40" y="450.20" width="16.80" height="5.90" fill="#4169e1" stroke="none" stroke-width="1" />
<text x="797.79" y="456.60" font-family="'Liberation Sans', sans-serif" font-size="8.78" fill="#444" stroke="#444" stroke-width="0.099" text-anchor="start" textLength="11.13" lengthAdjust="spacingAndGlyphs" style="white-space:pre" >Hγ</text>
<rect x="825.40" y="450.20" width="16.80" height="5.90" fill="#ffa500" stroke="none" stroke-width="1" />
<text x="848.09" y="456.60" font-family="'Liberation Sans', sans-serif" font-size="8.78" fill="#444" stroke="#444" stroke-width="0.099" text-anchor="start" textLength="16.20" lengthAdjust="spacingAndGlyphs" style="white-space:pre" >HeII</text>
<rect x="880.40" y="450.20" width="16.80" height="5.90" fill="#87ceeb" stroke="none" stroke-width="1" />
<text x="903.29" y="456.60" font-family="'Liberation Sans', sans-serif" font-size="8.78" fill="#444" stroke="#444" stroke-width="0.099" text-anchor="start" textLength="27.63" lengthAdjust="spacingAndGlyphs" style="white-space:pre" >(K)CaII</text>
<rect x="946.30" y="450.20" width="16.80" height="5.90" fill="#87ceeb" stroke="none" stroke-width="1" />
<text x="969.19" y="456.60" font-family="'Liberation Sans', sans-serif" font-size="8.78" fill="#444" stroke="#444" stroke-width="0.099" text-anchor="start" textLength="28.43" lengthAdjust="spacingAndGlyphs" style="white-space:pre" >(H)CaII</text>
<text x="69.83" y="497.70" font-family="'Liberation Mono', monospace" font-size="13.65" fill="#000" stroke="#000" stroke-width="0.25" text-anchor="start" textLength="485.25" lengthAdjust="spacingAndGlyphs" style="white-space:pre" >HSC-SSP : Possible Matches = 1 (within +/- 3")  P(LAE)/P(OII):</text>
<text x="560.54" y="497.70" font-family="'Liberation Sans', sans-serif" font-size="13.78" fill="#000" stroke="#000" stroke-width="0.156" text-anchor="start" textLength="28.95" lengthAdjust="spacingAndGlyphs" style="white-space:pre" >0.02</text>
<text x="594.30" y="492.30" font-family="'Liberation Sans', sans-serif" font-size="9.65" fill="#000" stroke="#000" stroke-width="0.109" text-anchor="start" textLength="26.05" lengthAdjust="spacingAndGlyphs" style="white-space:pre" >0.026</text>
<text x="594.30" y="501.00" font-family="'Liberation Sans', sans-serif" font-size="9.65" fill="#000" stroke="#000" stroke-width="0.109" text-anchor="start" textLength="26.05" lengthAdjust="spacingAndGlyphs" style="white-space:pre" >0.016</text>
<text x="628.30" y="497.70" font-family="'Liberation Mono', monospace" font-size="13.65" fill="#000" stroke="#000" stroke-width="0.25" text-anchor="start" textLength="23.48" lengthAdjust="spacingAndGlyphs" style="white-space:pre" >(r)</text>
<clipPath id="cp0"><rect x="69.80" y="532.6" width="148.2" height="148.2"/></clipPath>
<g clip-path="url(#cp0)">
<rect x="9.80" y="472.6" width="268.2" height="268.2" fill="url(#tA)" transform="translate(0.0,0.0)"/>
<path d="M121.0 580.3h3.32v3.32h-3.32zM121.0 583.6h3.32v3.32h-3.32zM121.0 606.5h3.32v3.32h-3.32zM121.0 609.8h3.32v3.32h-3.32zM124.3 577.1h3.32v3.32h-3.32zM124.3 613.0h3.32v3.32h-3.32zM127.5 619.6h3.32v3.32h-3.32zM130.8 619.6h3.32v3.32h-3.32zM134.1 622.9h3.32v3.32h-3.32zM137.4 622.9h3.32v3.32h-3.32zM140.6 622.9h3.32v3.32h-3.32zM143.9 622.9h3.32v3.32h-3.32zM147.2 619.6h3.32v3.32h-3.32zM150.4 619.6h3.32v3.32h-3.32zM153.7 577.1h3.32v3.32h-3.32zM153.7 613.0h3.32v3.32h-3.32zM153.7 635.9h3.32v3.32h-3.32zM153.7 645.7h3.32v3.32h-3.32zM157.0 583.6h3.32v3.32h-3.32zM157.0 586.9h3.32v3.32h-3.32zM157.0 603.2h3.32v3.32h-3.32zM157.0 606.5h3.32v3.32h-3.32zM157.0 632.7h3.32v3.32h-3.32zM157.0 649.0h3.32v3.32h-3.32zM160.2 649.0h3.32v3.32h-3.32zM166.8 649.0h3.32v3.32h-3.32zM170.1 645.7h3.32v3.32h-3.32z" fill="#000" fill-opacity="0.125"/>
<path d="M121.0 586.9h3.32v3.32h-3.32zM121.0 590.1h3.32v3.32h-3.32zM121.0 593.4h3.32v3.32h-3.32zM121.0 596.7h3.32v3.32h-3.32zM121.0 600.0h3.32v3.32h-3.32zM121.0 603.2h3.32v3.32h-3.32zM124.3 580.3h3.32v3.32h-3.32zM124.3 583.6h3.32v3.32h-3.32zM124.3 606.5h3.32v3.32h-3.32zM124.3 609.8h3.32v3.32h-3.32zM127.5 573.8h3.32v3.32h-3.32zM127.5 577.1h3.32v3.32h-3.32zM127.5 613.0h3.32v3.32h-3.32zM127.5 616.3h3.32v3.32h-3.32zM130.8 573.8h3.32v3.32h-3.32zM130.8 616.3h3.32v3.32h-3.32zM134.1 619.6h3.32v3.32h-3.32zM137.4 619.6h3.32v3.32h-3.32zM140.6 619.6h3.32v3.32h-3.32zM143.9 619.6h3.32v3.32h-3.32zM147.2 573.8h3.32v3.32h-3.32zM147.2 616.3h3.32v3.32h-3.32zM150.4 573.8h3.32v3.32h-3.32zM150.4 577.1h3.32v3.32h-3.32zM150.4 613.0h3.32v3.32h-3.32zM150.4 616.3h3.32v3.32h-3.32zM153.7 580.3h3.32v3.32h-3.32zM153.7 583.6h3.32v3.32h-3.32zM153.7 606.5h3.32v3.32h-3.32zM153.7 609.8h3.32v3.32h-3.32zM153.7 639.2h3.32v3.32h-3.32zM153.7 642.5h3.32v3.32h-3.32zM157.0 590.1h3.32v3.32h-3.32zM157.0 593.4h3.32v3.32h-3.32zM157.0 596.7h3.32v3.32h-3.32zM157.0 600.0h3.32v3.32h-3.32zM157.0 645.7h3.32v3.32h-3.32zM160.2 632.7h3.32v3.32h-3.32zM163.5 632.7h3.32v3.32h-3.32zM163.5 649.0h3.32v3.32h-3.32zM166.8 632.7h3.32v3.32h-3.32zM170.1 635.9h3.32v3.32h-3.32zM170.1 639.2h3.32v3.32h-3.32zM170.1 642.5h3.32v3.32h-3.32z" fill="#000" fill-opacity="0.250"/>
<path d="M124.3 586.9h3.32v3.32h-3.32zM124.3 600.0h3.32v3.32h-3.32zM124.3 603.2h3.32v3.32h-3.32zM127.5 580.3h3.32v3.32h-3.32zM127.5 609.8h3.32v3.32h-3.32zM130.8 577.1h3.32v3.32h-3.32zM130.8 613.0h3.32v3.32h-3.32zM134.1 573.8h3.32v3.32h-3.32zM134.1 616.3h3.32v3.32h-3.32zM137.4 573.8h3.32v3.32h-3.32zM137.4 616.3h3.32v3.32h-3.32zM140.6 573.8h3.32v3.32h-3.32zM140.6 616.3h3.32v3.32h-3.32zM143.9 573.8h3.32v3.32h-3.32zM143.9 616.3h3.32v3.32h-3.32zM147.2 577.1h3.32v3.32h-3.32zM147.2 613.0h3.32v3.32h-3.32zM150.4 580.3h3.32v3.32h-3.32zM150.4 609.8h3.32v3.32h-3.32zM153.7 586.9h3.32v3.32h-3.32zM153.7 590.1h3.32v3.32h-3.32zM153.7 600.0h3.32v3.32h-3.32zM153.7 603.2h3.32v3.32h-3.32zM157.0 635.9h3.32v3.32h-3.32zM166.8 635.9h3.32v3.32h-3.32zM166.8 645.7h3.32v3.32h-3.32z" fill="#000" fill-opacity="0.375"/>
<path d="M124.3 590.1h3.32v3.32h-3.32zM124.3 593.4h3.32v3.32h-3.32zM124.3 596.7h3.32v3.32h-3.32zM127.5 583.6h3.32v3.32h-3.32zM127.5 606.5h3.32v3.32h-3.32zM134.1 613.0h3.32v3.32h-3.32zM143.9 613.0h3.32v3.32h-3.32zM150.4 583.6h3.32v3.32h-3.32zM150.4 606.5h3.32v3.32h-3.32zM153.7 593.4h3.32v3.32h-3.32zM153.7 596.7h3.32v3.32h-3.32zM157.0 639.2h3.32v3.32h-3.32zM157.0 642.5h3.32v3.32h-3.32zM160.2 635.9h3.32v3.32h-3.32zM160.2 645.7h3.32v3.32h-3.32zM163.5 645.7h3.32v3.32h-3.32z" fill="#000" fill-opacity="0.500"/>
<path d="M127.5 586.9h3.32v3.32h-3.32zM127.5 603.2h3.32v3.32h-3.32zM130.8 580.3h3.32v3.32h-3.32zM130.8 609.8h3.32v3.32h-3.32zM134.1 577.1h3.32v3.32h-3.32zM137.4 577.1h3.32v3.32h-3.32zM137.4 613.0h3.32v3.32h-3.32zM140.6 577.1h3.32v3.32h-3.32zM140.6 613.0h3.32v3.32h-3.32zM143.9 577.1h3.32v3.32h-3.32zM147.2 580.3h3.32v3.32h-3.32zM147.2 609.8h3.32v3.32h-3.32zM150.4 586.9h3.32v3.32h-3.32zM150.4 603.2h3.32v3.32h-3.32zM163.5 635.9h3.32v3.32h-3.32zM166.8 639.2h3.32v3.32h-3.32zM166.8 642.5h3.32v3.32h-3.32z" fill="#000" fill-opacity="0.625"/>
<path d="M127.5 590.1h3.32v3.32h-3.32zM127.5 600.0h3.32v3.32h-3.32zM130.8 606.5h3.32v3.32h-3.32zM134.1 609.8h3.32v3.32h-3.32zM143.9 609.8h3.32v3.32h-3.32zM147.2 606.5h3.32v3.32h-3.32zM150.4 590.1h3.32v3.32h-3.32zM150.4 593.4h3.32v3.32h-3.32zM150.4 596.7h3.32v3.32h-3.32zM150.4 600.0h3.32v3.32h-3.32zM160.2 639.2h3.32v3.32h-3.32zM160.2 642.5h3.32v3.32h-3.32zM163.5 642.5h3.32v3.32h-3.32z" fill="#000" fill-opacity="0.750"/>
<path d="M127.5 593.4h3.32v3.32h-3.32zM127.5 596.7h3.32v3.32h-3.32zM130.8 583.6h3.32v3.32h-3.32zM134.1 580.3h3.32v3.32h-3.32zM137.4 609.8h3.32v3.32h-3.32zM140.6 609.8h3.32v3.32h-3.32zM143.9 580.3h3.32v3.32h-3.32zM147.2 583.6h3.32v3.32h-3.32zM163.5 639.2h3.32v3.32h-3.32z" fill="#000" fill-opacity="0.875"/>
<path d="M130.8 586.9h3.32v3.32h-3.32zM130.8 590.1h3.32v3.32h-3.32zM130.8 593.4h3.32v3.32h-3.32zM130.8 596.7h3.32v3.32h-3.32zM130.8 600.0h3.32v3.32h-3.32zM130.8 603.2h3.32v3.32h-3.32zM134.1 583.6h3.32v3.32h-3.32zM134.1 586.9h3.32v3.32h-3.32zM134.1 590.1h3.32v3.32h-3.32zM134.1 593.4h3.32v3.32h-3.32zM134.1 596.7h3.32v3.32h-3.32zM134.1 600.0h3.32v3.32h-3.32zM134.1 603.2h3.32v3.32h-3.32zM134.1 606.5h3.32v3.32h-3.32zM137.4 580.3h3.32v3.32h-3.32zM137.4 583.6h3.32v3.32h-3.32zM137.4 586.9h3.32v3.32h-3.32zM137.4 590.1h3.32v3.32h-3.32zM137.4 593.4h3.32v3.32h-3.32zM137.4 596.7h3.32v3.32h-3.32zM137.4 600.0h3.32v3.32h-3.32zM137.4 603.2h3.32v3.32h-3.32zM137.4 606.5h3.32v3.32h-3.32zM140.6 580.3h3.32v3.32h-3.32zM140.6 583.6h3.32v3.32h-3.32zM140.6 586.9h3.32v3.32h-3.32zM140.6 590.1h3.32v3.32h-3.32zM140.6 593.4h3.32v3.32h-3.32zM140.6 596.7h3.32v3.32h-3.32zM140.6 600.0h3.32v3.32h-3.32zM140.6 603.2h3.32v3.32h-3.32zM140.6 606.5h3.32v3.32h-3.32zM143.9 583.6h3.32v3.32h-3.32zM143.9 586.9h3.32v3.32h-3.32zM143.9 590.1h3.32v3.32h-3.32zM143.9 593.4h3.32v3.32h-3.32zM143.9 596.7h3.32v3.32h-3.32zM143.9 600.0h3.32v3.32h-3.32zM143.9 603.2h3.32v3.32h-3.32zM143.9 606.5h3.32v3.32h-3.32zM147.2 586.9h3.32v3.32h-3.32zM147.2 590.1h3.32v3.32h-3.32zM147.2 593.4h3.32v3.32h-3.32zM147.2 596.7h3.32v3.32h-3.32zM147.2 600.0h3.32v3.32h-3.32zM147.2 603.2h3.32v3.32h-3.32z" fill="#000" fill-opacity="1.000"/>
</g>
<rect x="94.20" y="556.80" width="99.41" height="99.41" fill="none" stroke="#ff0000" stroke-width="1.2" />
<text x="140.16" y="547.34" font-family="'Liberation Sans', sans-serif" font-size="10.60" fill="#ff0000" stroke="#ff0000" stroke-width="0.120" text-anchor="start" textLength="7.48" lengthAdjust="spacingAndGlyphs" style="white-space:pre" >N</text>
<text x="76.80" y="611.10" font-family="'Liberation Sans', sans-serif" font-size="10.60" fill="#ff0000" stroke="#ff0000" stroke-width="0.120" text-anchor="start" textLength="6.32" lengthAdjust="spacingAndGlyphs" style="white-space:pre" >E</text>
<circle cx="144.3" cy="553.5" r="12.3" fill="none" stroke="#555" stroke-width="0.9"/>
<circle cx="122.3" cy="567.3" r="12.3" fill="none" stroke="#555" stroke-width="0.9"/>
<circle cx="163.9" cy="566.2" r="12.3" fill="none" stroke="#555" stroke-width="0.9"/>
<circle cx="101.0" cy="574.8" r="12.3" fill="none" stroke="#555" stroke-width="0.9"/>
<circle cx="143.1" cy="576.6" r="12.3" fill="none" stroke="#555" stroke-width="0.9"/>
<circle cx="121.8" cy="588.1" r="12.3" fill="none" stroke="#555" stroke-width="0.9"/>
<circle cx="163.9" cy="588.1" r="12.3" fill="none" stroke="#555" stroke-width="0.9"/>
<circle cx="183.5" cy="578.9" r="12.3" fill="none" stroke="#555" stroke-width="0.9"/>
<circle cx="101.0" cy="599.7" r="12.3" fill="none" stroke="#555" stroke-width="0.9"/>
<circle cx="183.5" cy="603.7" r="12.3" fill="none" stroke="#555" stroke-width="0.9"/>
<circle cx="101.0" cy="623.3" r="12.3" fill="none" stroke="#555" stroke-width="0.9"/>
<circle cx="119.4" cy="636.6" r="12.3" fill="none" stroke="#555" stroke-width="0.9"/>
<circle cx="183.5" cy="627.4" r="12.3" fill="none" stroke="#555" stroke-width="0.9"/>
<circle cx="139.7" cy="649.3" r="12.3" fill="none" stroke="#555" stroke-width="0.9"/>
<circle cx="161.6" cy="640.1" r="12.3" fill="none" stroke="#555" stroke-width="0.9"/>
<circle cx="178.9" cy="651.6" r="12.3" fill="none" stroke="#555" stroke-width="0.9"/>
<circle cx="159.3" cy="659.7" r="12.3" fill="none" stroke="#555" stroke-width="0.9"/>
<circle cx="141.6" cy="601.4" r="12.3" fill="none" stroke="#0000ff" stroke-width="1.4"/>
<circle cx="119.4" cy="612.4" r="12.3" fill="none" stroke="#ff0000" stroke-width="1.4"/>
<circle cx="161.0" cy="614.1" r="12.3" fill="none" stroke="#ffa500" stroke-width="1.4"/>
<circle cx="140.8" cy="624.5" r="12.3" fill="none" stroke="#00ee00" stroke-width="1.4"/>
<line x1="139.90" y1="606.50" x2="147.90" y2="606.50" stroke="#ff0000" stroke-width="1.2" />
<line x1="143.90" y1="602.50" x2="143.90" y2="610.50" stroke="#ff0000" stroke-width="1.2" />
<rect x="69.80" y="532.60" width="148.20" height="148.20" fill="none" stroke="#222" stroke-width="1" />
<line x1="78.50" y1="680.80" x2="78.50" y2="684.30" stroke="#222" stroke-width="0.8" />
<line x1="66.30" y1="671.90" x2="69.80" y2="671.90" stroke="#222" stroke-width="0.8" />
<text x="70.19" y="695.80" font-family="'Liberation Sans', sans-serif" font-size="11.55" fill="#000" stroke="#000" stroke-width="0.131" text-anchor="start" textLength="16.07" lengthAdjust="spacingAndGlyphs" style="white-space:pre" >−4</text>
<text x="47.84" y="675.80" font-family="'Liberation Sans', sans-serif" font-size="11.55" fill="#000" stroke="#000" stroke-width="0.131" text-anchor="start" textLength="16.07" lengthAdjust="spacingAndGlyphs" style="white-space:pre" >−4</text>
<line x1="111.20" y1="680.80" x2="111.20" y2="684.30" stroke="#222" stroke-width="0.8" />
<line x1="66.30" y1="639.20" x2="69.80" y2="639.20" stroke="#222" stroke-width="0.8" />
<text x="103.13" y="695.80" font-family="'Liberation Sans', sans-serif" font-size="11.55" fill="#000" stroke="#000" stroke-width="0.131" text-anchor="start" textLength="16.07" lengthAdjust="spacingAndGlyphs" style="white-space:pre" >−2</text>
<text x="48.32" y="643.10" font-family="'Liberation Sans', sans-serif" font-size="11.55" fill="#000" stroke="#000" stroke-width="0.131" text-anchor="start" textLength="16.07" lengthAdjust="spacingAndGlyphs" style="white-space:pre" >−2</text>
<line x1="143.90" y1="680.80" x2="143.90" y2="684.30" stroke="#222" stroke-width="0.8" />
<line x1="66.30" y1="606.50" x2="69.80" y2="606.50" stroke="#222" stroke-width="0.8" />
<text x="140.44" y="695.80" font-family="'Liberation Sans', sans-serif" font-size="11.55" fill="#000" stroke="#000" stroke-width="0.131" text-anchor="start" textLength="6.93" lengthAdjust="spacingAndGlyphs" style="white-space:pre" >0</text>
<text x="57.09" y="610.40" font-family="'Liberation Sans', sans-serif" font-size="11.55" fill="#000" stroke="#000" stroke-width="0.131" text-anchor="start" textLength="6.93" lengthAdjust="spacingAndGlyphs" style="white-space:pre" >0</text>
<line x1="176.60" y1="680.80" x2="176.60" y2="684.30" stroke="#222" stroke-width="0.8" />
<line x1="66.30" y1="573.80" x2="69.80" y2="573.80" stroke="#222" stroke-width="0.8" />
<text x="173.28" y="695.80" font-family="'Liberation Sans', sans-serif" font-size="11.55" fill="#000" stroke="#000" stroke-width="0.131" text-anchor="start" textLength="6.93" lengthAdjust="spacingAndGlyphs" style="white-space:pre" >2</text>
<text x="57.46" y="577.70" font-family="'Liberation Sans', sans-serif" font-size="11.55" fill="#000" stroke="#000" stroke-width="0.131" text-anchor="start" textLength="6.93" lengthAdjust="spacingAndGlyphs" style="white-space:pre" >2</text>
<line x1="209.30" y1="680.80" x2="209.30" y2="684.30" stroke="#222" stroke-width="0.8" />
<line x1="66.30" y1="541.10" x2="69.80" y2="541.10" stroke="#222" stroke-width="0.8" />
<text x="205.87" y="695.80" font-family="'Liberation Sans', sans-serif" font-size="11.55" fill="#000" stroke="#000" stroke-width="0.131" text-anchor="start" textLength="6.93" lengthAdjust="spacingAndGlyphs" style="white-space:pre" >4</text>
<text x="56.98" y="545.00" font-family="'Liberation Sans', sans-serif" font-size="11.55" fill="#000" stroke="#000" stroke-width="0.131" text-anchor="start" textLength="6.93" lengthAdjust="spacingAndGlyphs" style="white-space:pre" >4</text>
<text x="96.61" y="525.60" font-family="'Liberation Sans', sans-serif" font-size="13.67" fill="#000" stroke="#000" stroke-width="0.155" text-anchor="start" textLength="93.94" lengthAdjust="spacingAndGlyphs" style="white-space:pre" >Fiber Positions</text>
<text x="123.42" y="706.50" font-family="'Liberation Sans', sans-serif" font-size="11.45" fill="#000" stroke="#000" stroke-width="0.130" text-anchor="start" textLength="40.83" lengthAdjust="spacingAndGlyphs" style="white-space:pre" >arcsecs</text>
<clipPath id="cp1"><rect x="255.05" y="532.6" width="148.2" height="148.2"/></clipPath>
<g clip-path="url(#cp1)">
<rect x="255.05" y="532.6" width="148.2" height="148.2" fill="#33638d"/>
<g filter="url(#blur3)">
<polygon points="250.1,527.6 295.1,527.6 285.1,592.6 250.1,602.6" fill="#414487" />
<polygon points="250.1,570.6 283.1,577.6 289.1,594.6 279.1,610.6 250.1,608.6" fill="#24868e" />
<polygon points="335.1,527.6 408.1,527.6 408.1,582.6 375.1,584.6 343.1,572.6" fill="#2a7b8e" />
<polygon points="260.1,644.6 315.1,644.6 327.1,685.6 260.1,685.6" fill="#26908c" />
<polygon points="273.1,657.6 300.1,657.6 300.1,680.6 273.1,680.6" fill="#3aa57f" />
<polygon points="250.1,622.6 275.1,632.6 277.1,685.6 250.1,685.6" fill="#3e4a89" />
<polygon points="263.1,540.6 310.1,534.6 318.1,558.6 303.1,578.6 285.1,589.6 261.1,568.6" fill="#440154" />
<polygon points="312.1,527.6 408.1,527.6 408.1,542.6 367.1,548.6 335.1,554.6 317.1,550.6" fill="#45075b" />
<polygon points="388.1,567.6 408.1,560.6 408.1,628.6 385.1,620.6 381.1,590.6" fill="#440154" />
<polygon points="351.1,632.6 379.1,622.6 408.1,630.6 408.1,685.6 363.1,685.6 349.1,658.6" fill="#440154" />
<polygon points="280.1,610.6 295.1,603.6 303.1,619.6 293.1,635.6 278.1,628.6" fill="#440154" />
<polygon points="329.1,674.6 355.1,662.6 369.1,685.6 329.1,685.6" fill="#46085c" />
</g>
<g filter="url(#blur15)">
<polygon points="299.1,578.6 321.1,570.6 367.1,604.6 365.1,624.6 343.1,632.6 299.1,604.6" fill="#2a9a89" />
<polygon points="304.1,582.6 321.1,575.6 361.1,605.6 359.1,620.6 343.1,626.6 305.1,601.6" fill="#52c569" />
<polygon points="310.1,586.6 321.1,581.6 355.1,606.6 353.1,616.6 342.1,620.6 311.1,599.6" fill="#fde725" />
</g>
</g>
<rect x="279.45" y="556.80" width="99.41" height="99.41" fill="none" stroke="#ff0000" stroke-width="1.2" />
<text x="325.41" y="547.34" font-family="'Liberation Sans', sans-serif" font-size="10.60" fill="#ff0000" stroke="#ff0000" stroke-width="0.120" text-anchor="start" textLength="7.48" lengthAdjust="spacingAndGlyphs" style="white-space:pre" >N</text>
<text x="262.05" y="611.10" font-family="'Liberation Sans', sans-serif" font-size="10.60" fill="#ff0000" stroke="#ff0000" stroke-width="0.120" text-anchor="start" textLength="6.32" lengthAdjust="spacingAndGlyphs" style="white-space:pre" >E</text>
<line x1="291.54" y1="606.50" x2="320.97" y2="606.50" stroke="#ff0000" stroke-width="1.3" />
<line x1="337.32" y1="606.50" x2="366.75" y2="606.50" stroke="#ff0000" stroke-width="1.3" />
<line x1="329.15" y1="568.89" x2="329.15" y2="598.33" stroke="#ff0000" stroke-width="1.3" />
<line x1="329.15" y1="614.67" x2="329.15" y2="644.11" stroke="#ff0000" stroke-width="1.3" />
<rect x="255.05" y="532.60" width="148.20" height="148.20" fill="none" stroke="#222" stroke-width="1" />
<line x1="263.75" y1="680.80" x2="263.75" y2="684.30" stroke="#222" stroke-width="0.8" />
<line x1="251.55" y1="671.90" x2="255.05" y2="671.90" stroke="#222" stroke-width="0.8" />
<text x="255.44" y="695.80" font-family="'Liberation Sans', sans-serif" font-size="11.55" fill="#000" stroke="#000" stroke-width="0.131" text-anchor="start" textLength="16.07" lengthAdjust="spacingAndGlyphs" style="white-space:pre" >−4</text>
<text x="233.09" y="675.80" font-family="'Liberation Sans', sans-serif" font-size="11.55" fill="#000" stroke="#000" stroke-width="0.131" text-anchor="start" textLength="16.07" lengthAdjust="spacingAndGlyphs" style="white-space:pre" >−4</text>
<line x1="296.45" y1="680.80" x2="296.45" y2="684.30" stroke="#222" stroke-width="0.8" />
<line x1="251.55" y1="639.20" x2="255.05" y2="639.20" stroke="#222" stroke-width="0.8" />
<text x="288.38" y="695.80" font-family="'Liberation Sans', sans-serif" font-size="11.55" fill="#000" stroke="#000" stroke-width="0.131" text-anchor="start" textLength="16.07" lengthAdjust="spacingAndGlyphs" style="white-space:pre" >−2</text>
<text x="233.57" y="643.10" font-family="'Liberation Sans', sans-serif" font-size="11.55" fill="#000" stroke="#000" stroke-width="0.131" text-anchor="start" textLength="16.07" lengthAdjust="spacingAndGlyphs" style="white-space:pre" >−2</text>
<line x1="329.15" y1="680.80" x2="329.15" y2="684.30" stroke="#222" stroke-width="0.8" />
<line x1="251.55" y1="606.50" x2="255.05" y2="606.50" stroke="#222" stroke-width="0.8" />
<text x="325.69" y="695.80" font-family="'Liberation Sans', sans-serif" font-size="11.55" fill="#000" stroke="#000" stroke-width="0.131" text-anchor="start" textLength="6.93" lengthAdjust="spacingAndGlyphs" style="white-space:pre" >0</text>
<text x="242.34" y="610.40" font-family="'Liberation Sans', sans-serif" font-size="11.55" fill="#000" stroke="#000" stroke-width="0.131" text-anchor="start" textLength="6.93" lengthAdjust="spacingAndGlyphs" style="white-space:pre" >0</text>
<line x1="361.85" y1="680.80" x2="361.85" y2="684.30" stroke="#222" stroke-width="0.8" />
<line x1="251.55" y1="573.80" x2="255.05" y2="573.80" stroke="#222" stroke-width="0.8" />
<text x="358.53" y="695.80" font-family="'Liberation Sans', sans-serif" font-size="11.55" fill="#000" stroke="#000" stroke-width="0.131" text-anchor="start" textLength="6.93" lengthAdjust="spacingAndGlyphs" style="white-space:pre" >2</text>
<text x="242.71" y="577.70" font-family="'Liberation Sans', sans-serif" font-size="11.55" fill="#000" stroke="#000" stroke-width="0.131" text-anchor="start" textLength="6.93" lengthAdjust="spacingAndGlyphs" style="white-space:pre" >2</text>
<line x1="394.55" y1="680.80" x2="394.55" y2="684.30" stroke="#222" stroke-width="0.8" />
<line x1="251.55" y1="541.10" x2="255.05" y2="541.10" stroke="#222" stroke-width="0.8" />
<text x="391.12" y="695.80" font-family="'Liberation Sans', sans-serif" font-size="11.55" fill="#000" stroke="#000" stroke-width="0.131" text-anchor="start" textLength="6.93" lengthAdjust="spacingAndGlyphs" style="white-space:pre" >4</text>
<text x="242.23" y="545.00" font-family="'Liberation Sans', sans-serif" font-size="11.55" fill="#000" stroke="#000" stroke-width="0.131" text-anchor="start" textLength="6.93" lengthAdjust="spacingAndGlyphs" style="white-space:pre" >4</text>
<text x="287.80" y="525.60" font-family="'Liberation Sans', sans-serif" font-size="13.67" fill="#000" stroke="#000" stroke-width="0.155" text-anchor="start" textLength="82.14" lengthAdjust="spacingAndGlyphs" style="white-space:pre" >Lineflux Map</text>
<text x="278.36" y="706.50" font-family="'Liberation Sans', sans-serif" font-size="11.45" fill="#000" stroke="#000" stroke-width="0.130" text-anchor="start" textLength="101.61" lengthAdjust="spacingAndGlyphs" style="white-space:pre" >s/b: 3.20 +/- 0.084</text>
<clipPath id="cp2"><rect x="440.30" y="532.6" width="148.2" height="148.2"/></clipPath>
<g clip-path="url(#cp2)">
<rect x="380.30" y="472.6" width="268.2" height="268.2" fill="url(#tA)" transform="translate(14.6,6.2)"/>
<ellipse cx="509.5" cy="600.8" rx="16" ry="22" fill="url(#gal)" transform="rotate(-25 509.5 600.8)"/>
<ellipse cx="535.7" cy="642.5" rx="8" ry="7.5" fill="url(#gal2)" opacity="0.8"/>
</g>
<rect x="464.70" y="556.80" width="99.41" height="99.41" fill="none" stroke="#ff0000" stroke-width="1.2" />
<text x="510.66" y="547.34" font-family="'Liberation Sans', sans-serif" font-size="10.60" fill="#ff0000" stroke="#ff0000" stroke-width="0.120" text-anchor="start" textLength="7.48" lengthAdjust="spacingAndGlyphs" style="white-space:pre" >N</text>
<text x="447.30" y="611.10" font-family="'Liberation Sans', sans-serif" font-size="10.60" fill="#ff0000" stroke="#ff0000" stroke-width="0.120" text-anchor="start" textLength="6.32" lengthAdjust="spacingAndGlyphs" style="white-space:pre" >E</text>
<line x1="476.79" y1="606.50" x2="552.00" y2="606.50" stroke="#ff0000" stroke-width="1.2" />
<line x1="514.40" y1="568.89" x2="514.40" y2="644.11" stroke="#ff0000" stroke-width="1.2" />
<ellipse cx="510.3" cy="599.5" rx="20" ry="31" fill="none" stroke="#f5c400" stroke-width="1.3" transform="rotate(-25 510.3 599.5)"/>
<rect x="505.41" y="593.75" width="13.08" height="12.75" fill="none" stroke="#0000ff" stroke-width="1.2" />
<circle cx="535.7" cy="642.5" r="13.5" fill="none" stroke="#fff" stroke-width="0.9" stroke-dasharray="2.5,1.2" opacity="0.85"/>
<rect x="440.30" y="532.60" width="148.20" height="148.20" fill="none" stroke="#222" stroke-width="1" />
<line x1="449.00" y1="680.80" x2="449.00" y2="684.30" stroke="#222" stroke-width="0.8" />
<line x1="436.80" y1="671.90" x2="440.30" y2="671.90" stroke="#222" stroke-width="0.8" />
<text x="440.69" y="695.80" font-family="'Liberation Sans', sans-serif" font-size="11.55" fill="#000" stroke="#000" stroke-width="0.131" text-anchor="start" textLength="16.07" lengthAdjust="spacingAndGlyphs" style="white-space:pre" >−4</text>
<text x="418.34" y="675.80" font-family="'Liberation Sans', sans-serif" font-size="11.55" fill="#000" stroke="#000" stroke-width="0.131" text-anchor="start" textLength="16.07" lengthAdjust="spacingAndGlyphs" style="white-space:pre" >−4</text>
<line x1="481.70" y1="680.80" x2="481.70" y2="684.30" stroke="#222" stroke-width="0.8" />
<line x1="436.80" y1="639.20" x2="440.30" y2="639.20" stroke="#222" stroke-width="0.8" />
<text x="473.63" y="695.80" font-family="'Liberation Sans', sans-serif" font-size="11.55" fill="#000" stroke="#000" stroke-width="0.131" text-anchor="start" textLength="16.07" lengthAdjust="spacingAndGlyphs" style="white-space:pre" >−2</text>
<text x="418.82" y="643.10" font-family="'Liberation Sans', sans-serif" font-size="11.55" fill="#000" stroke="#000" stroke-width="0.131" text-anchor="start" textLength="16.07" lengthAdjust="spacingAndGlyphs" style="white-space:pre" >−2</text>
<line x1="514.40" y1="680.80" x2="514.40" y2="684.30" stroke="#222" stroke-width="0.8" />
<line x1="436.80" y1="606.50" x2="440.30" y2="606.50" stroke="#222" stroke-width="0.8" />
<text x="510.94" y="695.80" font-family="'Liberation Sans', sans-serif" font-size="11.55" fill="#000" stroke="#000" stroke-width="0.131" text-anchor="start" textLength="6.93" lengthAdjust="spacingAndGlyphs" style="white-space:pre" >0</text>
<text x="427.59" y="610.40" font-family="'Liberation Sans', sans-serif" font-size="11.55" fill="#000" stroke="#000" stroke-width="0.131" text-anchor="start" textLength="6.93" lengthAdjust="spacingAndGlyphs" style="white-space:pre" >0</text>
<line x1="547.10" y1="680.80" x2="547.10" y2="684.30" stroke="#222" stroke-width="0.8" />
<line x1="436.80" y1="573.80" x2="440.30" y2="573.80" stroke="#222" stroke-width="0.8" />
<text x="543.78" y="695.80" font-family="'Liberation Sans', sans-serif" font-size="11.55" fill="#000" stroke="#000" stroke-width="0.131" text-anchor="start" textLength="6.93" lengthAdjust="spacingAndGlyphs" style="white-space:pre" >2</text>
<text x="427.96" y="577.70" font-family="'Liberation Sans', sans-serif" font-size="11.55" fill="#000" stroke="#000" stroke-width="0.131" text-anchor="start" textLength="6.93" lengthAdjust="spacingAndGlyphs" style="white-space:pre" >2</text>
<line x1="579.80" y1="680.80" x2="579.80" y2="684.30" stroke="#222" stroke-width="0.8" />
<line x1="436.80" y1="541.10" x2="440.30" y2="541.10" stroke="#222" stroke-width="0.8" />
<text x="576.37" y="695.80" font-family="'Liberation Sans', sans-serif" font-size="11.55" fill="#000" stroke="#000" stroke-width="0.131" text-anchor="start" textLength="6.93" lengthAdjust="spacingAndGlyphs" style="white-space:pre" >4</text>
<text x="427.48" y="545.00" font-family="'Liberation Sans', sans-serif" font-size="11.55" fill="#000" stroke="#000" stroke-width="0.131" text-anchor="start" textLength="6.93" lengthAdjust="spacingAndGlyphs" style="white-space:pre" >4</text>
<text x="461.24" y="525.60" font-family="'Liberation Sans', sans-serif" font-size="13.67" fill="#000" stroke="#000" stroke-width="0.155" text-anchor="start" textLength="106.23" lengthAdjust="spacingAndGlyphs" style="white-space:pre" >HSC SSP(26.8) g</text>
<text x="454.32" y="706.50" font-family="'Liberation Sans', sans-serif" font-size="11.45" fill="#000" stroke="#000" stroke-width="0.130" text-anchor="start" textLength="120.21" lengthAdjust="spacingAndGlyphs" style="white-space:pre" >m:22.3  re:1.6"  s:0.5"</text>
<text x="460.43" y="718.90" font-family="'Liberation Sans', sans-serif" font-size="11.45" fill="#000" stroke="#000" stroke-width="0.130" text-anchor="start" textLength="107.48" lengthAdjust="spacingAndGlyphs" style="white-space:pre" >EWr: 4, PLAE: 0.024</text>
<clipPath id="cp3"><rect x="625.55" y="532.6" width="148.2" height="148.2"/></clipPath>
<g clip-path="url(#cp3)">
<rect x="565.55" y="472.6" width="268.2" height="268.2" fill="url(#tB)" transform="translate(21.9,9.3)"/>
<ellipse cx="694.7" cy="600.8" rx="17" ry="23" fill="url(#gal)" transform="rotate(-30 694.7 600.8)"/>
<ellipse cx="720.9" cy="642.5" rx="8" ry="7.5" fill="url(#gal2)" opacity="0.8"/>
</g>
<rect x="649.95" y="556.80" width="99.41" height="99.41" fill="none" stroke="#ff0000" stroke-width="1.2" />
<text x="695.91" y="547.34" font-family="'Liberation Sans', sans-serif" font-size="10.60" fill="#ff0000" stroke="#ff0000" stroke-width="0.120" text-anchor="start" textLength="7.48" lengthAdjust="spacingAndGlyphs" style="white-space:pre" >N</text>
<text x="632.55" y="611.10" font-family="'Liberation Sans', sans-serif" font-size="10.60" fill="#ff0000" stroke="#ff0000" stroke-width="0.120" text-anchor="start" textLength="6.32" lengthAdjust="spacingAndGlyphs" style="white-space:pre" >E</text>
<line x1="662.04" y1="606.50" x2="737.25" y2="606.50" stroke="#ff0000" stroke-width="1.2" />
<line x1="699.65" y1="568.89" x2="699.65" y2="644.11" stroke="#ff0000" stroke-width="1.2" />
<ellipse cx="695.6" cy="599.5" rx="20" ry="33" fill="none" stroke="#f5c400" stroke-width="1.3" transform="rotate(-28 695.6 599.5)"/>
<rect x="690.66" y="593.75" width="13.08" height="12.75" fill="none" stroke="#0000ff" stroke-width="1.2" />
<circle cx="720.9" cy="642.5" r="13.5" fill="none" stroke="#fff" stroke-width="0.9" stroke-dasharray="2.5,1.2" opacity="0.85"/>
<rect x="625.55" y="532.60" width="148.20" height="148.20" fill="none" stroke="#222" stroke-width="1" />
<line x1="634.25" y1="680.80" x2="634.25" y2="684.30" stroke="#222" stroke-width="0.8" />
<line x1="622.05" y1="671.90" x2="625.55" y2="671.90" stroke="#222" stroke-width="0.8" />
<text x="625.94" y="695.80" font-family="'Liberation Sans', sans-serif" font-size="11.55" fill="#000" stroke="#000" stroke-width="0.131" text-anchor="start" textLength="16.07" lengthAdjust="spacingAndGlyphs" style="white-space:pre" >−4</text>
<text x="603.59" y="675.80" font-family="'Liberation Sans', sans-serif" font-size="11.55" fill="#000" stroke="#000" stroke-width="0.131" text-anchor="start" textLength="16.07" lengthAdjust="spacingAndGlyphs" style="white-space:pre" >−4</text>
<line x1="666.95" y1="680.80" x2="666.95" y2="684.30" stroke="#222" stroke-width="0.8" />
<line x1="622.05" y1="639.20" x2="625.55" y2="639.20" stroke="#222" stroke-width="0.8" />
<text x="658.88" y="695.80" font-family="'Liberation Sans', sans-serif" font-size="11.55" fill="#000" stroke="#000" stroke-width="0.131" text-anchor="start" textLength="16.07" lengthAdjust="spacingAndGlyphs" style="white-space:pre" >−2</text>
<text x="604.07" y="643.10" font-family="'Liberation Sans', sans-serif" font-size="11.55" fill="#000" stroke="#000" stroke-width="0.131" text-anchor="start" textLength="16.07" lengthAdjust="spacingAndGlyphs" style="white-space:pre" >−2</text>
<line x1="699.65" y1="680.80" x2="699.65" y2="684.30" stroke="#222" stroke-width="0.8" />
<line x1="622.05" y1="606.50" x2="625.55" y2="606.50" stroke="#222" stroke-width="0.8" />
<text x="696.19" y="695.80" font-family="'Liberation Sans', sans-serif" font-size="11.55" fill="#000" stroke="#000" stroke-width="0.131" text-anchor="start" textLength="6.93" lengthAdjust="spacingAndGlyphs" style="white-space:pre" >0</text>
<text x="612.84" y="610.40" font-family="'Liberation Sans', sans-serif" font-size="11.55" fill="#000" stroke="#000" stroke-width="0.131" text-anchor="start" textLength="6.93" lengthAdjust="spacingAndGlyphs" style="white-space:pre" >0</text>
<line x1="732.35" y1="680.80" x2="732.35" y2="684.30" stroke="#222" stroke-width="0.8" />
<line x1="622.05" y1="573.80" x2="625.55" y2="573.80" stroke="#222" stroke-width="0.8" />
<text x="729.03" y="695.80" font-family="'Liberation Sans', sans-serif" font-size="11.55" fill="#000" stroke="#000" stroke-width="0.131" text-anchor="start" textLength="6.93" lengthAdjust="spacingAndGlyphs" style="white-space:pre" >2</text>
<text x="613.21" y="577.70" font-family="'Liberation Sans', sans-serif" font-size="11.55" fill="#000" stroke="#000" stroke-width="0.131" text-anchor="start" textLength="6.93" lengthAdjust="spacingAndGlyphs" style="white-space:pre" >2</text>
<line x1="765.05" y1="680.80" x2="765.05" y2="684.30" stroke="#222" stroke-width="0.8" />
<line x1="622.05" y1="541.10" x2="625.55" y2="541.10" stroke="#222" stroke-width="0.8" />
<text x="761.62" y="695.80" font-family="'Liberation Sans', sans-serif" font-size="11.55" fill="#000" stroke="#000" stroke-width="0.131" text-anchor="start" textLength="6.93" lengthAdjust="spacingAndGlyphs" style="white-space:pre" >4</text>
<text x="612.73" y="545.00" font-family="'Liberation Sans', sans-serif" font-size="11.55" fill="#000" stroke="#000" stroke-width="0.131" text-anchor="start" textLength="6.93" lengthAdjust="spacingAndGlyphs" style="white-space:pre" >4</text>
<text x="647.34" y="525.60" font-family="'Liberation Sans', sans-serif" font-size="13.67" fill="#000" stroke="#000" stroke-width="0.155" text-anchor="start" textLength="103.34" lengthAdjust="spacingAndGlyphs" style="white-space:pre" >HSC SSP(26.4) r</text>
<text x="639.57" y="706.50" font-family="'Liberation Sans', sans-serif" font-size="11.45" fill="#000" stroke="#000" stroke-width="0.130" text-anchor="start" textLength="120.21" lengthAdjust="spacingAndGlyphs" style="white-space:pre" >m:21.3  re:1.6"  s:0.5"</text>
<text x="649.35" y="718.90" font-family="'Liberation Sans', sans-serif" font-size="11.45" fill="#000" stroke="#000" stroke-width="0.130" text-anchor="start" textLength="100.61" lengthAdjust="spacingAndGlyphs" style="white-space:pre" >EWr: 3, PLAE: 0.02</text>
<clipPath id="cp4"><rect x="810.80" y="532.6" width="148.2" height="148.2"/></clipPath>
<g clip-path="url(#cp4)">
<rect x="750.80" y="472.6" width="268.2" height="268.2" fill="url(#tB)" transform="translate(29.2,12.4)"/>
<ellipse cx="880.0" cy="600.8" rx="15" ry="20" fill="url(#gal)" transform="rotate(-25 880.0 600.8)"/>
<ellipse cx="906.2" cy="642.5" rx="8" ry="7.5" fill="url(#gal2)" opacity="1.0"/>
</g>
<rect x="835.20" y="556.80" width="99.41" height="99.41" fill="none" stroke="#ff0000" stroke-width="1.2" />
<text x="881.16" y="547.34" font-family="'Liberation Sans', sans-serif" font-size="10.60" fill="#ff0000" stroke="#ff0000" stroke-width="0.120" text-anchor="start" textLength="7.48" lengthAdjust="spacingAndGlyphs" style="white-space:pre" >N</text>
<text x="817.80" y="611.10" font-family="'Liberation Sans', sans-serif" font-size="10.60" fill="#ff0000" stroke="#ff0000" stroke-width="0.120" text-anchor="start" textLength="6.32" lengthAdjust="spacingAndGlyphs" style="white-space:pre" >E</text>
<line x1="847.29" y1="606.50" x2="922.50" y2="606.50" stroke="#ff0000" stroke-width="1.2" />
<line x1="884.90" y1="568.89" x2="884.90" y2="644.11" stroke="#ff0000" stroke-width="1.2" />
<ellipse cx="880.8" cy="599.5" rx="21" ry="30" fill="none" stroke="#f5c400" stroke-width="1.3" transform="rotate(-25 880.8 599.5)"/>
<rect x="875.91" y="593.75" width="13.08" height="12.75" fill="none" stroke="#0000ff" stroke-width="1.2" />
<circle cx="906.2" cy="642.5" r="13.5" fill="none" stroke="#fff" stroke-width="0.9" stroke-dasharray="2.5,1.2" opacity="0.85"/>
<rect x="810.80" y="532.60" width="148.20" height="148.20" fill="none" stroke="#222" stroke-width="1" />
<line x1="819.50" y1="680.80" x2="819.50" y2="684.30" stroke="#222" stroke-width="0.8" />
<line x1="807.30" y1="671.90" x2="810.80" y2="671.90" stroke="#222" stroke-width="0.8" />
<text x="811.19" y="695.80" font-family="'Liberation Sans', sans-serif" font-size="11.55" fill="#000" stroke="#000" stroke-width="0.131" text-anchor="start" textLength="16.07" lengthAdjust="spacingAndGlyphs" style="white-space:pre" >−4</text>
<text x="788.84" y="675.80" font-family="'Liberation Sans', sans-serif" font-size="11.55" fill="#000" stroke="#000" stroke-width="0.131" text-anchor="start" textLength="16.07" lengthAdjust="spacingAndGlyphs" style="white-space:pre" >−4</text>
<line x1="852.20" y1="680.80" x2="852.20" y2="684.30" stroke="#222" stroke-width="0.8" />
<line x1="807.30" y1="639.20" x2="810.80" y2="639.20" stroke="#222" stroke-width="0.8" />
<text x="844.13" y="695.80" font-family="'Liberation Sans', sans-serif" font-size="11.55" fill="#000" stroke="#000" stroke-width="0.131" text-anchor="start" textLength="16.07" lengthAdjust="spacingAndGlyphs" style="white-space:pre" >−2</text>
<text x="789.32" y="643.10" font-family="'Liberation Sans', sans-serif" font-size="11.55" fill="#000" stroke="#000" stroke-width="0.131" text-anchor="start" textLength="16.07" lengthAdjust="spacingAndGlyphs" style="white-space:pre" >−2</text>
<line x1="884.90" y1="680.80" x2="884.90" y2="684.30" stroke="#222" stroke-width="0.8" />
<line x1="807.30" y1="606.50" x2="810.80" y2="606.50" stroke="#222" stroke-width="0.8" />
<text x="881.44" y="695.80" font-family="'Liberation Sans', sans-serif" font-size="11.55" fill="#000" stroke="#000" stroke-width="0.131" text-anchor="start" textLength="6.93" lengthAdjust="spacingAndGlyphs" style="white-space:pre" >0</text>
<text x="798.09" y="610.40" font-family="'Liberation Sans', sans-serif" font-size="11.55" fill="#000" stroke="#000" stroke-width="0.131" text-anchor="start" textLength="6.93" lengthAdjust="spacingAndGlyphs" style="white-space:pre" >0</text>
<line x1="917.60" y1="680.80" x2="917.60" y2="684.30" stroke="#222" stroke-width="0.8" />
<line x1="807.30" y1="573.80" x2="810.80" y2="573.80" stroke="#222" stroke-width="0.8" />
<text x="914.28" y="695.80" font-family="'Liberation Sans', sans-serif" font-size="11.55" fill="#000" stroke="#000" stroke-width="0.131" text-anchor="start" textLength="6.93" lengthAdjust="spacingAndGlyphs" style="white-space:pre" >2</text>
<text x="798.46" y="577.70" font-family="'Liberation Sans', sans-serif" font-size="11.55" fill="#000" stroke="#000" stroke-width="0.131" text-anchor="start" textLength="6.93" lengthAdjust="spacingAndGlyphs" style="white-space:pre" >2</text>
<line x1="950.30" y1="680.80" x2="950.30" y2="684.30" stroke="#222" stroke-width="0.8" />
<line x1="807.30" y1="541.10" x2="810.80" y2="541.10" stroke="#222" stroke-width="0.8" />
<text x="946.87" y="695.80" font-family="'Liberation Sans', sans-serif" font-size="11.55" fill="#000" stroke="#000" stroke-width="0.131" text-anchor="start" textLength="6.93" lengthAdjust="spacingAndGlyphs" style="white-space:pre" >4</text>
<text x="797.98" y="545.00" font-family="'Liberation Sans', sans-serif" font-size="11.55" fill="#000" stroke="#000" stroke-width="0.131" text-anchor="start" textLength="6.93" lengthAdjust="spacingAndGlyphs" style="white-space:pre" >4</text>
<text x="834.06" y="525.60" font-family="'Liberation Sans', sans-serif" font-size="13.67" fill="#000" stroke="#000" stroke-width="0.155" text-anchor="start" textLength="101.63" lengthAdjust="spacingAndGlyphs" style="white-space:pre" >HSC SSP(26.4) i</text>
<text x="824.82" y="706.50" font-family="'Liberation Sans', sans-serif" font-size="11.45" fill="#000" stroke="#000" stroke-width="0.130" text-anchor="start" textLength="120.21" lengthAdjust="spacingAndGlyphs" style="white-space:pre" >m:21.0  re:1.6"  s:0.6"</text>
<clipPath id="cp5"><rect x="996.05" y="532.6" width="148.2" height="148.2"/></clipPath>
<g clip-path="url(#cp5)">
<rect x="936.05" y="472.6" width="268.2" height="268.2" fill="url(#tA)" transform="translate(36.5,15.5)"/>
<ellipse cx="1065.2" cy="600.8" rx="16" ry="20" fill="url(#gal)" transform="rotate(-20 1065.2 600.8)"/>
<ellipse cx="1091.4" cy="642.5" rx="8" ry="7.5" fill="url(#gal2)" opacity="0.6"/>
</g>
<rect x="1020.45" y="556.80" width="99.41" height="99.41" fill="none" stroke="#ff0000" stroke-width="1.2" />
<text x="1066.41" y="547.34" font-family="'Liberation Sans', sans-serif" font-size="10.60" fill="#ff0000" stroke="#ff0000" stroke-width="0.120" text-anchor="start" textLength="7.48" lengthAdjust="spacingAndGlyphs" style="white-space:pre" >N</text>
<text x="1003.05" y="611.10" font-family="'Liberation Sans', sans-serif" font-size="10.60" fill="#ff0000" stroke="#ff0000" stroke-width="0.120" text-anchor="start" textLength="6.32" lengthAdjust="spacingAndGlyphs" style="white-space:pre" >E</text>
<line x1="1032.54" y1="606.50" x2="1107.75" y2="606.50" stroke="#ff0000" stroke-width="1.2" />
<line x1="1070.15" y1="568.89" x2="1070.15" y2="644.11" stroke="#ff0000" stroke-width="1.2" />
<ellipse cx="1066.1" cy="599.5" rx="22" ry="29" fill="none" stroke="#f5c400" stroke-width="1.3" transform="rotate(-22 1066.1 599.5)"/>
<rect x="1061.16" y="593.75" width="13.08" height="12.75" fill="none" stroke="#0000ff" stroke-width="1.2" />
<circle cx="1091.4" cy="642.5" r="13.5" fill="none" stroke="#fff" stroke-width="0.9" stroke-dasharray="2.5,1.2" opacity="0.85"/>
<rect x="996.05" y="532.60" width="148.20" height="148.20" fill="none" stroke="#222" stroke-width="1" />
<line x1="1004.75" y1="680.80" x2="1004.75" y2="684.30" stroke="#222" stroke-width="0.8" />
<line x1="992.55" y1="671.90" x2="996.05" y2="671.90" stroke="#222" stroke-width="0.8" />
<text x="996.44" y="695.80" font-family="'Liberation Sans', sans-serif" font-size="11.55" fill="#000" stroke="#000" stroke-width="0.131" text-anchor="start" textLength="16.07" lengthAdjust="spacingAndGlyphs" style="white-space:pre" >−4</text>
<text x="974.09" y="675.80" font-family="'Liberation Sans', sans-serif" font-size="11.55" fill="#000" stroke="#000" stroke-width="0.131" text-anchor="start" textLength="16.07" lengthAdjust="spacingAndGlyphs" style="white-space:pre" >−4</text>
<line x1="1037.45" y1="680.80" x2="1037.45" y2="684.30" stroke="#222" stroke-width="0.8" />
<line x1="992.55" y1="639.20" x2="996.05" y2="639.20" stroke="#222" stroke-width="0.8" />
<text x="1029.38" y="695.80" font-family="'Liberation Sans', sans-serif" font-size="11.55" fill="#000" stroke="#000" stroke-width="0.131" text-anchor="start" textLength="16.07" lengthAdjust="spacingAndGlyphs" style="white-space:pre" >−2</text>
<text x="974.57" y="643.10" font-family="'Liberation Sans', sans-serif" font-size="11.55" fill="#000" stroke="#000" stroke-width="0.131" text-anchor="start" textLength="16.07" lengthAdjust="spacingAndGlyphs" style="white-space:pre" >−2</text>
<line x1="1070.15" y1="680.80" x2="1070.15" y2="684.30" stroke="#222" stroke-width="0.8" />
<line x1="992.55" y1="606.50" x2="996.05" y2="606.50" stroke="#222" stroke-width="0.8" />
<text x="1066.69" y="695.80" font-family="'Liberation Sans', sans-serif" font-size="11.55" fill="#000" stroke="#000" stroke-width="0.131" text-anchor="start" textLength="6.93" lengthAdjust="spacingAndGlyphs" style="white-space:pre" >0</text>
<text x="983.34" y="610.40" font-family="'Liberation Sans', sans-serif" font-size="11.55" fill="#000" stroke="#000" stroke-width="0.131" text-anchor="start" textLength="6.93" lengthAdjust="spacingAndGlyphs" style="white-space:pre" >0</text>
<line x1="1102.85" y1="680.80" x2="1102.85" y2="684.30" stroke="#222" stroke-width="0.8" />
<line x1="992.55" y1="573.80" x2="996.05" y2="573.80" stroke="#222" stroke-width="0.8" />
<text x="1099.53" y="695.80" font-family="'Liberation Sans', sans-serif" font-size="11.55" fill="#000" stroke="#000" stroke-width="0.131" text-anchor="start" textLength="6.93" lengthAdjust="spacingAndGlyphs" style="white-space:pre" >2</text>
<text x="983.71" y="577.70" font-family="'Liberation Sans', sans-serif" font-size="11.55" fill="#000" stroke="#000" stroke-width="0.131" text-anchor="start" textLength="6.93" lengthAdjust="spacingAndGlyphs" style="white-space:pre" >2</text>
<line x1="1135.55" y1="680.80" x2="1135.55" y2="684.30" stroke="#222" stroke-width="0.8" />
<line x1="992.55" y1="541.10" x2="996.05" y2="541.10" stroke="#222" stroke-width="0.8" />
<text x="1132.12" y="695.80" font-family="'Liberation Sans', sans-serif" font-size="11.55" fill="#000" stroke="#000" stroke-width="0.131" text-anchor="start" textLength="6.93" lengthAdjust="spacingAndGlyphs" style="white-space:pre" >4</text>
<text x="983.23" y="545.00" font-family="'Liberation Sans', sans-serif" font-size="11.55" fill="#000" stroke="#000" stroke-width="0.131" text-anchor="start" textLength="6.93" lengthAdjust="spacingAndGlyphs" style="white-space:pre" >4</text>
<text x="1017.39" y="525.60" font-family="'Liberation Sans', sans-serif" font-size="13.67" fill="#000" stroke="#000" stroke-width="0.155" text-anchor="start" textLength="104.81" lengthAdjust="spacingAndGlyphs" style="white-space:pre" >HSC SSP(25.5) z</text>
<text x="1010.07" y="706.50" font-family="'Liberation Sans', sans-serif" font-size="11.45" fill="#000" stroke="#000" stroke-width="0.130" text-anchor="start" textLength="120.21" lengthAdjust="spacingAndGlyphs" style="white-space:pre" >m:20.8  re:1.7"  s:0.6"</text>
<clipPath id="cp6"><rect x="1181.30" y="532.6" width="148.2" height="148.2"/></clipPath>
<g clip-path="url(#cp6)">
<rect x="1121.30" y="472.6" width="268.2" height="268.2" fill="url(#tD)" transform="translate(43.8,18.6)"/>
<ellipse cx="1250.5" cy="600.8" rx="16" ry="20" fill="url(#gal)" transform="rotate(-15 1250.5 600.8)"/>
<ellipse cx="1276.7" cy="642.5" rx="8" ry="7.5" fill="url(#gal2)" opacity="0.55"/>
</g>
<rect x="1205.70" y="556.80" width="99.41" height="99.41" fill="none" stroke="#ff0000" stroke-width="1.2" />
<text x="1251.66" y="547.34" font-family="'Liberation Sans', sans-serif" font-size="10.60" fill="#ff0000" stroke="#ff0000" stroke-width="0.120" text-anchor="start" textLength="7.48" lengthAdjust="spacingAndGlyphs" style="white-space:pre" >N</text>
<text x="1188.30" y="611.10" font-family="'Liberation Sans', sans-serif" font-size="10.60" fill="#ff0000" stroke="#ff0000" stroke-width="0.120" text-anchor="start" textLength="6.32" lengthAdjust="spacingAndGlyphs" style="white-space:pre" >E</text>
<line x1="1217.79" y1="606.50" x2="1293.00" y2="606.50" stroke="#ff0000" stroke-width="1.2" />
<line x1="1255.40" y1="568.89" x2="1255.40" y2="644.11" stroke="#ff0000" stroke-width="1.2" />
<ellipse cx="1251.3" cy="599.5" rx="22" ry="28.5" fill="none" stroke="#f5c400" stroke-width="1.3" transform="rotate(-18 1251.3 599.5)"/>
<rect x="1246.41" y="593.75" width="13.08" height="12.75" fill="none" stroke="#0000ff" stroke-width="1.2" />
<circle cx="1276.7" cy="642.5" r="13.5" fill="none" stroke="#fff" stroke-width="0.9" stroke-dasharray="2.5,1.2" opacity="0.85"/>
<rect x="1181.30" y="532.60" width="148.20" height="148.20" fill="none" stroke="#222" stroke-width="1" />
<line x1="1190.00" y1="680.80" x2="1190.00" y2="684.30" stroke="#222" stroke-width="0.8" />
<line x1="1177.80" y1="671.90" x2="1181.30" y2="671.90" stroke="#222" stroke-width="0.8" />
<text x="1181.69" y="695.80" font-family="'Liberation Sans', sans-serif" font-size="11.55" fill="#000" stroke="#000" stroke-width="0.131" text-anchor="start" textLength="16.07" lengthAdjust="spacingAndGlyphs" style="white-space:pre" >−4</text>
<text x="1159.34" y="675.80" font-family="'Liberation Sans', sans-serif" font-size="11.55" fill="#000" stroke="#000" stroke-width="0.131" text-anchor="start" textLength="16.07" lengthAdjust="spacingAndGlyphs" style="white-space:pre" >−4</text>
<line x1="1222.70" y1="680.80" x2="1222.70" y2="684.30" stroke="#222" stroke-width="0.8" />
<line x1="1177.80" y1="639.20" x2="1181.30" y2="639.20" stroke="#222" stroke-width="0.8" />
<text x="1214.63" y="695.80" font-family="'Liberation Sans', sans-serif" font-size="11.55" fill="#000" stroke="#000" stroke-width="0.131" text-anchor="start" textLength="16.07" lengthAdjust="spacingAndGlyphs" style="white-space:pre" >−2</text>
<text x="1159.82" y="643.10" font-family="'Liberation Sans', sans-serif" font-size="11.55" fill="#000" stroke="#000" stroke-width="0.131" text-anchor="start" textLength="16.07" lengthAdjust="spacingAndGlyphs" style="white-space:pre" >−2</text>
<line x1="1255.40" y1="680.80" x2="1255.40" y2="684.30" stroke="#222" stroke-width="0.8" />
<line x1="1177.80" y1="606.50" x2="1181.30" y2="606.50" stroke="#222" stroke-width="0.8" />
<text x="1251.94" y="695.80" font-family="'Liberation Sans', sans-serif" font-size="11.55" fill="#000" stroke="#000" stroke-width="0.131" text-anchor="start" textLength="6.93" lengthAdjust="spacingAndGlyphs" style="white-space:pre" >0</text>
<text x="1168.59" y="610.40" font-family="'Liberation Sans', sans-serif" font-size="11.55" fill="#000" stroke="#000" stroke-width="0.131" text-anchor="start" textLength="6.93" lengthAdjust="spacingAndGlyphs" style="white-space:pre" >0</text>
<line x1="1288.10" y1="680.80" x2="1288.10" y2="684.30" stroke="#222" stroke-width="0.8" />
<line x1="1177.80" y1="573.80" x2="1181.30" y2="573.80" stroke="#222" stroke-width="0.8" />
<text x="1284.78" y="695.80" font-family="'Liberation Sans', sans-serif" font-size="11.55" fill="#000" stroke="#000" stroke-width="0.131" text-anchor="start" textLength="6.93" lengthAdjust="spacingAndGlyphs" style="white-space:pre" >2</text>
<text x="1168.96" y="577.70" font-family="'Liberation Sans', sans-serif" font-size="11.55" fill="#000" stroke="#000" stroke-width="0.131" text-anchor="start" textLength="6.93" lengthAdjust="spacingAndGlyphs" style="white-space:pre" >2</text>
<line x1="1320.80" y1="680.80" x2="1320.80" y2="684.30" stroke="#222" stroke-width="0.8" />
<line x1="1177.80" y1="541.10" x2="1181.30" y2="541.10" stroke="#222" stroke-width="0.8" />
<text x="1317.37" y="695.80" font-family="'Liberation Sans', sans-serif" font-size="11.55" fill="#000" stroke="#000" stroke-width="0.131" text-anchor="start" textLength="6.93" lengthAdjust="spacingAndGlyphs" style="white-space:pre" >4</text>
<text x="1168.48" y="545.00" font-family="'Liberation Sans', sans-serif" font-size="11.55" fill="#000" stroke="#000" stroke-width="0.131" text-anchor="start" textLength="6.93" lengthAdjust="spacingAndGlyphs" style="white-space:pre" >4</text>
<text x="1202.12" y="525.60" font-family="'Liberation Sans', sans-serif" font-size="13.67" fill="#000" stroke="#000" stroke-width="0.155" text-anchor="start" textLength="105.68" lengthAdjust="spacingAndGlyphs" style="white-space:pre" >HSC SSP(24.7) y</text>
<text x="1195.32" y="706.50" font-family="'Liberation Sans', sans-serif" font-size="11.45" fill="#000" stroke="#000" stroke-width="0.130" text-anchor="start" textLength="120.21" lengthAdjust="spacingAndGlyphs" style="white-space:pre" >m:20.6  re:1.5"  s:0.6"</text>
<text x="69.72" y="785.70" font-family="'Liberation Mono', monospace" font-size="13.65" fill="#000" stroke="#000" stroke-width="0.25" text-anchor="start" textLength="78.27" lengthAdjust="spacingAndGlyphs" style="white-space:pre" >Separation</text>
<text x="70.05" y="800.40" font-family="'Liberation Mono', monospace" font-size="13.65" fill="#000" stroke="#000" stroke-width="0.25" text-anchor="start" textLength="86.09" lengthAdjust="spacingAndGlyphs" style="white-space:pre" >Match score</text>
<text x="69.69" y="815.70" font-family="'Liberation Mono', monospace" font-size="13.65" fill="#000" stroke="#000" stroke-width="0.25" text-anchor="start" textLength="54.79" lengthAdjust="spacingAndGlyphs" style="white-space:pre" >RA, Dec</text>
<text x="69.72" y="830.00" font-family="'Liberation Mono', monospace" font-size="13.65" fill="#000" stroke="#000" stroke-width="0.25" text-anchor="start" textLength="46.96" lengthAdjust="spacingAndGlyphs" style="white-space:pre" >Spec z</text>
<text x="69.35" y="844.30" font-family="'Liberation Mono', monospace" font-size="13.65" fill="#000" stroke="#000" stroke-width="0.25" text-anchor="start" textLength="54.79" lengthAdjust="spacingAndGlyphs" style="white-space:pre" >Photo z</text>
<text x="69.35" y="859.00" font-family="'Liberation Mono', monospace" font-size="13.65" fill="#000" stroke="#000" stroke-width="0.25" text-anchor="start" textLength="117.40" lengthAdjust="spacingAndGlyphs" style="white-space:pre" >Est LyA rest-EW</text>
<text x="69.91" y="873.00" font-family="'Liberation Mono', monospace" font-size="13.65" fill="#000" stroke="#000" stroke-width="0.25" text-anchor="start" textLength="23.48" lengthAdjust="spacingAndGlyphs" style="white-space:pre" >mag</text>
<text x="69.35" y="888.60" font-family="'Liberation Mono', monospace" font-size="13.65" fill="#000" stroke="#000" stroke-width="0.25" text-anchor="start" textLength="101.75" lengthAdjust="spacingAndGlyphs" style="white-space:pre" >P(LAE)/P(OII)</text>
<text x="285.96" y="778.70" font-family="'Liberation Mono', monospace" font-size="13.65" fill="#0000ff" stroke="#0000ff" stroke-width="0.25" text-anchor="start" textLength="70.44" lengthAdjust="spacingAndGlyphs" style="white-space:pre" >0.429114"</text>
<text x="285.96" y="793.00" font-family="'Liberation Mono', monospace" font-size="13.65" fill="#0000ff" stroke="#0000ff" stroke-width="0.25" text-anchor="start" textLength="39.13" lengthAdjust="spacingAndGlyphs" style="white-space:pre" >0.999</text>
<text x="285.24" y="807.50" font-family="'Liberation Mono', monospace" font-size="13.65" fill="#0000ff" stroke="#0000ff" stroke-width="0.25" text-anchor="start" textLength="156.53" lengthAdjust="spacingAndGlyphs" style="white-space:pre" >17.853650, -0.345220</text>
<text x="285.92" y="822.30" font-family="'Liberation Mono', monospace" font-size="13.65" fill="#0000ff" stroke="#0000ff" stroke-width="0.25" text-anchor="start" textLength="23.48" lengthAdjust="spacingAndGlyphs" style="white-space:pre" >N/A</text>
<text x="285.96" y="837.00" font-family="'Liberation Mono', monospace" font-size="13.65" fill="#0000ff" stroke="#0000ff" stroke-width="0.25" text-anchor="start" textLength="31.31" lengthAdjust="spacingAndGlyphs" style="white-space:pre" >0.43</text>
<text x="285.96" y="853.00" font-family="'Liberation Mono', monospace" font-size="13.65" fill="#0000ff" stroke="#0000ff" stroke-width="0.25" text-anchor="start" textLength="86.09" lengthAdjust="spacingAndGlyphs" style="white-space:pre" >0.28(±0.03)</text>
<text x="374.99" y="853.00" font-family="'Liberation Sans', sans-serif" font-size="13.78" fill="#0000ff" stroke="#0000ff" stroke-width="0.156" text-anchor="start" textLength="8.89" lengthAdjust="spacingAndGlyphs" style="white-space:pre" font-style="italic" >Å</text>
<text x="285.84" y="869.60" font-family="'Liberation Mono', monospace" font-size="13.65" fill="#0000ff" stroke="#0000ff" stroke-width="0.25" text-anchor="start" textLength="148.71" lengthAdjust="spacingAndGlyphs" style="white-space:pre" >22.35(22.34,22.36)g</text>
<text x="285.94" y="884.70" font-family="'Liberation Sans', sans-serif" font-size="13.78" fill="#0000ff" stroke="#0000ff" stroke-width="0.156" text-anchor="start" textLength="37.22" lengthAdjust="spacingAndGlyphs" style="white-space:pre" >0.013</text>
<text x="327.40" y="879.30" font-family="'Liberation Sans', sans-serif" font-size="9.65" fill="#0000ff" stroke="#0000ff" stroke-width="0.109" text-anchor="start" textLength="26.05" lengthAdjust="spacingAndGlyphs" style="white-space:pre" >0.017</text>
<text x="327.40" y="888.00" font-family="'Liberation Sans', sans-serif" font-size="9.65" fill="#0000ff" stroke="#0000ff" stroke-width="0.109" text-anchor="start" textLength="20.26" lengthAdjust="spacingAndGlyphs" style="white-space:pre" >0.01</text>
<text x="1099.47" y="735.70" font-family="'Liberation Sans', sans-serif" font-size="13.78" fill="#000" stroke="#000" stroke-width="0.156" text-anchor="start" textLength="69.54" lengthAdjust="spacingAndGlyphs" style="white-space:pre" >Phot z PDF</text>
<clipPath id="cpz"><rect x="939.3" y="742.4" width="390.70000000000005" height="163.39999999999998"/></clipPath>
<g clip-path="url(#cpz)">
<polyline points="939.3,898.6 951.4,898.2 960.0,898.0 969.5,896.3 974.0,897.6 977.2,898.0 980.0,870.0 983.0,800.0 985.2,750.2 986.5,765.0 987.6,771.9 990.0,774.0 992.4,779.0 994.8,792.4 997.0,840.0 1000.9,895.0 1008.0,898.6 1330.0,898.6" fill="none" stroke="#0000ff" stroke-width="1.6" stroke-linejoin="round"/>
<line x1="988.1" y1="742.4" x2="988.1" y2="905.8" stroke="#008000" stroke-width="1.8" stroke-dasharray="5.6,2.4"/>
<line x1="1313.3" y1="742.4" x2="1313.3" y2="905.8" stroke="#ff0000" stroke-width="1.8" stroke-dasharray="5.6,2.4"/>
</g>
<rect x="939.30" y="742.40" width="390.70" height="163.40" fill="none" stroke="#333" stroke-width="1" />
<line x1="939.30" y1="905.80" x2="939.30" y2="909.30" stroke="#333" stroke-width="0.8" />
<text x="930.56" y="920.80" font-family="'Liberation Sans', sans-serif" font-size="11.66" fill="#000" stroke="#000" stroke-width="0.132" text-anchor="start" textLength="17.49" lengthAdjust="spacingAndGlyphs" style="white-space:pre" >0.0</text>
<line x1="993.50" y1="905.80" x2="993.50" y2="909.30" stroke="#333" stroke-width="0.8" />
<text x="984.87" y="920.80" font-family="'Liberation Sans', sans-serif" font-size="11.66" fill="#000" stroke="#000" stroke-width="0.132" text-anchor="start" textLength="17.49" lengthAdjust="spacingAndGlyphs" style="white-space:pre" >0.5</text>
<line x1="1047.70" y1="905.80" x2="1047.70" y2="909.30" stroke="#333" stroke-width="0.8" />
<text x="1038.71" y="920.80" font-family="'Liberation Sans', sans-serif" font-size="11.66" fill="#000" stroke="#000" stroke-width="0.132" text-anchor="start" textLength="17.49" lengthAdjust="spacingAndGlyphs" style="white-space:pre" >1.0</text>
<line x1="1101.90" y1="905.80" x2="1101.90" y2="909.30" stroke="#333" stroke-width="0.8" />
<text x="1093.03" y="920.80" font-family="'Liberation Sans', sans-serif" font-size="11.66" fill="#000" stroke="#000" stroke-width="0.132" text-anchor="start" textLength="17.49" lengthAdjust="spacingAndGlyphs" style="white-space:pre" >1.5</text>
<line x1="1156.10" y1="905.80" x2="1156.10" y2="909.30" stroke="#333" stroke-width="0.8" />
<text x="1147.32" y="920.80" font-family="'Liberation Sans', sans-serif" font-size="11.66" fill="#000" stroke="#000" stroke-width="0.132" text-anchor="start" textLength="17.49" lengthAdjust="spacingAndGlyphs" style="white-space:pre" >2.0</text>
<line x1="1210.30" y1="905.80" x2="1210.30" y2="909.30" stroke="#333" stroke-width="0.8" />
<text x="1201.63" y="920.80" font-family="'Liberation Sans', sans-serif" font-size="11.66" fill="#000" stroke="#000" stroke-width="0.132" text-anchor="start" textLength="17.49" lengthAdjust="spacingAndGlyphs" style="white-space:pre" >2.5</text>
<line x1="1264.50" y1="905.80" x2="1264.50" y2="909.30" stroke="#333" stroke-width="0.8" />
<text x="1255.70" y="920.80" font-family="'Liberation Sans', sans-serif" font-size="11.66" fill="#000" stroke="#000" stroke-width="0.132" text-anchor="start" textLength="17.49" lengthAdjust="spacingAndGlyphs" style="white-space:pre" >3.0</text>
<line x1="1318.70" y1="905.80" x2="1318.70" y2="909.30" stroke="#333" stroke-width="0.8" />
<text x="1310.01" y="920.80" font-family="'Liberation Sans', sans-serif" font-size="11.66" fill="#000" stroke="#000" stroke-width="0.132" text-anchor="start" textLength="17.49" lengthAdjust="spacingAndGlyphs" style="white-space:pre" >3.5</text>
<line x1="1007.4" y1="938" x2="1025.7" y2="938" stroke="#008000" stroke-width="1.8" stroke-dasharray="5.6,2.4"/>
<text x="1032.29" y="940.90" font-family="'Liberation Sans', sans-serif" font-size="9.61" fill="#222" stroke="#222" stroke-width="0.109" text-anchor="start" textLength="91.23" lengthAdjust="spacingAndGlyphs" style="white-space:pre" >OII z (VIRUS) = 0.45</text>
<line x1="1141.4" y1="938" x2="1159.7" y2="938" stroke="#ff0000" stroke-width="1.8" stroke-dasharray="5.6,2.4"/>
<text x="1166.11" y="940.90" font-family="'Liberation Sans', sans-serif" font-size="9.61" fill="#222" stroke="#222" stroke-width="0.109" text-anchor="start" textLength="95.37" lengthAdjust="spacingAndGlyphs" style="white-space:pre" >LyA z (VIRUS) = 3.45</text>
</svg></body></html>
